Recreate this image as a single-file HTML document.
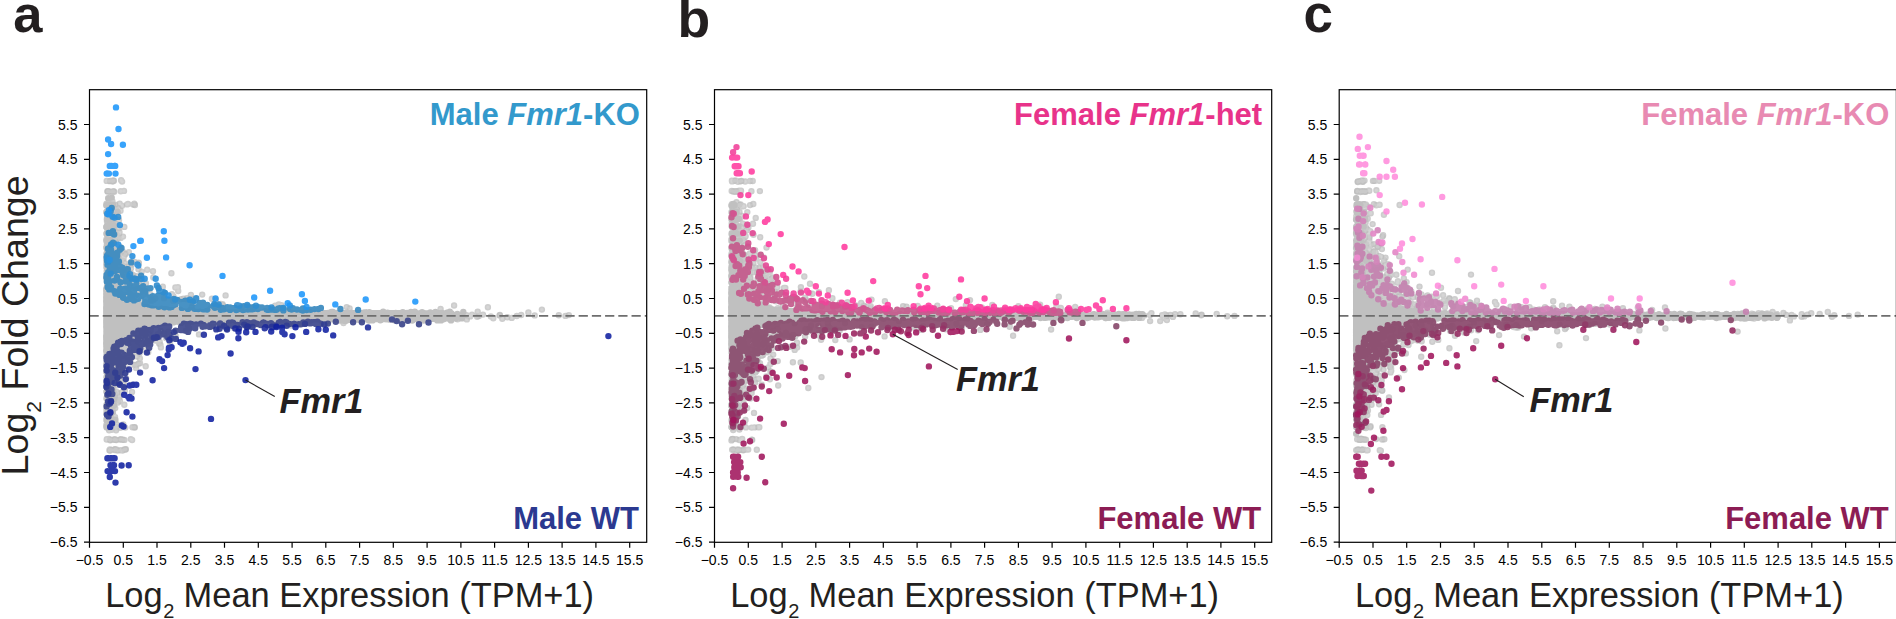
<!DOCTYPE html>
<html lang="en"><head><meta charset="utf-8"><title>Fmr1 MA plots</title>
<style>html,body{margin:0;padding:0;background:#fff;}body{width:1896px;height:619px;position:relative;overflow:hidden;font-family:'Liberation Sans', sans-serif;}</style>
</head><body>
<svg width="1896" height="619" viewBox="0 0 1896 619" style="position:absolute;left:0;top:0">
<rect width="1896" height="619" fill="#fff"/>
<g id="panel0">
<clipPath id="cp0"><rect x="89.5" y="89.7" width="557.2" height="452.6"/></clipPath>
<g clip-path="url(#cp0)" fill="none" stroke-linecap="round" stroke-width="6.4">
<path stroke="#bcbcbc" stroke-opacity="0.74" d="M134.2 335.1h0M109.7 388.0h0M145.7 366.3h0M111.4 381.5h0M110.4 212.8h0M109.6 275.7h0M106.9 278.3h0M108.9 427.7h0M115.3 379.8h0M113.5 231.5h0M124.3 322.9h0M110.8 256.5h0M115.2 309.0h0M284.1 309.1h0M136.1 368.1h0M119.7 371.5h0M111.4 241.0h0M135.6 288.5h0M114.4 273.8h0M253.6 325.0h0M115.0 311.9h0M116.3 440.0h0M111.7 274.3h0M160.5 345.0h0M112.6 397.3h0M114.2 278.4h0M134.0 307.5h0M507.3 317.2h0M528.4 312.4h0M108.4 389.9h0M113.4 261.1h0M112.4 427.3h0M113.7 350.3h0M116.4 324.0h0M153.3 277.5h0M174.9 336.9h0M121.7 366.3h0M119.0 321.2h0M114.2 353.4h0M131.1 323.6h0M171.4 273.2h0M108.2 361.2h0M225.6 295.4h0M134.4 365.0h0M160.9 347.4h0M109.6 335.2h0M125.8 320.4h0M119.7 291.4h0M109.7 294.8h0M109.8 269.1h0M130.9 265.0h0M120.7 237.9h0M141.2 299.7h0M178.2 291.0h0M113.9 302.1h0M107.8 286.0h0M106.8 346.7h0M107.0 262.6h0M119.4 313.1h0M137.1 356.5h0M138.4 363.6h0M118.4 251.8h0M139.9 313.6h0M106.8 309.8h0M117.5 345.5h0M113.1 274.1h0M116.9 234.9h0M117.4 253.5h0M146.8 328.3h0M131.9 298.6h0M455.0 316.9h0M110.7 224.1h0M110.0 222.4h0M112.7 426.8h0M110.3 324.8h0M114.1 398.2h0M108.8 381.1h0M117.0 424.7h0M155.4 298.4h0M106.5 239.2h0M108.1 289.7h0M117.3 292.0h0M108.0 374.5h0M118.4 329.1h0M113.7 308.3h0M124.4 439.9h0M110.1 308.1h0M117.3 323.8h0M112.4 330.9h0M135.0 305.3h0M108.5 251.9h0M134.8 302.7h0M134.3 299.8h0M115.1 317.4h0M123.2 291.7h0M128.9 316.6h0M134.6 427.4h0M109.5 255.6h0M112.7 246.0h0M115.9 318.9h0M118.1 237.3h0M139.6 339.8h0M170.0 318.7h0M109.2 375.4h0M114.2 256.9h0M107.3 320.5h0M112.4 369.2h0M135.1 312.1h0M116.4 340.8h0M142.7 325.2h0M122.6 318.0h0M107.3 270.2h0M132.5 427.3h0M130.8 306.1h0M107.5 244.2h0M120.8 191.3h0M275.1 305.6h0M164.6 309.4h0M145.3 305.1h0M147.8 340.9h0M124.0 190.9h0M138.7 263.4h0M136.2 327.5h0M120.2 277.2h0M126.1 315.4h0M122.0 343.0h0M113.3 318.0h0M122.0 205.8h0M116.6 346.9h0M128.8 304.3h0M114.1 246.3h0M123.7 334.2h0M115.1 282.6h0M119.9 323.5h0M110.2 450.5h0M106.6 319.5h0M111.5 450.0h0M119.0 299.5h0M107.1 217.3h0M137.7 283.3h0M140.0 324.5h0M558.8 315.2h0M112.9 181.2h0M109.5 319.4h0M118.3 310.3h0M120.5 269.9h0M124.3 328.5h0M110.9 283.5h0M118.2 291.8h0M115.2 357.9h0M110.0 191.6h0M111.6 284.8h0M133.5 348.4h0M106.7 252.9h0M115.3 439.7h0M113.6 317.8h0M111.0 398.6h0M107.9 412.7h0M112.9 259.4h0M146.1 311.0h0M291.2 325.6h0M129.4 332.9h0M142.1 279.3h0M190.9 295.0h0M300.2 323.8h0M135.0 314.3h0M127.4 314.6h0M108.3 208.8h0M130.5 272.8h0M146.4 336.1h0M146.1 342.6h0M112.0 191.8h0M110.0 415.1h0M108.2 370.7h0M440.7 315.5h0M114.4 450.1h0M111.4 278.1h0M119.9 371.7h0M131.7 342.3h0M124.3 269.8h0M111.1 221.7h0M108.5 439.2h0M126.7 283.4h0M117.0 319.2h0M123.2 349.7h0M107.6 330.1h0M121.2 296.4h0M106.6 290.2h0M122.4 282.8h0M123.3 424.4h0M147.0 318.4h0M115.2 394.3h0M116.0 318.1h0M118.4 291.5h0M145.9 283.5h0M117.8 276.8h0M114.3 280.7h0M120.3 288.7h0M189.0 328.1h0M123.5 348.2h0M112.4 191.5h0M120.0 369.2h0M110.0 277.8h0M172.2 336.4h0M114.0 380.6h0M135.7 353.2h0M134.4 322.6h0M125.4 309.4h0M183.5 298.8h0M121.2 251.1h0M119.3 271.0h0M114.0 230.8h0M121.7 320.5h0M106.8 205.2h0M135.1 334.7h0M136.1 307.7h0M108.7 285.5h0M112.8 289.0h0M116.4 344.8h0M111.0 379.5h0M483.0 314.6h0M108.0 297.0h0M115.0 240.8h0M113.2 284.2h0M125.6 290.5h0M124.7 263.1h0M109.8 377.5h0M136.7 322.4h0M113.1 227.1h0M124.8 391.0h0M141.7 322.5h0M110.2 250.7h0M120.5 299.2h0M113.2 206.5h0M130.2 308.8h0M431.8 315.1h0M106.8 335.6h0M118.8 298.6h0M113.2 350.1h0M117.3 363.2h0M442.8 316.7h0M107.7 246.3h0M120.4 450.3h0M115.4 450.0h0M114.3 330.6h0M114.2 378.9h0M136.6 276.1h0M150.6 325.7h0M534.7 315.4h0M123.6 333.3h0M541.9 309.6h0M137.4 286.1h0M118.2 332.5h0M108.0 222.6h0M142.9 291.2h0M123.0 304.4h0M109.5 235.6h0M109.6 206.1h0M134.7 307.0h0M143.8 319.8h0M117.7 296.5h0M131.2 358.6h0M133.8 344.8h0M477.7 311.7h0M131.9 317.4h0M115.6 369.4h0M110.5 369.1h0M122.1 181.6h0M138.9 312.5h0M108.4 370.8h0M121.0 296.1h0M109.2 291.3h0M138.7 305.5h0M107.2 392.6h0M111.2 257.4h0M113.5 284.0h0M142.5 306.9h0M107.8 247.0h0M124.3 295.3h0M134.9 205.0h0M138.5 333.4h0M116.4 312.7h0M150.9 313.5h0M112.8 334.2h0M125.4 330.3h0M106.5 364.8h0M109.9 307.8h0M112.6 359.4h0M210.6 308.2h0M134.3 343.8h0M132.7 276.5h0M129.2 293.1h0M111.1 252.7h0M141.6 271.8h0M109.2 309.4h0M108.1 191.2h0M110.4 180.9h0M120.0 401.1h0M115.6 449.6h0M107.9 407.5h0M115.8 242.6h0M127.6 339.8h0M436.0 315.9h0M112.1 384.3h0M108.1 236.9h0M109.8 415.1h0M124.1 368.3h0M127.3 297.4h0M151.4 299.5h0M349.6 308.5h0M129.8 353.2h0M121.9 371.5h0M134.7 262.0h0M113.4 385.0h0M107.0 338.9h0M117.4 303.3h0M121.5 392.4h0M110.0 307.4h0M138.8 281.3h0M127.2 295.5h0M128.0 310.9h0M117.1 247.2h0M177.9 287.2h0M126.2 328.5h0M110.9 423.7h0M107.8 317.5h0M117.8 363.5h0M141.2 329.6h0M109.7 404.3h0M107.2 204.4h0M123.6 296.2h0M119.2 399.6h0M108.6 338.5h0M117.0 319.2h0M116.4 318.5h0M106.8 439.2h0M107.6 230.6h0M119.1 250.2h0M125.9 319.1h0M128.5 312.1h0M111.9 272.9h0M109.2 439.4h0M163.8 333.5h0M124.3 302.6h0M114.3 310.9h0M134.9 305.9h0M133.9 322.3h0M123.7 322.3h0M113.8 290.8h0M113.9 301.4h0M109.1 438.9h0M112.5 391.0h0M133.5 308.8h0M466.8 319.4h0M118.6 258.2h0M110.4 407.4h0M111.8 282.9h0M107.1 348.8h0M111.8 326.3h0M115.7 208.8h0M453.7 316.1h0M139.1 284.6h0M145.2 291.2h0M114.3 259.5h0M110.2 322.5h0M111.1 204.5h0M113.3 191.3h0M145.2 330.4h0M129.6 328.9h0M114.2 292.9h0M129.8 280.6h0M156.2 318.0h0M118.9 302.3h0M115.2 211.1h0M120.4 427.7h0M188.0 325.2h0M478.9 315.9h0M122.5 450.5h0M116.4 337.9h0M114.9 439.1h0M116.5 337.9h0M123.0 365.0h0M112.5 180.8h0M113.4 288.6h0M110.9 330.5h0M111.2 400.0h0M132.0 384.7h0M119.4 332.4h0M127.0 357.7h0M113.0 411.5h0M119.6 345.4h0M144.1 308.9h0M122.5 260.6h0M113.2 241.5h0M118.8 228.5h0M143.5 315.0h0M110.6 338.0h0M137.1 336.7h0M122.6 331.1h0M133.8 339.7h0M111.1 262.5h0M107.8 205.0h0M130.7 262.3h0M175.4 287.5h0M123.0 309.5h0M109.6 322.6h0M137.0 345.2h0M109.8 372.0h0M111.5 258.3h0M202.6 314.7h0M171.4 318.3h0M281.6 305.1h0M115.7 272.2h0M130.0 287.3h0M115.6 423.1h0M430.5 318.8h0M148.2 352.3h0M116.6 317.6h0M117.8 254.4h0M111.0 267.5h0M145.2 291.3h0M324.8 323.6h0M106.5 247.5h0M114.7 401.1h0M141.0 292.2h0M109.3 408.5h0M137.9 326.2h0M109.5 243.5h0M116.7 357.4h0M127.0 297.7h0M222.5 304.1h0M112.6 262.3h0M123.5 348.0h0M114.8 356.6h0M135.1 342.6h0M124.3 283.6h0M118.4 342.0h0M117.5 351.5h0M499.9 315.0h0M114.7 330.6h0M121.6 303.8h0M122.4 356.7h0M116.4 270.5h0M114.0 353.7h0M129.5 317.7h0M108.6 204.1h0M112.0 322.2h0M108.7 294.8h0M125.4 318.3h0M111.5 205.6h0M241.0 325.2h0M191.6 307.3h0M487.9 307.2h0M125.1 388.2h0M108.4 385.9h0M113.6 372.9h0M120.4 319.6h0M109.3 287.3h0M134.8 312.3h0M110.3 224.7h0M113.2 324.9h0M130.8 326.0h0M215.9 299.6h0M149.1 333.6h0M123.7 380.3h0M147.2 327.8h0M145.4 302.1h0M109.3 313.3h0M136.5 323.7h0M125.3 449.5h0M126.5 312.3h0M141.1 332.4h0M111.9 382.8h0M112.7 401.4h0M127.3 295.3h0M129.7 361.8h0M113.9 273.8h0M106.7 439.6h0M116.3 449.4h0M112.0 371.0h0M108.7 386.0h0M111.8 331.6h0M135.3 295.1h0M112.9 282.7h0M119.3 369.8h0M436.3 318.2h0M141.6 309.9h0M114.5 376.3h0M120.3 238.1h0M111.6 418.2h0M114.2 325.6h0M124.2 351.0h0M115.6 375.1h0M124.3 404.7h0M130.2 338.1h0M107.7 340.4h0M109.3 272.9h0M124.3 226.9h0M112.8 306.9h0M122.0 275.1h0M219.6 305.6h0M119.7 203.6h0M132.5 318.7h0M135.9 307.9h0M143.2 306.4h0M112.9 392.4h0M112.5 327.3h0M111.0 231.9h0M126.1 378.5h0M115.6 302.7h0M130.6 308.9h0M116.2 285.0h0M278.8 304.4h0M185.9 330.6h0M109.0 404.4h0M115.3 449.3h0M122.0 342.0h0M119.2 369.7h0M126.4 296.9h0M114.2 423.1h0M113.4 426.8h0M120.9 439.3h0M114.0 300.6h0M113.2 180.8h0M109.6 279.2h0M116.3 427.3h0M142.8 326.6h0M121.9 322.1h0M111.9 366.1h0M142.6 287.3h0M119.0 238.2h0M118.6 262.6h0M110.9 390.6h0M150.8 340.6h0M106.6 383.6h0M114.1 320.9h0M124.4 312.3h0M121.2 260.5h0M123.0 317.1h0M109.8 262.0h0M111.1 326.7h0M126.0 349.0h0M116.6 339.7h0M109.7 204.1h0M134.7 286.0h0M126.6 349.3h0M130.5 340.7h0M142.1 329.3h0M122.0 335.4h0M107.5 191.4h0M110.9 439.8h0M110.2 409.3h0M565.5 315.9h0M109.7 372.6h0M114.4 427.5h0M128.2 309.3h0M110.6 374.3h0M249.9 326.3h0M106.7 427.6h0M118.4 296.5h0M119.5 306.5h0M220.8 304.0h0M116.4 224.1h0M107.3 301.2h0M115.2 266.2h0M130.9 310.3h0M440.6 308.9h0M119.4 338.3h0M127.0 268.6h0M110.0 181.1h0M447.9 316.8h0M129.8 314.7h0M112.9 266.0h0M141.5 328.5h0M116.1 305.6h0M137.1 346.6h0M141.0 306.2h0M129.1 299.2h0M106.6 227.3h0M122.1 288.9h0M110.6 313.1h0M117.7 254.9h0M125.5 253.9h0M120.2 247.0h0M135.6 295.6h0M140.6 330.4h0M129.2 287.8h0M107.3 385.2h0M119.5 317.7h0M125.0 289.4h0M108.2 307.5h0M128.8 316.5h0M123.0 236.6h0M119.2 278.3h0M121.1 180.2h0M127.1 282.0h0M154.4 309.6h0M118.5 306.9h0M107.6 402.7h0M110.9 399.4h0M125.7 280.9h0M112.4 327.8h0M113.8 334.5h0M128.5 321.2h0"/>
<path stroke="#bcbcbc" stroke-opacity="0.74" d="M107.2 247.3h0M130.1 283.6h0M115.4 339.0h0M123.1 343.1h0M110.1 280.7h0M117.4 297.5h0M120.5 337.2h0M112.1 329.7h0M111.0 285.6h0M115.2 367.0h0M111.8 347.0h0M127.1 204.4h0M107.5 251.2h0M127.4 362.3h0M132.2 353.0h0M117.5 393.0h0M107.3 313.5h0M132.0 392.0h0M143.7 312.4h0M122.5 329.6h0M155.7 340.6h0M113.8 313.6h0M117.4 322.2h0M128.4 297.0h0M144.0 333.4h0M114.1 338.6h0M477.2 316.7h0M126.8 300.9h0M151.2 320.3h0M110.3 323.1h0M121.4 251.7h0M107.8 332.7h0M107.1 378.1h0M116.6 276.5h0M118.5 237.6h0M109.1 430.2h0M128.3 343.5h0M466.6 315.2h0M113.2 234.4h0M128.5 331.6h0M121.6 294.8h0M133.0 274.9h0M109.9 449.5h0M109.3 245.5h0M215.9 327.0h0M109.7 221.6h0M111.0 318.3h0M161.6 319.3h0M106.8 317.5h0M121.9 319.0h0M130.7 322.2h0M108.6 326.6h0M108.9 202.2h0M168.3 331.7h0M113.9 180.8h0M122.2 330.9h0M107.7 191.3h0M120.0 349.4h0M153.0 271.2h0M140.8 338.5h0M187.4 299.0h0M114.3 359.2h0M106.4 351.2h0M117.1 288.2h0M108.9 269.6h0M521.2 315.0h0M111.5 232.1h0M147.6 344.1h0M109.9 398.9h0M112.3 382.4h0M134.3 203.6h0M125.3 304.5h0M468.9 316.5h0M119.9 329.9h0M127.6 282.1h0M111.3 232.4h0M108.5 331.2h0M117.2 305.9h0M127.2 298.4h0M115.3 373.4h0M109.1 191.7h0M137.2 288.5h0M124.6 320.6h0M125.3 344.4h0M112.2 284.6h0M161.1 312.0h0M152.4 300.1h0M493.3 318.2h0M141.0 343.5h0M113.2 392.9h0M122.0 332.2h0M120.2 281.9h0M141.8 327.1h0M176.5 317.5h0M118.7 265.6h0M113.5 315.7h0M107.7 293.1h0M122.7 346.6h0M111.8 281.1h0M143.9 290.4h0M142.6 348.9h0M117.2 313.6h0M137.8 303.7h0M120.8 338.1h0M111.2 303.7h0M138.5 269.3h0M109.7 202.6h0M196.0 299.0h0M423.8 316.8h0M121.1 309.2h0M502.3 318.7h0M108.5 230.0h0M130.9 290.1h0M134.5 326.3h0M113.9 216.7h0M131.4 300.3h0M116.6 372.9h0M157.6 334.2h0M108.7 181.1h0M116.8 374.7h0M116.1 391.4h0M140.7 350.6h0M110.7 282.8h0M110.2 255.8h0M111.0 301.2h0M133.8 315.3h0M125.3 427.6h0M117.9 260.9h0M140.0 363.3h0M137.9 342.8h0M127.4 359.9h0M119.0 234.0h0M124.1 268.7h0M119.0 220.0h0M118.0 352.8h0M118.1 255.2h0M109.7 232.2h0M106.4 409.8h0M115.4 313.4h0M132.1 319.8h0M108.9 406.6h0M119.7 325.9h0M123.1 269.5h0M109.9 377.6h0M150.5 330.7h0M137.3 294.1h0M122.5 271.2h0M124.4 255.5h0M139.4 353.6h0M123.3 272.6h0M152.3 339.2h0M151.2 301.1h0M222.8 307.3h0M109.7 245.4h0M152.9 309.7h0M109.6 362.6h0M134.9 292.4h0M114.1 347.6h0M110.4 204.1h0M109.2 353.6h0M108.8 332.8h0M454.1 305.5h0M107.5 375.6h0M490.9 316.5h0M121.6 335.4h0M118.7 256.5h0M116.9 265.4h0M108.2 292.9h0M128.0 339.5h0M108.6 324.3h0M117.5 298.1h0M147.2 269.8h0M107.0 382.1h0M441.4 312.9h0M155.5 315.5h0M114.6 204.8h0M115.8 320.8h0M216.7 328.3h0M132.8 290.3h0M131.6 261.9h0M145.9 291.4h0M117.2 232.1h0M140.4 315.6h0M121.1 329.0h0M106.6 314.7h0M122.9 366.0h0M470.1 316.4h0M126.6 275.1h0M115.7 267.8h0M124.7 348.8h0M431.6 317.8h0M141.5 318.4h0M106.9 337.1h0M107.9 415.0h0M114.2 335.4h0M112.9 296.1h0M118.4 299.4h0M108.3 367.0h0M125.9 345.8h0M117.6 278.4h0M211.9 298.7h0M107.0 390.7h0M121.1 293.6h0M111.5 281.0h0M131.0 268.2h0M109.6 287.2h0M119.1 339.5h0M114.4 278.9h0M127.0 316.5h0M123.6 280.8h0M121.9 266.8h0M113.5 238.4h0M146.3 320.2h0M124.4 370.4h0M181.1 299.3h0M112.4 291.7h0M107.4 286.0h0M129.9 299.0h0M568.8 315.1h0M115.9 296.2h0M109.1 427.7h0M470.2 315.9h0M111.8 241.2h0M109.6 313.2h0M142.1 282.4h0M113.5 387.7h0M147.7 325.2h0M107.9 316.9h0M108.6 332.2h0M107.7 235.4h0M516.8 316.0h0M127.7 276.1h0M119.0 294.5h0M128.4 301.9h0M109.1 349.2h0M113.8 244.7h0M116.5 333.9h0M119.9 322.6h0M107.3 423.2h0M106.7 226.5h0M114.2 327.9h0M122.1 287.0h0M132.1 440.0h0M108.9 281.9h0M111.7 305.1h0M107.9 307.8h0M112.9 403.5h0M113.7 209.4h0M120.5 210.8h0M135.9 308.4h0M117.6 450.6h0M122.7 331.3h0M123.1 257.5h0M107.1 326.1h0M113.0 341.9h0M118.0 334.4h0M446.9 315.2h0M121.7 359.3h0M118.6 362.2h0M109.8 207.0h0M129.9 317.7h0M135.1 318.3h0M113.7 319.9h0M138.0 323.8h0M137.2 306.8h0M173.3 300.9h0M222.7 305.3h0M119.8 314.5h0M109.4 256.5h0M114.2 191.7h0M112.5 181.3h0M122.8 251.7h0M126.2 369.3h0M111.2 250.1h0M186.8 298.2h0M143.6 347.7h0M106.8 244.4h0M111.5 232.1h0M114.8 314.9h0M106.8 226.9h0M124.2 311.3h0M115.1 303.7h0M109.8 388.3h0M107.1 386.6h0M138.7 262.6h0M459.6 315.6h0M116.3 364.7h0M108.4 229.2h0M109.4 204.8h0M116.0 266.2h0M127.4 309.7h0M127.3 288.1h0M116.0 251.6h0M126.2 313.3h0M199.0 334.4h0M120.9 371.2h0M250.4 307.3h0M109.2 274.7h0M148.2 340.4h0M114.5 278.6h0M118.8 345.3h0M255.9 324.4h0M122.5 370.4h0M116.1 426.9h0M120.0 277.4h0M106.7 339.1h0M126.4 280.8h0M111.2 411.5h0M110.1 303.8h0M113.7 408.0h0M110.2 440.3h0M123.6 258.4h0M115.9 251.0h0M112.4 201.3h0M122.0 347.0h0M218.3 325.0h0M292.3 324.3h0M121.1 336.9h0M113.2 229.7h0M135.7 337.2h0M191.2 298.9h0M116.6 384.2h0M109.5 299.6h0M119.6 356.9h0M118.3 384.8h0M108.7 308.0h0M109.3 224.6h0M449.8 316.1h0M107.4 404.2h0M134.6 427.2h0M111.5 330.2h0M128.9 252.3h0M122.6 311.6h0M115.0 417.0h0M117.1 232.1h0M109.2 333.8h0M108.1 288.2h0M125.9 319.8h0M112.4 223.9h0M115.8 275.1h0M125.6 321.5h0M452.5 317.7h0M126.6 327.8h0M124.4 449.5h0M115.4 238.4h0M126.7 321.9h0M119.6 291.2h0M114.8 294.1h0M106.9 245.7h0M133.2 300.8h0M111.1 401.1h0M151.1 300.1h0M121.9 286.5h0M113.1 353.2h0M113.5 415.4h0M141.8 343.0h0M125.6 309.4h0M124.8 334.8h0M173.4 296.2h0M110.7 279.2h0M132.8 302.9h0M124.8 302.1h0M113.7 280.0h0M164.2 313.6h0M114.2 316.1h0M121.9 340.5h0M145.8 334.9h0M149.3 318.2h0M116.9 294.5h0M461.1 317.4h0M117.9 302.3h0M125.7 278.0h0M149.3 294.8h0M114.1 263.1h0M107.4 323.8h0M120.4 306.9h0M457.6 319.2h0M499.6 315.5h0M113.7 371.3h0M202.2 294.6h0M120.6 329.7h0M113.3 311.1h0M245.6 325.2h0M116.8 374.7h0M241.6 307.2h0M121.6 264.4h0M280.5 307.6h0M159.2 343.6h0M109.0 311.1h0M152.9 317.9h0M111.0 364.7h0M166.0 338.1h0M139.9 358.4h0M439.8 315.6h0M121.1 308.3h0M106.5 424.8h0M125.4 295.0h0M129.7 339.5h0M107.4 378.0h0M113.5 315.6h0M234.2 328.3h0M119.4 397.3h0M108.0 396.0h0M165.6 320.8h0M110.3 251.4h0M117.5 336.1h0M117.2 313.2h0M111.6 272.9h0M128.8 304.5h0M109.2 371.5h0M117.0 290.1h0M115.3 204.6h0M115.6 285.0h0M121.6 298.6h0M118.0 297.8h0M122.9 305.0h0M150.3 294.0h0M129.7 293.1h0M135.9 327.8h0M121.9 336.5h0M109.3 248.0h0M107.3 255.1h0M110.0 286.8h0M107.4 257.9h0M115.5 287.7h0M107.5 214.5h0M110.4 407.3h0M125.8 449.2h0M150.9 328.1h0M114.7 205.5h0M113.1 306.5h0M112.8 345.3h0M132.3 353.3h0M130.2 276.8h0M110.1 363.3h0M215.0 305.3h0M115.1 210.9h0M472.0 314.6h0M126.8 329.7h0M128.4 266.7h0M121.6 267.0h0M346.7 307.1h0M136.8 317.9h0M148.5 323.2h0M115.5 266.3h0M141.9 332.4h0M110.8 289.8h0M115.2 408.1h0M127.9 318.0h0M114.2 439.7h0M118.5 329.0h0M182.0 322.2h0M113.1 341.6h0M119.3 248.1h0M129.0 316.8h0M114.6 234.9h0M121.9 341.2h0M136.2 365.0h0M124.5 358.7h0M149.1 310.3h0M124.0 274.2h0M106.7 180.9h0M112.1 258.7h0M114.7 323.7h0M118.0 342.7h0M112.9 268.5h0M134.4 310.3h0M112.7 216.4h0M121.6 303.0h0M113.2 409.1h0M124.8 266.8h0M112.9 336.5h0M115.6 324.6h0M125.2 285.7h0M124.6 284.4h0M124.7 328.2h0M122.5 382.9h0M116.0 247.0h0M117.9 363.5h0M107.7 300.1h0M159.7 341.7h0M118.0 402.6h0M120.1 439.6h0M118.4 208.3h0M114.8 339.3h0M107.0 413.7h0M114.0 330.5h0M112.9 324.3h0M108.1 255.6h0M436.8 317.9h0M110.8 244.1h0M118.6 289.5h0M107.3 243.5h0M111.4 234.5h0M119.0 340.8h0M108.2 327.9h0M123.3 343.4h0M110.4 318.2h0M107.2 249.7h0M121.8 281.7h0M116.8 384.6h0M108.1 312.9h0M107.5 286.9h0M111.9 429.7h0M130.1 339.4h0M116.1 254.7h0M125.3 339.2h0M143.7 348.5h0M108.1 240.0h0M115.2 294.3h0M114.8 449.5h0M114.4 347.2h0M107.4 252.9h0M133.9 330.6h0M110.6 241.1h0M143.1 294.7h0M162.8 286.7h0M137.1 294.3h0M130.5 305.5h0M122.5 439.7h0M111.0 217.3h0M110.6 363.6h0M119.0 335.5h0M107.4 341.5h0M343.5 323.1h0M106.5 211.9h0M109.4 450.3h0M118.0 290.2h0M114.9 225.6h0M117.2 304.6h0M111.1 394.7h0M122.5 329.0h0M123.3 334.0h0M108.2 222.6h0M116.7 323.0h0M132.2 303.0h0M192.8 303.7h0M116.1 430.2h0M108.2 256.2h0M115.3 262.7h0M115.2 426.9h0M138.9 342.9h0M120.6 262.3h0M114.0 262.8h0M111.3 241.4h0M141.4 331.0h0M111.7 250.2h0M117.9 400.0h0M108.1 257.0h0M131.3 297.5h0M107.4 203.6h0M122.8 366.7h0M121.8 282.3h0M119.6 250.8h0M108.4 321.8h0M118.4 247.0h0M119.5 232.3h0M125.2 372.9h0M136.6 302.5h0M109.9 402.7h0M126.8 353.1h0M140.9 280.8h0M109.5 426.2h0M116.9 361.8h0M106.7 366.7h0M108.4 323.6h0M114.4 305.4h0M112.5 304.2h0M115.5 239.0h0M175.6 335.6h0M108.9 295.1h0M135.8 291.6h0M152.7 316.2h0M130.8 439.1h0M133.2 204.6h0M126.9 316.5h0M134.2 339.6h0M108.8 426.8h0M153.1 300.3h0M110.4 368.2h0M164.1 298.4h0M186.9 299.4h0M211.7 326.6h0M124.2 384.8h0M119.1 248.0h0M163.7 309.6h0M160.7 331.0h0M111.3 240.5h0M170.0 343.0h0M114.9 439.9h0M128.0 203.9h0M171.9 320.6h0M120.7 380.5h0M110.8 323.6h0M108.8 356.5h0M106.5 203.8h0M115.6 298.6h0M107.0 221.5h0M107.9 421.4h0M113.7 426.9h0M127.3 360.2h0M112.4 422.0h0M171.9 294.3h0M137.7 340.1h0M511.7 317.9h0"/>
<path stroke="#fff" stroke-width="3.4" stroke-opacity="0.16" d="M134.2 335.1h0M109.7 388.0h0M145.7 366.3h0M111.4 381.5h0M110.4 212.8h0M109.6 275.7h0M106.9 278.3h0M108.9 427.7h0M115.3 379.8h0M113.5 231.5h0M124.3 322.9h0M110.8 256.5h0M115.2 309.0h0M284.1 309.1h0M136.1 368.1h0M119.7 371.5h0M111.4 241.0h0M135.6 288.5h0M114.4 273.8h0M253.6 325.0h0M115.0 311.9h0M116.3 440.0h0M111.7 274.3h0M160.5 345.0h0M112.6 397.3h0M114.2 278.4h0M134.0 307.5h0M507.3 317.2h0M528.4 312.4h0M108.4 389.9h0M113.4 261.1h0M112.4 427.3h0M113.7 350.3h0M116.4 324.0h0M153.3 277.5h0M174.9 336.9h0M121.7 366.3h0M119.0 321.2h0M114.2 353.4h0M131.1 323.6h0M171.4 273.2h0M108.2 361.2h0M225.6 295.4h0M134.4 365.0h0M160.9 347.4h0M109.6 335.2h0M125.8 320.4h0M119.7 291.4h0M109.7 294.8h0M109.8 269.1h0M130.9 265.0h0M120.7 237.9h0M141.2 299.7h0M178.2 291.0h0M113.9 302.1h0M107.8 286.0h0M106.8 346.7h0M107.0 262.6h0M119.4 313.1h0M137.1 356.5h0M138.4 363.6h0M118.4 251.8h0M139.9 313.6h0M106.8 309.8h0M117.5 345.5h0M113.1 274.1h0M116.9 234.9h0M117.4 253.5h0M146.8 328.3h0M131.9 298.6h0M455.0 316.9h0M110.7 224.1h0M110.0 222.4h0M112.7 426.8h0M110.3 324.8h0M114.1 398.2h0M108.8 381.1h0M117.0 424.7h0M155.4 298.4h0M106.5 239.2h0M108.1 289.7h0M117.3 292.0h0M108.0 374.5h0M118.4 329.1h0M113.7 308.3h0M124.4 439.9h0M110.1 308.1h0M117.3 323.8h0M112.4 330.9h0M135.0 305.3h0M108.5 251.9h0M134.8 302.7h0M134.3 299.8h0M115.1 317.4h0M123.2 291.7h0M128.9 316.6h0M134.6 427.4h0M109.5 255.6h0M112.7 246.0h0M115.9 318.9h0M118.1 237.3h0M139.6 339.8h0M170.0 318.7h0M109.2 375.4h0M114.2 256.9h0M107.3 320.5h0M112.4 369.2h0M135.1 312.1h0M116.4 340.8h0M142.7 325.2h0M122.6 318.0h0M107.3 270.2h0M132.5 427.3h0M130.8 306.1h0M107.5 244.2h0M120.8 191.3h0M275.1 305.6h0M164.6 309.4h0M145.3 305.1h0M147.8 340.9h0M124.0 190.9h0M138.7 263.4h0M136.2 327.5h0M120.2 277.2h0M126.1 315.4h0M122.0 343.0h0M113.3 318.0h0M122.0 205.8h0M116.6 346.9h0M128.8 304.3h0M114.1 246.3h0M123.7 334.2h0M115.1 282.6h0M119.9 323.5h0M110.2 450.5h0M106.6 319.5h0M111.5 450.0h0M119.0 299.5h0M107.1 217.3h0M137.7 283.3h0M140.0 324.5h0M558.8 315.2h0M112.9 181.2h0M109.5 319.4h0M118.3 310.3h0M120.5 269.9h0M124.3 328.5h0M110.9 283.5h0M118.2 291.8h0M115.2 357.9h0M110.0 191.6h0M111.6 284.8h0M133.5 348.4h0M106.7 252.9h0M115.3 439.7h0M113.6 317.8h0M111.0 398.6h0M107.9 412.7h0M112.9 259.4h0M146.1 311.0h0M291.2 325.6h0M129.4 332.9h0M142.1 279.3h0M190.9 295.0h0M300.2 323.8h0M135.0 314.3h0M127.4 314.6h0M108.3 208.8h0M130.5 272.8h0M146.4 336.1h0M146.1 342.6h0M112.0 191.8h0M110.0 415.1h0M108.2 370.7h0M440.7 315.5h0M114.4 450.1h0M111.4 278.1h0M119.9 371.7h0M131.7 342.3h0M124.3 269.8h0M111.1 221.7h0M108.5 439.2h0M126.7 283.4h0M117.0 319.2h0M123.2 349.7h0M107.6 330.1h0M121.2 296.4h0M106.6 290.2h0M122.4 282.8h0M123.3 424.4h0M147.0 318.4h0M115.2 394.3h0M116.0 318.1h0M118.4 291.5h0M145.9 283.5h0M117.8 276.8h0M114.3 280.7h0M120.3 288.7h0M189.0 328.1h0M123.5 348.2h0M112.4 191.5h0M120.0 369.2h0M110.0 277.8h0M172.2 336.4h0M114.0 380.6h0M135.7 353.2h0M134.4 322.6h0M125.4 309.4h0M183.5 298.8h0M121.2 251.1h0M119.3 271.0h0M114.0 230.8h0M121.7 320.5h0M106.8 205.2h0M135.1 334.7h0M136.1 307.7h0M108.7 285.5h0M112.8 289.0h0M116.4 344.8h0M111.0 379.5h0M483.0 314.6h0M108.0 297.0h0M115.0 240.8h0M113.2 284.2h0M125.6 290.5h0M124.7 263.1h0M109.8 377.5h0M136.7 322.4h0M113.1 227.1h0M124.8 391.0h0M141.7 322.5h0M110.2 250.7h0M120.5 299.2h0M113.2 206.5h0M130.2 308.8h0M431.8 315.1h0M106.8 335.6h0M118.8 298.6h0M113.2 350.1h0M117.3 363.2h0M442.8 316.7h0M107.7 246.3h0M120.4 450.3h0M115.4 450.0h0M114.3 330.6h0M114.2 378.9h0M136.6 276.1h0M150.6 325.7h0M534.7 315.4h0M123.6 333.3h0M541.9 309.6h0M137.4 286.1h0M118.2 332.5h0M108.0 222.6h0M142.9 291.2h0M123.0 304.4h0M109.5 235.6h0M109.6 206.1h0M134.7 307.0h0M143.8 319.8h0M117.7 296.5h0M131.2 358.6h0M133.8 344.8h0M477.7 311.7h0M131.9 317.4h0M115.6 369.4h0M110.5 369.1h0M122.1 181.6h0M138.9 312.5h0M108.4 370.8h0M121.0 296.1h0M109.2 291.3h0M138.7 305.5h0M107.2 392.6h0M111.2 257.4h0M113.5 284.0h0M142.5 306.9h0M107.8 247.0h0M124.3 295.3h0M134.9 205.0h0M138.5 333.4h0M116.4 312.7h0M150.9 313.5h0M112.8 334.2h0M125.4 330.3h0M106.5 364.8h0M109.9 307.8h0M112.6 359.4h0M210.6 308.2h0M134.3 343.8h0M132.7 276.5h0M129.2 293.1h0M111.1 252.7h0M141.6 271.8h0M109.2 309.4h0M108.1 191.2h0M110.4 180.9h0M120.0 401.1h0M115.6 449.6h0M107.9 407.5h0M115.8 242.6h0M127.6 339.8h0M436.0 315.9h0M112.1 384.3h0M108.1 236.9h0M109.8 415.1h0M124.1 368.3h0M127.3 297.4h0M151.4 299.5h0M349.6 308.5h0M129.8 353.2h0M121.9 371.5h0M134.7 262.0h0M113.4 385.0h0M107.0 338.9h0M117.4 303.3h0M121.5 392.4h0M110.0 307.4h0M138.8 281.3h0M127.2 295.5h0M128.0 310.9h0M117.1 247.2h0M177.9 287.2h0M126.2 328.5h0M110.9 423.7h0M107.8 317.5h0M117.8 363.5h0M141.2 329.6h0M109.7 404.3h0M107.2 204.4h0M123.6 296.2h0M119.2 399.6h0M108.6 338.5h0M117.0 319.2h0M116.4 318.5h0M106.8 439.2h0M107.6 230.6h0M119.1 250.2h0M125.9 319.1h0M128.5 312.1h0M111.9 272.9h0M109.2 439.4h0M163.8 333.5h0M124.3 302.6h0M114.3 310.9h0M134.9 305.9h0M133.9 322.3h0M123.7 322.3h0M113.8 290.8h0M113.9 301.4h0M109.1 438.9h0M112.5 391.0h0M133.5 308.8h0M466.8 319.4h0M118.6 258.2h0M110.4 407.4h0M111.8 282.9h0M107.1 348.8h0M111.8 326.3h0M115.7 208.8h0M453.7 316.1h0M139.1 284.6h0M145.2 291.2h0M114.3 259.5h0M110.2 322.5h0M111.1 204.5h0M113.3 191.3h0M145.2 330.4h0M129.6 328.9h0M114.2 292.9h0M129.8 280.6h0M156.2 318.0h0M118.9 302.3h0M115.2 211.1h0M120.4 427.7h0M188.0 325.2h0M478.9 315.9h0M122.5 450.5h0M116.4 337.9h0M114.9 439.1h0M116.5 337.9h0M123.0 365.0h0M112.5 180.8h0M113.4 288.6h0M110.9 330.5h0M111.2 400.0h0M132.0 384.7h0M119.4 332.4h0M127.0 357.7h0M113.0 411.5h0M119.6 345.4h0M144.1 308.9h0M122.5 260.6h0M113.2 241.5h0M118.8 228.5h0M143.5 315.0h0M110.6 338.0h0M137.1 336.7h0M122.6 331.1h0M133.8 339.7h0M111.1 262.5h0M107.8 205.0h0M130.7 262.3h0M175.4 287.5h0M123.0 309.5h0M109.6 322.6h0M137.0 345.2h0M109.8 372.0h0M111.5 258.3h0M202.6 314.7h0M171.4 318.3h0M281.6 305.1h0M115.7 272.2h0M130.0 287.3h0M115.6 423.1h0M430.5 318.8h0M148.2 352.3h0M116.6 317.6h0M117.8 254.4h0M111.0 267.5h0M145.2 291.3h0M324.8 323.6h0M106.5 247.5h0M114.7 401.1h0M141.0 292.2h0M109.3 408.5h0M137.9 326.2h0M109.5 243.5h0M116.7 357.4h0M127.0 297.7h0M222.5 304.1h0M112.6 262.3h0M123.5 348.0h0M114.8 356.6h0M135.1 342.6h0M124.3 283.6h0M118.4 342.0h0M117.5 351.5h0M499.9 315.0h0M114.7 330.6h0M121.6 303.8h0M122.4 356.7h0M116.4 270.5h0M114.0 353.7h0M129.5 317.7h0M108.6 204.1h0M112.0 322.2h0M108.7 294.8h0M125.4 318.3h0M111.5 205.6h0M241.0 325.2h0M191.6 307.3h0M487.9 307.2h0M125.1 388.2h0M108.4 385.9h0M113.6 372.9h0M120.4 319.6h0M109.3 287.3h0M134.8 312.3h0M110.3 224.7h0M113.2 324.9h0M130.8 326.0h0M215.9 299.6h0M149.1 333.6h0M123.7 380.3h0M147.2 327.8h0M145.4 302.1h0M109.3 313.3h0M136.5 323.7h0M125.3 449.5h0M126.5 312.3h0M141.1 332.4h0M111.9 382.8h0M112.7 401.4h0M127.3 295.3h0M129.7 361.8h0M113.9 273.8h0M106.7 439.6h0M116.3 449.4h0M112.0 371.0h0M108.7 386.0h0M111.8 331.6h0M135.3 295.1h0M112.9 282.7h0M119.3 369.8h0M436.3 318.2h0M141.6 309.9h0M114.5 376.3h0M120.3 238.1h0M111.6 418.2h0M114.2 325.6h0M124.2 351.0h0M115.6 375.1h0M124.3 404.7h0M130.2 338.1h0M107.7 340.4h0M109.3 272.9h0M124.3 226.9h0M112.8 306.9h0M122.0 275.1h0M219.6 305.6h0M119.7 203.6h0M132.5 318.7h0M135.9 307.9h0M143.2 306.4h0M112.9 392.4h0M112.5 327.3h0M111.0 231.9h0M126.1 378.5h0M115.6 302.7h0M130.6 308.9h0M116.2 285.0h0M278.8 304.4h0M185.9 330.6h0M109.0 404.4h0M115.3 449.3h0M122.0 342.0h0M119.2 369.7h0M126.4 296.9h0M114.2 423.1h0M113.4 426.8h0M120.9 439.3h0M114.0 300.6h0M113.2 180.8h0M109.6 279.2h0M116.3 427.3h0M142.8 326.6h0M121.9 322.1h0M111.9 366.1h0M142.6 287.3h0M119.0 238.2h0M118.6 262.6h0M110.9 390.6h0M150.8 340.6h0M106.6 383.6h0M114.1 320.9h0M124.4 312.3h0M121.2 260.5h0M123.0 317.1h0M109.8 262.0h0M111.1 326.7h0M126.0 349.0h0M116.6 339.7h0M109.7 204.1h0M134.7 286.0h0M126.6 349.3h0M130.5 340.7h0M142.1 329.3h0M122.0 335.4h0M107.5 191.4h0M110.9 439.8h0M110.2 409.3h0M565.5 315.9h0M109.7 372.6h0M114.4 427.5h0M128.2 309.3h0M110.6 374.3h0M249.9 326.3h0M106.7 427.6h0M118.4 296.5h0M119.5 306.5h0M220.8 304.0h0M116.4 224.1h0M107.3 301.2h0M115.2 266.2h0M130.9 310.3h0M440.6 308.9h0M119.4 338.3h0M127.0 268.6h0M110.0 181.1h0M447.9 316.8h0M129.8 314.7h0M112.9 266.0h0M141.5 328.5h0M116.1 305.6h0M137.1 346.6h0M141.0 306.2h0M129.1 299.2h0M106.6 227.3h0M122.1 288.9h0M110.6 313.1h0M117.7 254.9h0M125.5 253.9h0M120.2 247.0h0M135.6 295.6h0M140.6 330.4h0M129.2 287.8h0M107.3 385.2h0M119.5 317.7h0M125.0 289.4h0M108.2 307.5h0M128.8 316.5h0M123.0 236.6h0M119.2 278.3h0M121.1 180.2h0M127.1 282.0h0M154.4 309.6h0M118.5 306.9h0M107.6 402.7h0M110.9 399.4h0M125.7 280.9h0M112.4 327.8h0M113.8 334.5h0M128.5 321.2h0M107.2 247.3h0M130.1 283.6h0M115.4 339.0h0M123.1 343.1h0M110.1 280.7h0M117.4 297.5h0M120.5 337.2h0M112.1 329.7h0M111.0 285.6h0M115.2 367.0h0M111.8 347.0h0M127.1 204.4h0M107.5 251.2h0M127.4 362.3h0M132.2 353.0h0M117.5 393.0h0M107.3 313.5h0M132.0 392.0h0M143.7 312.4h0M122.5 329.6h0M155.7 340.6h0M113.8 313.6h0M117.4 322.2h0M128.4 297.0h0M144.0 333.4h0M114.1 338.6h0M477.2 316.7h0M126.8 300.9h0M151.2 320.3h0M110.3 323.1h0M121.4 251.7h0M107.8 332.7h0M107.1 378.1h0M116.6 276.5h0M118.5 237.6h0M109.1 430.2h0M128.3 343.5h0M466.6 315.2h0M113.2 234.4h0M128.5 331.6h0M121.6 294.8h0M133.0 274.9h0M109.9 449.5h0M109.3 245.5h0M215.9 327.0h0M109.7 221.6h0M111.0 318.3h0M161.6 319.3h0M106.8 317.5h0M121.9 319.0h0M130.7 322.2h0M108.6 326.6h0M108.9 202.2h0M168.3 331.7h0M113.9 180.8h0M122.2 330.9h0M107.7 191.3h0M120.0 349.4h0M153.0 271.2h0M140.8 338.5h0M187.4 299.0h0M114.3 359.2h0M106.4 351.2h0M117.1 288.2h0M108.9 269.6h0M521.2 315.0h0M111.5 232.1h0M147.6 344.1h0M109.9 398.9h0M112.3 382.4h0M134.3 203.6h0M125.3 304.5h0M468.9 316.5h0M119.9 329.9h0M127.6 282.1h0M111.3 232.4h0M108.5 331.2h0M117.2 305.9h0M127.2 298.4h0M115.3 373.4h0M109.1 191.7h0M137.2 288.5h0M124.6 320.6h0M125.3 344.4h0M112.2 284.6h0M161.1 312.0h0M152.4 300.1h0M493.3 318.2h0M141.0 343.5h0M113.2 392.9h0M122.0 332.2h0M120.2 281.9h0M141.8 327.1h0M176.5 317.5h0M118.7 265.6h0M113.5 315.7h0M107.7 293.1h0M122.7 346.6h0M111.8 281.1h0M143.9 290.4h0M142.6 348.9h0M117.2 313.6h0M137.8 303.7h0M120.8 338.1h0M111.2 303.7h0M138.5 269.3h0M109.7 202.6h0M196.0 299.0h0M423.8 316.8h0M121.1 309.2h0M502.3 318.7h0M108.5 230.0h0M130.9 290.1h0M134.5 326.3h0M113.9 216.7h0M131.4 300.3h0M116.6 372.9h0M157.6 334.2h0M108.7 181.1h0M116.8 374.7h0M116.1 391.4h0M140.7 350.6h0M110.7 282.8h0M110.2 255.8h0M111.0 301.2h0M133.8 315.3h0M125.3 427.6h0M117.9 260.9h0M140.0 363.3h0M137.9 342.8h0M127.4 359.9h0M119.0 234.0h0M124.1 268.7h0M119.0 220.0h0M118.0 352.8h0M118.1 255.2h0M109.7 232.2h0M106.4 409.8h0M115.4 313.4h0M132.1 319.8h0M108.9 406.6h0M119.7 325.9h0M123.1 269.5h0M109.9 377.6h0M150.5 330.7h0M137.3 294.1h0M122.5 271.2h0M124.4 255.5h0M139.4 353.6h0M123.3 272.6h0M152.3 339.2h0M151.2 301.1h0M222.8 307.3h0M109.7 245.4h0M152.9 309.7h0M109.6 362.6h0M134.9 292.4h0M114.1 347.6h0M110.4 204.1h0M109.2 353.6h0M108.8 332.8h0M454.1 305.5h0M107.5 375.6h0M490.9 316.5h0M121.6 335.4h0M118.7 256.5h0M116.9 265.4h0M108.2 292.9h0M128.0 339.5h0M108.6 324.3h0M117.5 298.1h0M147.2 269.8h0M107.0 382.1h0M441.4 312.9h0M155.5 315.5h0M114.6 204.8h0M115.8 320.8h0M216.7 328.3h0M132.8 290.3h0M131.6 261.9h0M145.9 291.4h0M117.2 232.1h0M140.4 315.6h0M121.1 329.0h0M106.6 314.7h0M122.9 366.0h0M470.1 316.4h0M126.6 275.1h0M115.7 267.8h0M124.7 348.8h0M431.6 317.8h0M141.5 318.4h0M106.9 337.1h0M107.9 415.0h0M114.2 335.4h0M112.9 296.1h0M118.4 299.4h0M108.3 367.0h0M125.9 345.8h0M117.6 278.4h0M211.9 298.7h0M107.0 390.7h0M121.1 293.6h0M111.5 281.0h0M131.0 268.2h0M109.6 287.2h0M119.1 339.5h0M114.4 278.9h0M127.0 316.5h0M123.6 280.8h0M121.9 266.8h0M113.5 238.4h0M146.3 320.2h0M124.4 370.4h0M181.1 299.3h0M112.4 291.7h0M107.4 286.0h0M129.9 299.0h0M568.8 315.1h0M115.9 296.2h0M109.1 427.7h0M470.2 315.9h0M111.8 241.2h0M109.6 313.2h0M142.1 282.4h0M113.5 387.7h0M147.7 325.2h0M107.9 316.9h0M108.6 332.2h0M107.7 235.4h0M516.8 316.0h0M127.7 276.1h0M119.0 294.5h0M128.4 301.9h0M109.1 349.2h0M113.8 244.7h0M116.5 333.9h0M119.9 322.6h0M107.3 423.2h0M106.7 226.5h0M114.2 327.9h0M122.1 287.0h0M132.1 440.0h0M108.9 281.9h0M111.7 305.1h0M107.9 307.8h0M112.9 403.5h0M113.7 209.4h0M120.5 210.8h0M135.9 308.4h0M117.6 450.6h0M122.7 331.3h0M123.1 257.5h0M107.1 326.1h0M113.0 341.9h0M118.0 334.4h0M446.9 315.2h0M121.7 359.3h0M118.6 362.2h0M109.8 207.0h0M129.9 317.7h0M135.1 318.3h0M113.7 319.9h0M138.0 323.8h0M137.2 306.8h0M173.3 300.9h0M222.7 305.3h0M119.8 314.5h0M109.4 256.5h0M114.2 191.7h0M112.5 181.3h0M122.8 251.7h0M126.2 369.3h0M111.2 250.1h0M186.8 298.2h0M143.6 347.7h0M106.8 244.4h0M111.5 232.1h0M114.8 314.9h0M106.8 226.9h0M124.2 311.3h0M115.1 303.7h0M109.8 388.3h0M107.1 386.6h0M138.7 262.6h0M459.6 315.6h0M116.3 364.7h0M108.4 229.2h0M109.4 204.8h0M116.0 266.2h0M127.4 309.7h0M127.3 288.1h0M116.0 251.6h0M126.2 313.3h0M199.0 334.4h0M120.9 371.2h0M250.4 307.3h0M109.2 274.7h0M148.2 340.4h0M114.5 278.6h0M118.8 345.3h0M255.9 324.4h0M122.5 370.4h0M116.1 426.9h0M120.0 277.4h0M106.7 339.1h0M126.4 280.8h0M111.2 411.5h0M110.1 303.8h0M113.7 408.0h0M110.2 440.3h0M123.6 258.4h0M115.9 251.0h0M112.4 201.3h0M122.0 347.0h0M218.3 325.0h0M292.3 324.3h0M121.1 336.9h0M113.2 229.7h0M135.7 337.2h0M191.2 298.9h0M116.6 384.2h0M109.5 299.6h0M119.6 356.9h0M118.3 384.8h0M108.7 308.0h0M109.3 224.6h0M449.8 316.1h0M107.4 404.2h0M134.6 427.2h0M111.5 330.2h0M128.9 252.3h0M122.6 311.6h0M115.0 417.0h0M117.1 232.1h0M109.2 333.8h0M108.1 288.2h0M125.9 319.8h0M112.4 223.9h0M115.8 275.1h0M125.6 321.5h0M452.5 317.7h0M126.6 327.8h0M124.4 449.5h0M115.4 238.4h0M126.7 321.9h0M119.6 291.2h0M114.8 294.1h0M106.9 245.7h0M133.2 300.8h0M111.1 401.1h0M151.1 300.1h0M121.9 286.5h0M113.1 353.2h0M113.5 415.4h0M141.8 343.0h0M125.6 309.4h0M124.8 334.8h0M173.4 296.2h0M110.7 279.2h0M132.8 302.9h0M124.8 302.1h0M113.7 280.0h0M164.2 313.6h0M114.2 316.1h0M121.9 340.5h0M145.8 334.9h0M149.3 318.2h0M116.9 294.5h0M461.1 317.4h0M117.9 302.3h0M125.7 278.0h0M149.3 294.8h0M114.1 263.1h0M107.4 323.8h0M120.4 306.9h0M457.6 319.2h0M499.6 315.5h0M113.7 371.3h0M202.2 294.6h0M120.6 329.7h0M113.3 311.1h0M245.6 325.2h0M116.8 374.7h0M241.6 307.2h0M121.6 264.4h0M280.5 307.6h0M159.2 343.6h0M109.0 311.1h0M152.9 317.9h0M111.0 364.7h0M166.0 338.1h0M139.9 358.4h0M439.8 315.6h0M121.1 308.3h0M106.5 424.8h0M125.4 295.0h0M129.7 339.5h0M107.4 378.0h0M113.5 315.6h0M234.2 328.3h0M119.4 397.3h0M108.0 396.0h0M165.6 320.8h0M110.3 251.4h0M117.5 336.1h0M117.2 313.2h0M111.6 272.9h0M128.8 304.5h0M109.2 371.5h0M117.0 290.1h0M115.3 204.6h0M115.6 285.0h0M121.6 298.6h0M118.0 297.8h0M122.9 305.0h0M150.3 294.0h0M129.7 293.1h0M135.9 327.8h0M121.9 336.5h0M109.3 248.0h0M107.3 255.1h0M110.0 286.8h0M107.4 257.9h0M115.5 287.7h0M107.5 214.5h0M110.4 407.3h0M125.8 449.2h0M150.9 328.1h0M114.7 205.5h0M113.1 306.5h0M112.8 345.3h0M132.3 353.3h0M130.2 276.8h0M110.1 363.3h0M215.0 305.3h0M115.1 210.9h0M472.0 314.6h0M126.8 329.7h0M128.4 266.7h0M121.6 267.0h0M346.7 307.1h0M136.8 317.9h0M148.5 323.2h0M115.5 266.3h0M141.9 332.4h0M110.8 289.8h0M115.2 408.1h0M127.9 318.0h0M114.2 439.7h0M118.5 329.0h0M182.0 322.2h0M113.1 341.6h0M119.3 248.1h0M129.0 316.8h0M114.6 234.9h0M121.9 341.2h0M136.2 365.0h0M124.5 358.7h0M149.1 310.3h0M124.0 274.2h0M106.7 180.9h0M112.1 258.7h0M114.7 323.7h0M118.0 342.7h0M112.9 268.5h0M134.4 310.3h0M112.7 216.4h0M121.6 303.0h0M113.2 409.1h0M124.8 266.8h0M112.9 336.5h0M115.6 324.6h0M125.2 285.7h0M124.6 284.4h0M124.7 328.2h0M122.5 382.9h0M116.0 247.0h0M117.9 363.5h0M107.7 300.1h0M159.7 341.7h0M118.0 402.6h0M120.1 439.6h0M118.4 208.3h0M114.8 339.3h0M107.0 413.7h0M114.0 330.5h0M112.9 324.3h0M108.1 255.6h0M436.8 317.9h0M110.8 244.1h0M118.6 289.5h0M107.3 243.5h0M111.4 234.5h0M119.0 340.8h0M108.2 327.9h0M123.3 343.4h0M110.4 318.2h0M107.2 249.7h0M121.8 281.7h0M116.8 384.6h0M108.1 312.9h0M107.5 286.9h0M111.9 429.7h0M130.1 339.4h0M116.1 254.7h0M125.3 339.2h0M143.7 348.5h0M108.1 240.0h0M115.2 294.3h0M114.8 449.5h0M114.4 347.2h0M107.4 252.9h0M133.9 330.6h0M110.6 241.1h0M143.1 294.7h0M162.8 286.7h0M137.1 294.3h0M130.5 305.5h0M122.5 439.7h0M111.0 217.3h0M110.6 363.6h0M119.0 335.5h0M107.4 341.5h0M343.5 323.1h0M106.5 211.9h0M109.4 450.3h0M118.0 290.2h0M114.9 225.6h0M117.2 304.6h0M111.1 394.7h0M122.5 329.0h0M123.3 334.0h0M108.2 222.6h0M116.7 323.0h0M132.2 303.0h0M192.8 303.7h0M116.1 430.2h0M108.2 256.2h0M115.3 262.7h0M115.2 426.9h0M138.9 342.9h0M120.6 262.3h0M114.0 262.8h0M111.3 241.4h0M141.4 331.0h0M111.7 250.2h0M117.9 400.0h0M108.1 257.0h0M131.3 297.5h0M107.4 203.6h0M122.8 366.7h0M121.8 282.3h0M119.6 250.8h0M108.4 321.8h0M118.4 247.0h0M119.5 232.3h0M125.2 372.9h0M136.6 302.5h0M109.9 402.7h0M126.8 353.1h0M140.9 280.8h0M109.5 426.2h0M116.9 361.8h0M106.7 366.7h0M108.4 323.6h0M114.4 305.4h0M112.5 304.2h0M115.5 239.0h0M175.6 335.6h0M108.9 295.1h0M135.8 291.6h0M152.7 316.2h0M130.8 439.1h0M133.2 204.6h0M126.9 316.5h0M134.2 339.6h0M108.8 426.8h0M153.1 300.3h0M110.4 368.2h0M164.1 298.4h0M186.9 299.4h0M211.7 326.6h0M124.2 384.8h0M119.1 248.0h0M163.7 309.6h0M160.7 331.0h0M111.3 240.5h0M170.0 343.0h0M114.9 439.9h0M128.0 203.9h0M171.9 320.6h0M120.7 380.5h0M110.8 323.6h0M108.8 356.5h0M106.5 203.8h0M115.6 298.6h0M107.0 221.5h0M107.9 421.4h0M113.7 426.9h0M127.3 360.2h0M112.4 422.0h0M171.9 294.3h0M137.7 340.1h0M511.7 317.9h0"/>
<path fill="#c0c0c0" stroke="none" d="M103.3 287.8L106.4 287.8L109.0 289.9L111.6 291.7L114.2 293.4L116.8 294.9L119.4 296.3L122.0 297.6L124.6 298.7L127.2 299.7L129.8 300.6L132.3 301.5L134.9 302.2L137.5 302.9L140.1 303.5L142.7 304.1L145.3 304.6L147.9 305.0L150.5 305.4L153.1 305.8L155.7 306.2L158.3 306.5L160.9 306.8L163.5 307.0L166.1 307.2L168.7 307.5L171.3 307.6L173.9 307.8L176.5 308.0L179.1 308.1L181.7 308.3L184.3 308.4L186.9 308.5L189.5 308.6L192.1 308.7L194.7 308.8L197.3 308.8L199.9 308.9L202.5 309.0L205.1 309.0L207.7 309.1L211.0 309.2L219.1 309.3L227.1 309.4L235.1 309.5L243.2 309.6L251.2 309.6L259.2 309.7L267.3 309.7L275.3 309.8L283.3 309.8L291.4 309.8L299.4 309.9L307.4 309.9L315.5 309.9L323.5 310.0L331.5 310.0L339.6 310.0L347.6 310.0L355.6 310.0L363.7 310.1L371.7 310.1L379.7 310.1L387.8 310.1L395.8 310.1L403.8 310.1L411.8 310.2L419.9 310.2L427.9 310.2L435.9 310.2L444.0 310.2L444.0 322.1L435.9 322.1L427.9 322.1L419.9 322.2L411.8 322.2L403.8 322.2L395.8 322.2L387.8 322.2L379.7 322.2L371.7 322.2L363.7 322.3L355.6 322.3L347.6 322.3L339.6 322.3L331.5 322.3L323.5 322.4L315.5 322.4L307.4 322.4L299.4 322.5L291.4 322.5L283.3 322.5L275.3 322.6L267.3 322.6L259.2 322.7L251.2 322.7L243.2 322.8L235.1 322.9L227.1 323.0L219.1 323.1L211.0 323.3L207.7 323.4L205.1 323.4L202.5 323.5L199.9 323.6L197.3 323.7L194.7 323.8L192.1 323.9L189.5 324.0L186.9 324.1L184.3 324.3L181.7 324.4L179.1 324.6L176.5 324.8L173.9 325.0L171.3 325.2L168.7 325.5L166.1 325.7L163.5 326.0L160.9 326.4L158.3 326.7L155.7 327.2L153.1 327.6L150.5 328.1L147.9 328.6L145.3 329.2L142.7 329.9L140.1 330.6L137.5 331.5L134.9 332.4L132.3 333.4L129.8 334.5L127.2 335.7L124.6 337.0L122.0 338.5L119.4 340.2L116.8 342.0L114.2 344.0L111.6 346.2L109.0 348.7L106.4 351.5L103.3 351.5Z"/>
<path stroke="#c0c0c0" d="M235.4 313.0h0M107.9 315.4h0M117.1 315.0h0M418.9 320.2h0M110.7 299.0h0M115.5 328.8h0M431.5 315.7h0M244.9 315.8h0M152.2 308.9h0M197.3 315.1h0M265.1 311.3h0M133.1 325.0h0M116.2 311.2h0M333.9 315.4h0M269.0 316.0h0M197.7 314.7h0M350.8 315.7h0M212.4 318.0h0M452.0 314.9h0M123.1 333.3h0M214.3 316.4h0M187.0 316.9h0M148.4 322.7h0M230.8 315.5h0M127.1 312.1h0M342.2 319.7h0M381.3 318.0h0M115.4 338.7h0M181.2 315.1h0M133.4 329.2h0M111.7 332.9h0M398.9 316.6h0M169.2 317.2h0M117.1 338.8h0M270.5 311.7h0M122.9 328.0h0M402.3 315.2h0M124.7 327.7h0M108.2 313.9h0M122.7 323.5h0M146.7 320.7h0M181.9 316.7h0M405.2 315.4h0M283.1 315.2h0M145.3 312.8h0M107.2 333.2h0M118.3 335.6h0M461.8 318.4h0M178.7 318.7h0M279.8 315.1h0M109.6 323.9h0M108.3 330.2h0M368.3 319.9h0M229.2 315.2h0M139.0 326.8h0M140.7 316.7h0M112.1 309.4h0M119.6 313.2h0M107.7 339.3h0M364.2 317.5h0M181.0 310.5h0M115.2 337.5h0M306.0 314.4h0M122.1 320.4h0M110.1 313.0h0M233.9 317.3h0M398.8 319.6h0M107.8 315.8h0M343.9 320.8h0M121.5 304.0h0M112.4 303.9h0M107.3 327.0h0M136.1 316.2h0M299.3 315.9h0M190.5 310.3h0M372.5 320.4h0M124.7 325.0h0M140.3 319.3h0M130.4 308.8h0M450.4 314.1h0M426.9 316.9h0M145.6 327.5h0M171.0 314.3h0M140.1 319.3h0M310.1 319.8h0M108.7 311.9h0M110.5 322.1h0M161.5 319.8h0M128.4 325.0h0M367.9 316.0h0M307.4 318.6h0M211.0 317.4h0M264.4 311.8h0M280.4 316.4h0M329.8 318.5h0M418.5 316.0h0M117.3 300.3h0M247.0 312.4h0M116.7 310.6h0M173.3 310.7h0M332.9 313.7h0M398.1 314.5h0M317.3 316.8h0M108.4 339.4h0M149.9 312.2h0M118.6 312.7h0M463.3 312.0h0M116.8 326.4h0M128.3 305.5h0M149.4 322.5h0M110.1 295.0h0M383.2 311.6h0M251.9 320.8h0M118.3 325.7h0M192.4 310.2h0M111.3 294.7h0M239.8 314.4h0M126.6 330.0h0M108.6 347.3h0M114.2 330.7h0M215.0 311.3h0M252.2 313.1h0M142.2 318.7h0M255.4 313.5h0M148.2 308.5h0M115.5 327.7h0M140.3 308.0h0M159.1 320.5h0M409.2 317.7h0M114.2 340.4h0M111.9 336.3h0M217.6 315.6h0M441.0 320.4h0M405.9 315.7h0M284.7 319.4h0M110.5 305.8h0M344.7 319.7h0M275.7 319.1h0M116.7 328.7h0M180.5 315.2h0M109.3 302.2h0M342.0 313.8h0M294.6 313.8h0M343.6 314.5h0M318.0 315.7h0M131.8 322.1h0M334.9 319.2h0M129.0 306.1h0M116.2 322.6h0M157.7 314.0h0M192.2 321.6h0M134.9 321.1h0M237.3 320.3h0M235.8 317.7h0M127.7 310.1h0M245.3 317.8h0M149.4 313.1h0M303.5 319.8h0M135.7 320.3h0M340.2 317.0h0M164.7 316.4h0M214.1 319.2h0M270.5 314.2h0M200.0 311.8h0M130.3 308.0h0M451.0 320.4h0M112.7 319.5h0M142.2 320.6h0M212.4 315.4h0M107.9 343.5h0M117.8 308.5h0M340.5 316.9h0M331.4 312.0h0M252.2 321.1h0M402.5 316.9h0M315.2 316.3h0M137.2 308.6h0M256.1 313.6h0M145.5 323.8h0M312.0 318.0h0M156.3 312.4h0M117.6 321.8h0M386.9 318.3h0M279.4 311.9h0M309.1 312.9h0M216.8 317.8h0M330.9 315.7h0M174.8 310.3h0M219.5 319.3h0M110.2 297.1h0M214.9 312.0h0M349.5 314.0h0M287.5 314.3h0M342.8 314.4h0M191.6 315.7h0M389.9 315.4h0M113.6 333.4h0M386.4 315.6h0M152.8 313.4h0M112.3 319.6h0M243.7 314.3h0M177.1 317.0h0M168.7 311.9h0M372.0 314.1h0M116.2 337.0h0M242.6 313.4h0M164.3 319.9h0M203.9 321.1h0M192.8 320.9h0M115.8 326.5h0M197.6 316.0h0M378.1 317.7h0M119.4 330.4h0M106.9 303.5h0M110.5 325.8h0M178.8 311.3h0M447.9 318.5h0M108.9 308.7h0M458.3 317.4h0M207.0 312.3h0M114.6 311.8h0M165.7 313.7h0M123.5 332.8h0M292.2 313.7h0M209.3 317.9h0M135.2 310.8h0M130.0 306.9h0M381.1 319.6h0M321.3 320.8h0M171.1 312.6h0M161.9 308.8h0M305.0 312.3h0M445.6 316.7h0M111.4 301.7h0M118.2 338.5h0M150.6 325.5h0M195.9 315.3h0M110.8 317.6h0M109.6 301.4h0M125.0 327.2h0M156.6 317.3h0M306.0 311.5h0M239.3 318.2h0M108.0 324.9h0M109.0 313.3h0M176.2 309.5h0M385.9 319.1h0M410.7 314.4h0M151.3 318.4h0M393.6 317.1h0M419.5 318.4h0M162.2 317.1h0M309.8 315.4h0M151.3 318.8h0M117.7 318.1h0M223.5 314.7h0M111.9 301.0h0M265.4 315.6h0M346.3 317.3h0M410.9 312.0h0M174.9 321.0h0M114.4 340.2h0M402.9 312.4h0M383.2 318.3h0M443.6 319.3h0M231.9 317.4h0M270.6 317.7h0M153.3 319.4h0M120.7 304.3h0M135.9 322.8h0M295.7 319.7h0M142.2 323.6h0M280.1 311.7h0M193.8 317.1h0M175.2 318.3h0M443.6 313.7h0M118.9 300.2h0M188.3 316.2h0M118.3 305.0h0M424.7 318.3h0M188.8 318.2h0M143.7 315.2h0M119.1 329.1h0M232.0 318.6h0M160.1 321.9h0M115.2 329.6h0M108.2 299.9h0M158.0 311.5h0M227.1 320.3h0M200.2 318.0h0M401.4 314.1h0M408.6 312.9h0M424.0 315.6h0M340.7 314.0h0M184.9 319.7h0M202.1 313.0h0M159.6 311.1h0M160.3 318.1h0M108.8 334.2h0M340.2 320.6h0M128.6 313.5h0M108.0 311.8h0M181.0 323.0h0M294.2 316.0h0M171.0 310.0h0M151.0 326.0h0M262.9 319.8h0M118.6 336.8h0M106.9 323.4h0M231.2 317.4h0M204.8 312.0h0M380.4 320.2h0M164.9 321.2h0M332.8 312.0h0M107.3 347.9h0M107.9 333.4h0M234.0 317.3h0M125.9 334.9h0M110.5 330.5h0M115.3 313.9h0M153.7 314.5h0M144.8 314.5h0M218.6 314.6h0M393.7 315.1h0M151.4 325.8h0M120.8 312.1h0M224.8 315.3h0M106.4 336.8h0M156.3 318.1h0M140.7 323.3h0M156.9 310.1h0M109.4 331.5h0M214.5 319.9h0M246.0 313.1h0M311.8 313.7h0M437.2 313.0h0M148.8 313.2h0M261.8 317.0h0M172.9 316.8h0M124.4 315.9h0M394.8 315.3h0M309.7 311.9h0M428.0 318.3h0M353.7 313.7h0M412.2 320.6h0M115.3 332.9h0M107.1 293.2h0M122.4 327.3h0M163.8 316.3h0M278.0 312.1h0M171.8 314.2h0M198.1 316.4h0M318.3 314.2h0M110.8 293.8h0M273.1 311.8h0M109.2 336.9h0M129.0 328.9h0M296.6 318.2h0M275.6 319.7h0M161.9 312.2h0M136.4 308.4h0M357.6 319.5h0M133.0 329.6h0M108.1 329.5h0M128.8 311.7h0M107.5 303.6h0M347.2 316.5h0M114.8 312.2h0M447.6 312.4h0M124.2 304.3h0M138.5 326.7h0M228.0 313.9h0M138.9 310.2h0M154.8 309.2h0M113.3 322.8h0M157.4 322.7h0M107.7 321.0h0M125.6 322.3h0M407.3 317.1h0M134.0 308.9h0M132.4 313.0h0M273.6 314.4h0M390.9 314.8h0M136.6 326.6h0M154.1 324.9h0M292.5 317.2h0M336.3 312.9h0M241.1 314.6h0M120.3 306.5h0M120.4 313.3h0M316.6 313.4h0M288.2 311.3h0M399.1 314.2h0M329.1 312.7h0M166.5 309.2h0M115.8 307.6h0M395.5 313.3h0M282.2 320.3h0M224.1 321.2h0M274.9 312.0h0M156.4 321.3h0M146.2 321.0h0M223.6 320.1h0M186.7 314.6h0M289.4 320.7h0M423.8 313.5h0M369.1 318.0h0M157.0 312.3h0M153.1 309.0h0M418.1 314.4h0M158.9 317.9h0M341.0 315.0h0M112.4 301.0h0M175.9 313.4h0M199.2 319.2h0M346.1 320.8h0M387.6 312.7h0M117.6 313.1h0M242.7 320.7h0M248.4 315.7h0M117.5 314.6h0M360.9 318.1h0M214.2 311.9h0M439.9 318.5h0M121.0 332.0h0M202.6 318.4h0M141.9 320.8h0M254.9 312.3h0M238.4 314.5h0M197.7 320.7h0M142.2 319.5h0M194.5 321.1h0M153.0 312.8h0M395.7 312.9h0M179.3 321.8h0M184.1 316.3h0M130.4 325.3h0M129.7 324.2h0M435.0 313.9h0M140.0 305.5h0M381.9 318.2h0M232.3 315.7h0M451.8 317.9h0M118.7 336.6h0M427.3 315.2h0M324.9 319.4h0M220.4 314.2h0M289.3 313.8h0M296.7 319.6h0M175.0 315.0h0M251.0 319.1h0M126.2 308.8h0M107.5 332.0h0M272.2 314.3h0M183.8 314.4h0M404.8 315.5h0M131.3 325.9h0M351.5 313.0h0M455.4 317.5h0M400.2 313.7h0M441.6 316.4h0M118.2 320.5h0M118.8 309.5h0M126.1 323.2h0M150.4 311.6h0M114.2 321.3h0M117.4 308.0h0M107.3 307.9h0M422.1 312.1h0M150.3 318.6h0M246.9 317.7h0M177.0 309.5h0M308.1 316.0h0M344.5 316.9h0M155.8 313.0h0M206.7 319.1h0M112.8 296.1h0M134.8 310.4h0M125.4 312.6h0M139.0 322.3h0M142.1 309.8h0M223.5 311.7h0M143.9 310.4h0M142.6 307.5h0M359.5 320.0h0M106.9 305.2h0M106.5 297.5h0M109.8 320.5h0M380.2 320.0h0M250.6 315.7h0M299.7 318.6h0M437.4 320.4h0M124.8 302.5h0M413.8 313.1h0M128.1 313.3h0M200.2 313.3h0M274.5 314.5h0M339.3 316.5h0M128.9 329.6h0M184.7 319.0h0M109.0 319.0h0M135.2 315.1h0M452.0 317.9h0M404.6 319.6h0M226.6 317.9h0M333.0 319.1h0M402.8 312.2h0M143.7 323.2h0M451.7 317.1h0M175.0 315.8h0M118.2 328.8h0M204.6 316.3h0M231.8 315.6h0M280.7 320.6h0M269.3 311.7h0M108.8 317.2h0M253.2 319.8h0M414.8 311.8h0M268.9 319.5h0M448.4 314.1h0M197.4 316.5h0M346.9 318.4h0M116.4 323.9h0M398.6 316.3h0M171.2 318.3h0M387.0 318.5h0M141.4 319.0h0M246.1 316.8h0M368.7 314.4h0M290.7 319.1h0M244.0 320.8h0M445.5 313.2h0M112.0 340.8h0M113.1 312.4h0M213.4 315.7h0M435.5 311.9h0M277.4 319.2h0M139.2 307.5h0M113.6 336.7h0M175.0 321.0h0M185.8 314.3h0M181.6 320.8h0M243.7 315.3h0M132.7 312.4h0M389.3 319.6h0M135.3 309.4h0M113.5 322.5h0M147.5 307.1h0M423.6 320.6h0M118.2 336.2h0M133.5 314.0h0M417.9 318.4h0M147.3 318.9h0M366.6 312.4h0M109.0 328.0h0M394.3 320.3h0M127.4 329.4h0M120.4 316.0h0M307.7 313.5h0M457.4 313.9h0M438.4 316.4h0M313.4 318.7h0M410.2 319.5h0M455.9 318.6h0M213.9 319.5h0M116.8 300.5h0M370.4 317.0h0M159.2 323.2h0M139.8 313.7h0M193.4 316.8h0M108.3 346.3h0M107.3 291.2h0M131.3 304.2h0M232.8 318.7h0M311.7 313.0h0M437.1 316.6h0M351.6 314.5h0M427.0 314.8h0M251.9 313.8h0M303.0 316.7h0M228.9 319.9h0M111.5 303.3h0M110.1 322.4h0M317.8 316.7h0M122.9 308.4h0M334.9 314.4h0M180.2 309.8h0M106.6 326.4h0M217.6 314.7h0M173.3 322.4h0M111.0 339.4h0M130.8 324.9h0M138.6 322.6h0M146.7 318.0h0M288.2 318.8h0M119.0 300.2h0M173.3 317.4h0M237.8 317.4h0M430.3 312.5h0M114.2 304.6h0M111.4 305.0h0M121.7 302.2h0M125.1 309.6h0M118.6 326.5h0M111.1 294.9h0M123.7 335.0h0M125.5 304.1h0M185.6 317.3h0M257.5 317.8h0M151.0 317.3h0M119.1 322.4h0M112.5 300.8h0M131.1 308.3h0M119.4 308.2h0M186.1 319.7h0M383.6 316.7h0M293.4 320.3h0M123.0 309.0h0M108.4 345.5h0M110.5 324.7h0M171.0 321.6h0M150.9 309.9h0M275.2 312.0h0M111.7 329.8h0M129.8 306.1h0M277.0 319.3h0M220.4 313.9h0M199.4 319.2h0M402.4 316.7h0M114.0 313.4h0M122.1 323.7h0M219.4 319.5h0M219.2 315.2h0M451.5 313.5h0M449.8 311.7h0M228.9 318.1h0M317.1 318.5h0M283.2 320.3h0M115.7 332.0h0M235.7 321.1h0M138.5 323.4h0M149.8 312.3h0M117.9 334.8h0M106.7 310.8h0M373.0 318.1h0M293.8 318.8h0M313.3 316.3h0M135.2 319.0h0M165.4 317.3h0M119.9 333.6h0M235.7 315.5h0M364.3 312.4h0M328.5 320.8h0M422.4 320.0h0M130.7 314.9h0M285.3 317.9h0M115.2 330.1h0M207.1 310.7h0M113.8 328.0h0M208.8 311.5h0M209.5 314.9h0M147.0 326.8h0M147.6 321.7h0M290.5 320.3h0M186.1 315.8h0M162.5 309.9h0M114.0 340.2h0M134.2 330.4h0M369.0 320.5h0M446.4 318.2h0M153.3 323.0h0M383.4 311.9h0M385.2 313.6h0M124.8 302.4h0M132.8 315.1h0M282.4 313.0h0M138.5 311.9h0M435.9 318.0h0M151.3 313.8h0M301.0 318.2h0M288.5 316.5h0M124.3 306.4h0M380.5 318.7h0M143.0 324.4h0M113.8 301.8h0M109.3 321.3h0M176.1 320.9h0M250.3 318.0h0M132.4 323.7h0M365.9 312.5h0M131.8 318.2h0M369.3 312.3h0M108.2 321.1h0M131.1 304.3h0M118.2 300.7h0M174.8 315.4h0M147.9 310.9h0M158.9 320.3h0M371.7 319.7h0M225.5 315.1h0M237.2 320.8h0M157.7 317.2h0M345.6 315.0h0M193.7 313.0h0M309.8 312.4h0M410.2 318.9h0M240.3 312.4h0M170.8 316.5h0M131.2 313.8h0M408.8 316.5h0M320.5 312.9h0M340.6 318.0h0M125.2 334.9h0M171.3 311.6h0M391.3 314.7h0M128.6 310.7h0M349.1 319.7h0M208.1 319.5h0M124.9 313.4h0M153.8 312.1h0M111.2 310.6h0M270.4 315.2h0M299.2 314.7h0M108.0 339.8h0M137.6 318.4h0M322.7 317.8h0M122.6 309.2h0M207.4 316.0h0M344.4 314.1h0M221.3 314.1h0M114.8 299.7h0M407.1 312.9h0M310.2 320.5h0M219.1 314.4h0M143.9 319.8h0M226.7 320.4h0M158.1 317.0h0M114.5 302.5h0M114.8 304.8h0M109.0 341.3h0M119.3 330.4h0M128.5 311.4h0M251.4 311.4h0M225.7 320.7h0M230.4 320.5h0M353.9 314.3h0M112.6 313.1h0M157.4 311.1h0M111.4 334.7h0M165.8 316.6h0M111.3 303.4h0M110.4 325.4h0M113.3 323.7h0M157.6 324.8h0M319.5 313.3h0M134.2 318.8h0M307.4 317.3h0M126.8 312.5h0M135.1 307.7h0M182.7 311.5h0M111.1 327.3h0M175.2 314.9h0M227.2 317.4h0M355.5 313.0h0M109.7 303.2h0M114.7 259.8h0M108.2 226.5h0M107.6 342.7h0M107.9 219.4h0M108.3 390.7h0M106.9 344.0h0M118.8 360.0h0M109.2 383.1h0M107.6 212.1h0M108.4 341.0h0M106.5 233.8h0M108.1 293.7h0M108.9 419.0h0M109.6 331.2h0M107.9 357.5h0M108.5 363.5h0M107.6 413.1h0M109.6 321.9h0M106.5 212.2h0M107.0 425.9h0M109.7 225.4h0M112.2 293.0h0M107.2 366.4h0M109.2 226.1h0M107.4 205.2h0M107.3 324.5h0M108.4 335.5h0M107.0 278.1h0M106.4 227.0h0M111.9 350.4h0M109.5 354.5h0M107.5 336.9h0M108.8 325.6h0M106.6 323.5h0M110.7 285.4h0M111.8 249.1h0M108.3 268.7h0M109.6 354.1h0M108.8 363.1h0M109.1 354.2h0M111.0 308.5h0M109.4 426.3h0M109.8 291.7h0M116.7 301.8h0M106.6 343.2h0M106.5 321.9h0M107.1 312.6h0M107.0 286.7h0M107.6 412.4h0M112.0 248.1h0M106.8 304.0h0M106.7 367.1h0M107.2 219.6h0M106.7 339.2h0M106.5 254.2h0M110.8 362.4h0M107.8 304.8h0M108.7 383.4h0M107.2 367.9h0M106.5 355.1h0M106.6 256.1h0M107.3 327.2h0M110.8 351.0h0M107.6 296.4h0M107.9 330.2h0M108.1 300.3h0M109.8 289.3h0M107.7 333.7h0M106.5 260.1h0M106.4 233.6h0M107.6 211.6h0M112.1 302.1h0M107.2 212.1h0M106.9 212.5h0M107.8 280.2h0M107.9 398.2h0M110.5 283.5h0M108.3 308.7h0M109.4 269.4h0M108.3 368.5h0M106.6 351.2h0M111.7 197.6h0M106.6 367.3h0M109.8 321.0h0M110.6 274.2h0M106.8 371.1h0M108.2 337.4h0M107.2 278.8h0M106.9 257.9h0M110.8 219.3h0M111.1 304.0h0M110.8 366.0h0M107.9 290.8h0M106.4 256.8h0M109.4 412.8h0M108.6 247.6h0M109.5 240.7h0M109.0 301.5h0M107.5 270.1h0M113.8 346.5h0M107.6 248.6h0M106.4 311.6h0M106.7 273.8h0M108.6 205.1h0M106.8 270.8h0M112.0 254.7h0M106.4 240.7h0M106.9 383.9h0M106.7 419.1h0M109.2 412.6h0M106.7 324.0h0M117.7 211.9h0M107.3 328.3h0M110.9 219.3h0M108.7 363.4h0M106.8 337.4h0M107.2 232.9h0M111.3 205.4h0M106.8 307.1h0M106.4 343.4h0M109.4 247.6h0M113.3 333.1h0M110.3 361.4h0M110.0 257.1h0M108.3 411.9h0M107.3 255.5h0M106.6 212.5h0M111.7 405.5h0M107.6 247.8h0M107.9 405.5h0M106.5 363.5h0M108.2 198.2h0M109.9 325.9h0M107.5 329.1h0M108.4 391.0h0M108.4 376.4h0M109.7 226.4h0M114.7 306.0h0M113.0 267.0h0M107.5 260.0h0M108.4 275.8h0M109.1 248.2h0M106.8 397.6h0M108.9 326.6h0M108.6 405.7h0M114.6 295.0h0M107.9 212.3h0M108.3 312.5h0M109.1 406.0h0M107.5 308.6h0M106.9 260.0h0M110.0 248.2h0M112.7 257.1h0M108.9 324.0h0M109.9 226.4h0M110.1 306.5h0M106.8 273.8h0M107.8 426.9h0M109.5 318.1h0M111.6 413.0h0M108.4 384.6h0M111.5 361.6h0M109.4 299.0h0M107.9 412.6h0M106.5 267.2h0M107.0 340.1h0M106.5 383.8h0M108.0 213.2h0M106.8 278.9h0M113.0 353.6h0M107.1 406.4h0M118.4 318.2h0M107.2 255.7h0M106.7 313.1h0M106.8 359.6h0M107.5 406.0h0M109.5 377.6h0M108.7 248.3h0M107.0 391.5h0M106.9 205.1h0M106.5 263.2h0M107.2 338.1h0M106.9 323.8h0M108.5 212.5h0M109.0 405.2h0M113.7 374.8h0M111.1 264.5h0M108.4 212.7h0M115.9 302.9h0M106.8 362.4h0M110.6 212.0h0M110.5 295.9h0M107.0 211.8h0M112.6 345.0h0M108.0 411.2h0M107.0 369.4h0M109.7 331.2h0M110.6 255.4h0M107.1 323.1h0M109.2 368.9h0M107.1 226.4h0M110.8 298.2h0M113.7 292.3h0M110.3 240.7h0M106.5 276.7h0M107.3 375.3h0M108.4 211.8h0M111.8 391.6h0M107.2 281.7h0M107.9 296.9h0M108.4 269.4h0M107.7 405.2h0M107.0 321.6h0M110.3 212.1h0M107.0 226.0h0M109.6 292.1h0M106.5 278.4h0M106.7 290.4h0M106.6 293.9h0M107.2 302.3h0M110.3 355.9h0M109.3 333.7h0M108.0 303.1h0M107.1 241.0h0M114.0 339.4h0M110.8 318.5h0M109.8 419.7h0M107.5 284.0h0M107.5 248.3h0M108.6 383.9h0M107.4 284.7h0M106.5 398.6h0M107.5 240.2h0M108.3 263.0h0M110.0 219.7h0M111.1 365.5h0M109.6 391.5h0M108.1 299.6h0M110.2 240.3h0M107.8 384.4h0M107.8 398.2h0M106.8 397.4h0M108.4 269.2h0M107.8 419.0h0M107.4 333.9h0M106.4 391.6h0M107.5 254.5h0M106.5 419.3h0M108.0 383.5h0M110.5 254.2h0M110.3 312.3h0M113.1 204.8h0M106.9 345.5h0M109.6 334.4h0M108.3 260.4h0M107.9 317.7h0M109.9 240.9h0M107.2 307.7h0M107.6 374.3h0M106.4 307.7h0M107.6 240.7h0M111.5 366.4h0M109.8 284.7h0M114.0 297.6h0M106.8 271.6h0M108.8 348.0h0M109.3 377.2h0M111.5 278.1h0M107.6 233.1h0M109.3 322.5h0M108.0 398.2h0M112.4 247.7h0M106.8 309.4h0M111.5 274.0h0M107.0 405.3h0M107.9 345.2h0M107.0 227.1h0M114.6 373.8h0M106.7 426.9h0M108.3 357.4h0M106.4 264.5h0M107.4 265.4h0M106.7 233.3h0M110.2 384.2h0M110.8 294.3h0M106.5 377.1h0M115.4 419.8h0M114.8 286.3h0M112.9 292.7h0M106.8 292.3h0M107.5 226.9h0M107.7 355.0h0M110.3 302.9h0M107.3 247.3h0M107.0 269.2h0M112.1 412.2h0M108.7 345.8h0M107.3 391.0h0M107.1 331.4h0M106.8 419.7h0M110.9 328.6h0M112.8 341.1h0M108.9 262.2h0M106.9 426.8h0M109.6 284.7h0M111.6 419.1h0M109.1 319.2h0M108.3 218.7h0M116.2 318.7h0M108.7 321.1h0M106.4 413.4h0M108.1 247.5h0M107.7 369.6h0M106.6 322.7h0M107.2 264.9h0M110.7 342.1h0M109.5 419.7h0M110.3 204.7h0M106.4 372.1h0M111.0 419.5h0M106.5 288.4h0M106.9 233.5h0M112.1 412.4h0M107.9 419.1h0M108.5 275.2h0M107.4 299.2h0M111.2 371.3h0M108.9 369.9h0M109.9 255.1h0M106.5 426.5h0M108.6 375.5h0M112.6 347.5h0M107.8 255.3h0M108.3 358.6h0M108.2 419.5h0M107.4 260.0h0M114.1 272.7h0M111.4 398.0h0M107.5 263.5h0M107.1 287.6h0M107.4 346.2h0M108.4 297.9h0M107.6 315.3h0M106.6 247.6h0M107.1 212.4h0M110.0 352.4h0M110.0 347.0h0M106.8 293.1h0M106.6 371.8h0M106.6 398.1h0M106.6 234.1h0M109.3 266.8h0M110.7 405.4h0M111.0 362.0h0M106.5 368.5h0M106.6 404.8h0M110.2 364.3h0M106.4 301.0h0M106.4 342.9h0M109.9 412.6h0M109.6 419.6h0M107.5 271.2h0M107.2 286.5h0M107.8 317.7h0M109.2 391.2h0M106.8 352.5h0M107.0 314.3h0M106.7 383.8h0M113.3 298.3h0M113.3 391.3h0M107.9 219.4h0M120.0 314.1h0M106.4 205.5h0M106.8 274.1h0M109.5 374.9h0M111.0 288.1h0M107.8 226.3h0M110.7 325.5h0M107.8 280.8h0M110.1 277.4h0M110.6 391.1h0M114.1 333.0h0M107.1 363.9h0M107.9 319.8h0M106.7 255.6h0M108.0 398.1h0M107.2 303.7h0M107.5 315.0h0M107.8 342.3h0M108.0 240.8h0M107.2 350.3h0M109.8 413.1h0M107.7 329.8h0M107.9 405.2h0M107.6 233.1h0M110.8 278.1h0M106.7 384.1h0M108.0 345.2h0M109.0 398.3h0M106.7 226.9h0M107.5 226.4h0M113.9 291.6h0M106.4 370.0h0M108.0 326.0h0M106.9 278.0h0M108.5 333.0h0M110.1 419.2h0M107.7 310.1h0M109.3 412.3h0M107.4 376.7h0M106.6 289.8h0M106.8 248.4h0M106.8 274.7h0M107.6 279.7h0M110.7 374.0h0M107.0 268.1h0M109.0 398.3h0M109.2 427.2h0M110.7 352.9h0M107.1 271.1h0M110.2 365.1h0M107.2 267.4h0M106.9 248.3h0M112.6 219.5h0M106.6 276.2h0M109.3 247.5h0M109.5 405.4h0M110.0 357.3h0M108.4 289.1h0M108.9 356.9h0M114.7 233.8h0M108.4 420.1h0M107.3 355.5h0M113.6 352.0h0M106.7 240.9h0M107.2 240.5h0M106.5 420.2h0M106.7 211.9h0M107.3 279.1h0M114.2 399.0h0M108.4 241.0h0M113.9 405.8h0M107.3 342.5h0M109.2 375.9h0M117.8 342.5h0M109.1 397.4h0M107.4 343.7h0M107.9 300.1h0M107.3 324.1h0M109.2 310.9h0M114.3 225.9h0M109.8 232.8h0M108.9 404.9h0M114.4 261.9h0M106.7 248.6h0M113.5 219.7h0M111.6 340.5h0M106.9 219.2h0M108.2 302.9h0M108.8 323.1h0M107.7 314.0h0M113.1 336.0h0M107.7 272.3h0"/>
<path stroke="#6e6e6e" stroke-width="1.9" stroke-linecap="butt" stroke-dasharray="9.23 3.99" d="M89.5 315.9H646.7"/>
<path stroke="#3e488c" stroke-opacity="0.93" d="M139.2 351.6h0M185.3 326.1h0M116.9 377.8h0M141.4 342.2h0M258.1 324.1h0M114.3 346.6h0M132.5 341.5h0M267.6 324.0h0M253.2 322.6h0M210.1 325.2h0M186.9 324.3h0M335.8 321.8h0M211.7 326.0h0M137.7 336.9h0M123.4 355.2h0M155.8 334.6h0M120.7 341.7h0M283.0 323.1h0M242.6 322.2h0M120.6 362.1h0M107.2 369.3h0M111.3 371.7h0M229.0 322.8h0M181.7 326.2h0M147.5 340.6h0M182.8 326.2h0M230.7 324.5h0M129.9 352.4h0M123.8 354.6h0M195.2 328.2h0M313.3 322.1h0M163.1 334.3h0M110.8 353.7h0M148.7 346.3h0M134.4 349.9h0M320.6 323.8h0M182.2 326.2h0M233.0 322.6h0M108.0 388.4h0M188.0 325.9h0M155.8 334.8h0M153.7 328.2h0M117.5 370.4h0M315.8 324.1h0M285.4 321.9h0M149.7 341.1h0M303.3 322.5h0M230.5 323.6h0M200.9 323.8h0M116.9 350.2h0M140.3 348.2h0M165.0 325.7h0M126.0 341.8h0M150.3 341.3h0M117.2 345.5h0M136.9 345.5h0M150.2 344.4h0M129.8 350.7h0M126.1 340.3h0M212.8 323.8h0M110.7 379.6h0M139.6 331.1h0M133.4 333.5h0M190.3 323.8h0M113.8 350.2h0M116.1 372.4h0M309.3 322.4h0M192.5 326.7h0M119.8 354.9h0M107.4 359.0h0M112.9 370.2h0M109.5 363.9h0M144.5 328.7h0M317.3 322.6h0M109.4 358.3h0M106.4 357.8h0M112.8 361.5h0M106.8 387.4h0M166.7 326.9h0M150.7 340.4h0M122.8 355.0h0M113.7 353.9h0M288.4 323.6h0M112.1 355.1h0M271.9 324.2h0M196.1 324.4h0M250.3 323.4h0M232.0 322.4h0M138.1 339.0h0M278.0 324.4h0M109.4 353.9h0M307.0 322.9h0M212.5 325.9h0M163.1 327.9h0M305.1 323.3h0M232.1 325.8h0M145.3 338.6h0M118.1 342.8h0M117.4 357.5h0M294.4 324.0h0M156.5 330.6h0M220.1 325.0h0M140.7 335.8h0M267.7 325.2h0M202.6 326.7h0M129.4 338.0h0M110.3 376.7h0M248.7 325.1h0M121.6 356.4h0M118.0 351.8h0M260.6 325.1h0M222.6 325.3h0M121.8 370.3h0M159.0 333.5h0M209.8 326.9h0M121.8 341.0h0M111.3 376.0h0M314.8 322.2h0M180.5 330.1h0M121.6 352.7h0M131.9 357.1h0M289.5 323.9h0M122.6 358.9h0M111.8 381.5h0M158.5 327.9h0M307.9 321.8h0M144.1 343.7h0M250.1 323.4h0M150.7 339.6h0M155.7 337.7h0M235.3 324.7h0M149.9 333.9h0M108.2 376.3h0M131.0 345.8h0M138.9 331.7h0M195.6 324.9h0M195.4 326.2h0M256.7 323.8h0M213.8 323.9h0M145.1 329.8h0M130.2 354.4h0M263.1 322.6h0M112.4 354.8h0M147.3 329.9h0M205.4 326.3h0M131.9 347.3h0M169.5 334.5h0M268.1 324.2h0M237.6 325.0h0M141.8 330.4h0M280.6 325.1h0M263.2 322.8h0M126.0 358.5h0M150.3 330.0h0M353.1 322.3h0M191.3 323.9h0M128.7 355.0h0M158.6 336.7h0M145.0 339.1h0M185.0 330.6h0M137.5 344.5h0M311.4 322.2h0M167.3 337.1h0M108.6 361.0h0M127.2 342.7h0M153.6 338.3h0M111.4 380.3h0M136.0 345.0h0M169.2 326.5h0M293.8 323.9h0M151.5 331.8h0M189.3 328.4h0M280.2 322.0h0M145.1 335.1h0M162.8 333.7h0M153.1 336.2h0M175.6 330.8h0M230.6 324.6h0M125.7 361.1h0M111.4 369.3h0M116.6 350.9h0M119.4 359.8h0M168.5 328.8h0M248.2 323.1h0M154.5 336.5h0M120.2 359.2h0M246.0 325.1h0M149.2 347.8h0M108.0 378.4h0M220.1 323.5h0M264.5 323.6h0M314.4 323.2h0M281.6 325.2h0M108.6 377.7h0M186.7 327.2h0M147.3 330.1h0M115.3 361.3h0M118.2 369.8h0M249.9 323.2h0M138.3 330.6h0M203.5 325.0h0M188.1 331.9h0M231.0 324.3h0M147.2 343.3h0M118.7 366.4h0M130.3 355.5h0M183.9 323.6h0M189.6 328.7h0M229.0 324.8h0M164.5 330.0h0M264.0 322.6h0M253.7 322.5h0M113.6 348.5h0M182.8 327.0h0M162.8 327.3h0M246.9 322.1h0M286.2 322.1h0M110.2 382.2h0M120.9 344.0h0M181.1 327.3h0M301.0 324.2h0M140.1 331.3h0M278.8 322.7h0M298.9 324.3h0M111.1 364.7h0M124.0 361.4h0M112.3 393.9h0M111.8 374.2h0M264.5 324.1h0M107.0 356.7h0M138.4 339.7h0M138.4 343.1h0M317.4 321.7h0M133.1 345.1h0M120.8 357.8h0M124.1 362.4h0M209.3 326.4h0M185.7 325.8h0M184.3 326.7h0M119.9 357.3h0M271.0 323.1h0M272.2 324.4h0M128.7 356.7h0M186.8 325.1h0M139.6 330.9h0M122.9 367.3h0M310.1 323.4h0M182.7 330.0h0M113.8 357.1h0M130.1 362.1h0M327.9 323.6h0M133.6 348.0h0M164.6 333.5h0M114.9 362.4h0M110.2 412.9h0M113.4 376.1h0M106.7 386.5h0M108.1 371.5h0M109.0 393.0h0M109.7 377.2h0M107.4 394.8h0M111.0 401.0h0M106.7 359.9h0M108.0 386.6h0M112.0 372.3h0M107.3 368.1h0M109.5 362.3h0M109.7 376.6h0M110.6 377.5h0M109.9 403.4h0M110.5 401.6h0M118.8 383.4h0M120.3 375.5h0M111.5 389.5h0M107.1 381.0h0M108.1 363.0h0M110.0 381.3h0M106.6 406.4h0M392.0 319.4h0M396.7 321.1h0M402.1 324.3h0M407.9 320.8h0M419.0 324.3h0M428.5 322.5h0M361.9 322.2h0"/>
<path stroke="#323e91" stroke-opacity="0.92" d="M305.0 323.9h0M173.8 332.1h0M117.5 377.6h0M324.2 324.4h0M224.0 326.0h0M153.9 337.8h0M276.0 325.9h0M219.5 328.8h0M244.2 324.8h0M171.5 338.5h0M114.7 383.0h0M226.6 328.5h0M246.8 327.2h0M252.5 326.9h0M286.7 325.7h0M125.3 372.9h0M156.8 337.3h0M139.6 351.2h0M108.4 393.4h0M106.9 414.7h0M106.6 366.1h0M108.8 403.8h0M106.4 386.7h0M115.2 372.8h0M108.1 401.4h0M108.5 416.4h0M106.6 370.6h0M175.9 338.9h0"/>
<path stroke="#273496" stroke-opacity="0.91" d="M247.6 326.4h0M227.1 329.6h0M272.1 327.4h0M169.3 340.3h0M129.0 369.5h0M239.0 328.6h0M125.8 379.1h0M271.9 326.6h0M146.9 352.6h0M216.3 329.4h0M120.0 384.8h0M106.5 380.9h0M111.0 401.8h0M107.0 383.0h0M123.9 387.2h0"/>
<path stroke="#1c2a9b" stroke-opacity="0.89" d="M203.9 334.8h0M235.3 328.5h0M264.7 328.3h0M265.5 327.3h0M110.4 412.3h0M368.0 327.4h0M140.1 372.6h0"/>
<path stroke="#1020a0" stroke-opacity="0.88" d="M129.6 397.0h0M159.5 359.2h0M198.6 351.4h0M276.5 327.0h0M282.3 332.0h0M183.7 342.8h0M180.4 342.3h0M128.4 397.1h0M136.3 384.7h0M318.4 329.2h0M110.2 426.9h0M168.8 349.6h0M131.5 398.5h0M121.9 425.4h0M123.6 426.6h0M282.1 327.7h0M112.0 423.5h0M295.5 327.3h0M168.9 348.0h0M124.2 394.7h0M271.2 331.5h0M132.4 416.6h0M218.2 337.4h0M171.6 347.3h0M238.5 331.7h0M255.5 331.9h0M167.6 355.1h0M246.2 332.2h0M114.6 458.2h0M107.4 458.2h0M108.8 458.2h0M111.3 458.2h0M113.1 458.2h0M111.1 458.2h0M113.4 465.2h0M114.0 465.2h0M110.5 465.2h0M113.0 465.2h0M113.5 465.2h0M111.4 471.1h0M109.2 471.1h0M108.7 471.1h0M114.9 471.1h0M115.0 471.1h0M107.6 471.1h0M608.4 336.1h0M211.0 418.9h0M245.5 380.1h0M230.6 353.5h0M128.7 465.2h0M109.8 477.0h0M115.5 482.6h0M121.6 465.5h0M152.6 380.3h0M195.5 369.1h0M238.4 338.2h0M221.5 336.1h0M190.1 348.3h0M164.1 368.1h0M162.1 361.1h0M133.4 384.8h0M129.7 385.5h0M129.3 398.4h0M126.6 412.3h0M284.6 334.3h0M292.4 336.1h0M306.2 331.9h0M325.8 329.8h0M333.2 335.4h0M182.3 343.7h0"/>
<path stroke="#3a8ac0" stroke-opacity="0.93" d="M191.4 303.2h0M175.6 304.3h0M194.5 308.8h0M247.9 309.5h0M165.0 292.9h0M138.2 298.7h0M125.4 275.5h0M159.9 303.5h0M146.7 296.9h0M127.0 269.2h0M120.5 282.2h0M230.1 307.4h0M320.9 307.9h0M191.5 303.7h0M176.1 301.2h0M118.4 264.1h0M147.9 298.0h0M306.6 310.1h0M111.1 287.4h0M122.3 267.7h0M292.9 308.3h0M123.1 270.0h0M222.4 309.1h0M302.8 310.6h0M109.2 254.7h0M107.0 260.8h0M162.1 299.4h0M145.9 297.3h0M290.1 309.1h0M129.4 279.0h0M107.5 264.8h0M257.8 309.1h0M175.5 304.0h0M158.7 306.7h0M182.1 305.6h0M126.4 292.1h0M125.4 276.8h0M340.4 309.0h0M108.4 253.4h0M167.8 304.3h0M109.2 289.4h0M138.5 296.4h0M173.8 298.9h0M183.7 302.0h0M213.8 306.6h0M144.5 304.0h0M236.2 310.0h0M207.3 305.0h0M207.4 309.1h0M267.1 307.9h0M291.6 309.6h0M147.3 303.9h0M112.9 271.3h0M169.6 307.4h0M173.8 305.1h0M198.3 309.1h0M214.9 307.7h0M152.9 296.3h0M126.0 290.1h0M227.8 308.8h0M157.7 302.0h0M199.8 302.9h0M271.6 309.6h0M141.1 275.7h0M182.9 302.9h0M161.3 297.5h0M230.1 309.9h0M127.0 274.8h0M110.3 288.9h0M117.1 256.1h0M145.3 301.1h0M200.5 308.2h0M117.0 277.0h0M144.4 297.0h0M181.9 307.9h0M121.4 292.1h0M185.4 300.8h0M186.9 307.5h0M123.4 297.8h0M266.7 309.6h0M297.0 309.5h0M283.4 310.4h0M123.2 275.1h0M132.8 289.3h0M163.9 296.6h0M107.7 287.2h0M125.5 281.6h0M187.2 300.9h0M123.1 297.6h0M122.6 272.3h0M358.1 309.9h0M176.9 301.5h0M197.2 307.1h0M112.2 254.9h0M130.0 284.9h0M114.6 280.6h0M125.1 288.6h0M115.5 267.6h0M113.9 243.1h0M221.0 308.6h0M127.8 269.2h0M267.9 309.9h0M130.4 295.8h0M142.1 289.4h0M170.8 303.9h0M135.4 297.1h0M134.5 278.5h0M202.9 305.2h0M131.9 295.1h0M198.9 307.2h0M156.7 302.8h0M124.2 272.5h0M216.6 306.9h0M163.1 303.3h0M183.4 304.2h0M111.3 244.6h0M149.9 301.6h0M158.5 287.9h0M143.3 296.2h0M115.4 293.1h0M224.0 309.2h0M171.6 306.9h0M131.2 262.4h0M120.2 288.8h0M138.4 287.9h0M131.7 299.1h0M120.0 266.2h0M143.1 286.1h0M136.5 279.3h0M161.8 306.0h0M243.0 310.1h0M192.9 301.6h0M118.3 291.6h0M124.2 292.5h0M254.2 308.5h0M213.7 305.8h0M204.1 309.4h0M267.0 309.4h0M207.9 306.3h0M282.9 309.4h0M127.1 288.5h0M152.6 300.3h0M113.3 262.4h0M134.4 288.3h0M182.2 301.9h0M142.6 293.6h0M117.2 278.2h0M155.5 296.6h0M220.8 309.7h0M196.9 308.9h0M301.4 309.9h0M310.6 309.7h0M170.0 304.6h0M126.3 289.0h0M167.7 299.5h0M130.0 277.9h0M159.7 296.6h0M218.3 306.6h0M207.1 309.6h0M149.8 299.9h0M130.7 290.1h0M108.1 258.6h0M253.6 309.0h0M243.6 306.1h0M176.4 300.5h0M235.0 308.0h0M120.3 288.8h0M189.2 302.0h0M239.7 308.5h0M141.8 288.0h0M153.1 305.4h0M145.3 293.1h0M258.6 307.2h0M318.4 309.0h0M127.0 299.8h0M232.8 308.2h0M302.9 308.4h0M159.4 305.3h0M174.9 301.6h0M240.2 309.0h0M189.8 306.1h0M162.6 294.9h0M268.2 308.1h0M167.0 303.6h0M227.4 307.3h0M276.4 309.8h0M132.1 286.6h0M244.1 309.7h0M119.8 249.7h0M188.1 308.7h0M253.3 307.1h0M314.6 309.1h0M279.7 308.1h0M125.8 276.9h0M164.5 307.3h0M148.9 304.6h0M236.5 309.9h0M117.9 292.0h0M274.2 309.8h0M137.0 295.6h0M152.0 296.6h0M109.8 268.8h0M158.0 295.8h0M272.0 309.4h0M150.5 288.1h0M108.3 254.0h0M247.9 306.5h0M151.5 298.9h0M113.1 242.7h0M199.3 304.5h0M119.5 294.9h0M177.4 299.9h0M144.2 292.1h0M125.1 270.6h0M146.3 298.8h0M151.5 305.3h0M172.0 300.2h0M157.0 305.3h0M109.8 247.6h0M169.1 304.5h0M293.0 309.1h0M251.5 309.4h0M222.4 308.0h0M203.0 309.3h0M118.9 261.4h0M111.5 270.7h0M190.0 306.6h0M136.3 283.8h0M159.0 296.7h0M109.4 250.9h0M123.2 272.3h0M111.2 251.0h0M282.1 308.5h0M114.1 234.5h0M278.5 308.5h0M110.8 249.0h0M121.0 291.6h0M203.0 302.8h0M182.5 304.8h0M109.5 257.8h0M133.7 296.7h0M115.1 271.1h0M134.2 292.5h0M136.5 299.3h0M162.9 304.6h0M215.2 305.1h0M108.3 278.8h0M193.7 307.9h0M134.0 300.4h0M148.2 288.4h0M129.7 289.7h0M161.8 299.7h0M110.0 267.0h0M162.9 297.8h0M126.7 278.5h0M108.2 272.3h0M283.6 309.3h0M187.9 308.9h0M109.1 284.3h0M228.2 307.9h0M113.6 257.6h0M149.6 298.6h0M114.4 291.3h0M278.2 308.6h0M184.6 306.1h0M135.1 279.3h0M133.0 287.9h0M110.3 246.6h0M262.0 307.5h0M115.3 293.6h0M177.3 301.2h0M121.5 247.9h0M119.1 269.9h0M117.3 252.7h0M107.0 255.7h0M107.4 278.8h0M106.6 274.9h0M108.7 232.9h0M107.9 248.8h0M106.4 277.3h0M106.8 281.4h0M114.6 270.6h0M108.2 281.4h0M107.4 256.9h0M109.7 281.2h0M111.7 208.0h0M109.7 272.9h0M112.9 231.3h0"/>
<path stroke="#328dce" stroke-opacity="0.92" d="M247.2 305.0h0M271.4 307.4h0M159.3 290.8h0M218.7 304.5h0M255.9 305.8h0M112.6 216.8h0M214.4 303.9h0M175.2 299.6h0M237.2 305.1h0M156.9 285.4h0M136.5 279.2h0M239.3 305.7h0M141.2 279.0h0M129.4 275.7h0M163.5 292.3h0M131.9 278.7h0M130.1 274.3h0M283.3 307.9h0M189.8 299.8h0M194.3 300.7h0M196.2 298.3h0M106.7 257.7h0M107.9 261.9h0M118.2 216.9h0M111.3 244.5h0M110.7 273.7h0M110.7 211.0h0"/>
<path stroke="#2b90dd" stroke-opacity="0.91" d="M289.8 305.4h0M114.5 217.6h0M168.6 295.5h0M132.4 256.1h0M138.3 265.6h0M155.7 278.7h0M119.9 225.1h0M137.4 264.5h0M144.7 278.8h0M118.3 244.7h0M109.6 260.0h0M107.2 213.7h0"/>
<path stroke="#2493ec" stroke-opacity="0.89" d="M215.5 298.4h0M306.5 306.9h0M108.9 210.3h0M108.6 214.4h0"/>
<path stroke="#1c96fa" stroke-opacity="0.88" d="M146.9 257.8h0M189.6 265.3h0M140.2 240.9h0M287.7 303.2h0M133.4 246.1h0M114.6 165.9h0M115.2 165.9h0M111.5 165.9h0M114.6 165.9h0M109.8 165.9h0M106.7 173.6h0M107.8 173.6h0M108.9 173.6h0M106.8 173.6h0M115.5 173.6h0M116.0 107.4h0M118.5 129.0h0M122.9 144.7h0M108.1 139.5h0M111.1 144.0h0M108.1 154.1h0M163.8 231.3h0M164.4 240.7h0M166.1 257.4h0M140.8 240.7h0M222.5 275.9h0M270.1 290.8h0M254.2 297.5h0M301.9 294.3h0M304.9 300.9h0M335.3 304.4h0M365.7 299.5h0M415.3 301.6h0"/>
</g>
<path d="M245.5 380.1L274.8 396.5" stroke="#231f20" stroke-width="1.1" fill="none"/>
<text x="279.5" y="412.5" font-family="'Liberation Sans', sans-serif" font-size="34.3" font-weight="bold" font-style="italic" fill="#231f20">Fmr1</text>
<rect x="89.5" y="89.7" width="557.2" height="452.6" fill="none" stroke="#000" stroke-width="1.2"/>
<path d="M84.0 542.1H89.5M84.0 507.3H89.5M84.0 472.5H89.5M84.0 437.7H89.5M84.0 402.9H89.5M84.0 368.1H89.5M84.0 333.3H89.5M84.0 298.5H89.5M84.0 263.7H89.5M84.0 228.9H89.5M84.0 194.1H89.5M84.0 159.3H89.5M84.0 124.5H89.5M89.5 542.3V547.8M123.3 542.3V547.8M157.0 542.3V547.8M190.8 542.3V547.8M224.5 542.3V547.8M258.3 542.3V547.8M292.1 542.3V547.8M325.8 542.3V547.8M359.6 542.3V547.8M393.3 542.3V547.8M427.1 542.3V547.8M460.9 542.3V547.8M494.6 542.3V547.8M528.4 542.3V547.8M562.1 542.3V547.8M595.9 542.3V547.8M629.7 542.3V547.8" stroke="#000" stroke-width="1.2" fill="none"/>
<g font-family="'Liberation Sans', sans-serif" font-size="14" fill="#000">
<g text-anchor="end">
<text x="77.5" y="547.1">−6.5</text>
<text x="77.5" y="512.3">−5.5</text>
<text x="77.5" y="477.5">−4.5</text>
<text x="77.5" y="442.7">−3.5</text>
<text x="77.5" y="407.9">−2.5</text>
<text x="77.5" y="373.1">−1.5</text>
<text x="77.5" y="338.3">−0.5</text>
<text x="77.5" y="303.5">0.5</text>
<text x="77.5" y="268.7">1.5</text>
<text x="77.5" y="233.9">2.5</text>
<text x="77.5" y="199.1">3.5</text>
<text x="77.5" y="164.3">4.5</text>
<text x="77.5" y="129.5">5.5</text>
</g><g text-anchor="middle">
<text x="89.5" y="564.8">−0.5</text>
<text x="123.3" y="564.8">0.5</text>
<text x="157.0" y="564.8">1.5</text>
<text x="190.8" y="564.8">2.5</text>
<text x="224.5" y="564.8">3.5</text>
<text x="258.3" y="564.8">4.5</text>
<text x="292.1" y="564.8">5.5</text>
<text x="325.8" y="564.8">6.5</text>
<text x="359.6" y="564.8">7.5</text>
<text x="393.3" y="564.8">8.5</text>
<text x="427.1" y="564.8">9.5</text>
<text x="460.9" y="564.8">10.5</text>
<text x="494.6" y="564.8">11.5</text>
<text x="528.4" y="564.8">12.5</text>
<text x="562.1" y="564.8">13.5</text>
<text x="595.9" y="564.8">14.5</text>
<text x="629.7" y="564.8">15.5</text>
</g></g>
<text x="105.2" y="606.8" font-family="'Liberation Sans', sans-serif" font-size="34.45" fill="#231f20">Log<tspan font-size="20" dx="0.6" dy="11.4">2</tspan><tspan dy="-11.4" dx="-0.4"> Mean Expression (TPM+1)</tspan></text>
<text x="639.9" y="124.8" text-anchor="end" font-family="'Liberation Sans', sans-serif" font-size="31" font-weight="bold" fill="#3399cc">Male <tspan font-style="italic">Fmr1</tspan>-KO</text>
<text x="638.9" y="528.6" text-anchor="end" font-family="'Liberation Sans', sans-serif" font-size="31" font-weight="bold" fill="#2b3990">Male WT</text>
</g>
<g id="panel1">
<clipPath id="cp1"><rect x="714.5" y="89.7" width="557.2" height="452.6"/></clipPath>
<g clip-path="url(#cp1)" fill="none" stroke-linecap="round" stroke-width="6.4">
<path stroke="#bcbcbc" stroke-opacity="0.74" d="M743.0 360.8h0M780.0 319.7h0M735.4 275.5h0M738.0 229.0h0M732.1 291.7h0M738.4 347.2h0M761.1 274.2h0M740.7 181.1h0M1075.2 306.9h0M734.4 338.0h0M753.2 269.1h0M742.8 321.2h0M746.3 311.8h0M1108.6 316.2h0M746.3 268.5h0M768.3 321.9h0M752.7 181.0h0M743.1 352.8h0M1129.1 316.6h0M795.8 317.6h0M766.9 297.1h0M821.3 300.5h0M732.7 300.6h0M754.4 314.2h0M732.2 261.8h0M742.4 257.3h0M743.2 298.6h0M769.9 271.8h0M745.0 449.8h0M754.0 360.0h0M733.6 235.5h0M764.0 302.5h0M735.2 261.3h0M1111.2 316.2h0M742.5 351.9h0M738.6 393.2h0M737.8 291.9h0M732.2 366.7h0M735.8 406.4h0M800.6 291.5h0M765.3 336.5h0M736.0 253.6h0M749.9 353.6h0M992.3 305.0h0M732.3 396.8h0M1141.9 317.9h0M785.2 308.8h0M771.5 278.6h0M745.2 258.9h0M735.9 336.8h0M779.3 334.4h0M808.5 331.5h0M744.5 422.2h0M745.7 357.8h0M792.9 362.2h0M760.3 276.8h0M746.5 336.0h0M740.1 313.2h0M761.8 271.9h0M755.7 217.9h0M756.7 335.9h0M738.2 191.3h0M797.1 347.4h0M752.7 234.0h0M752.8 296.8h0M884.6 336.4h0M754.3 294.6h0M947.1 326.9h0M755.6 343.3h0M732.8 364.0h0M805.5 329.2h0M736.6 394.7h0M766.1 290.6h0M770.0 337.3h0M733.9 352.3h0M741.5 292.9h0M732.1 323.5h0M739.0 364.0h0M735.3 327.5h0M741.9 228.4h0M741.9 254.1h0M760.1 347.7h0M740.6 380.8h0M758.5 316.1h0M739.2 292.2h0M767.9 283.4h0M737.1 282.6h0M737.3 296.8h0M1150.0 315.0h0M746.8 351.3h0M736.5 241.4h0M808.9 329.3h0M731.6 205.0h0M743.8 283.8h0M744.9 373.0h0M1151.4 313.1h0M731.9 204.1h0M798.7 307.7h0M866.1 306.7h0M787.3 311.8h0M735.5 234.8h0M754.1 335.9h0M742.0 378.9h0M740.7 328.0h0M777.9 321.5h0M770.4 279.5h0M742.9 281.6h0M742.2 284.0h0M746.5 316.9h0M732.0 404.3h0M731.4 385.7h0M808.3 388.0h0M745.5 419.9h0M738.4 388.6h0M739.2 190.8h0M754.5 301.3h0M734.1 276.6h0M759.6 322.8h0M1166.4 315.1h0M731.9 337.5h0M739.9 353.7h0M733.5 407.0h0M772.0 348.1h0M1037.0 307.0h0M768.5 326.9h0M758.8 291.9h0M757.6 333.9h0M736.1 328.9h0M777.7 361.1h0M734.9 334.2h0M976.3 308.8h0M741.9 289.3h0M751.7 308.2h0M734.4 336.0h0M731.8 276.6h0M732.8 318.4h0M732.9 357.1h0M789.4 346.9h0M734.2 240.4h0M812.3 293.8h0M738.9 380.2h0M739.1 314.1h0M1164.8 317.1h0M735.8 377.8h0M800.7 362.4h0M747.2 276.9h0M744.3 344.8h0M766.6 276.4h0M752.2 439.9h0M733.8 366.5h0M738.7 369.9h0M773.9 313.2h0M766.0 337.5h0M736.1 235.1h0M754.4 360.5h0M735.8 389.7h0M736.6 235.2h0M766.7 293.0h0M753.3 204.0h0M757.5 315.9h0M734.6 323.8h0M740.1 408.2h0M745.5 264.3h0M736.0 319.6h0M737.9 383.2h0M734.1 281.0h0M764.5 293.1h0M742.1 301.0h0M737.3 191.6h0M735.3 211.4h0M743.6 206.2h0M736.4 327.8h0M762.7 294.3h0M741.6 302.3h0M745.6 291.5h0M757.5 361.2h0M1078.2 310.2h0M736.5 410.6h0M746.3 318.2h0M733.3 238.5h0M756.2 339.2h0M735.2 419.1h0M783.1 314.7h0M732.3 303.6h0M740.8 206.8h0M829.5 327.5h0M737.5 333.6h0M742.7 260.1h0M1035.0 308.1h0M756.3 315.1h0M818.4 325.9h0M735.7 376.2h0M739.4 321.5h0M1164.5 317.8h0M770.5 358.5h0M753.9 323.4h0M741.2 246.9h0M740.6 386.1h0M751.2 287.1h0M752.8 387.3h0M749.7 291.1h0M753.5 234.8h0M784.0 288.0h0M757.9 353.4h0M732.4 420.4h0M870.7 306.1h0M750.9 282.4h0M740.6 204.5h0M758.0 308.6h0M745.3 279.4h0M732.6 239.9h0M1059.4 311.8h0M758.7 378.8h0M734.3 358.2h0M733.1 378.6h0M1216.7 314.0h0M778.7 315.8h0M736.2 327.3h0M767.8 297.6h0M748.8 365.1h0M734.5 400.0h0M731.7 297.9h0M745.4 360.0h0M760.7 321.7h0M742.8 340.9h0M742.6 288.3h0M743.9 254.6h0M737.1 425.1h0M745.4 313.3h0M768.1 316.6h0M749.0 320.3h0M734.0 332.3h0M736.1 307.3h0M741.3 327.4h0M750.0 329.9h0M733.0 406.7h0M753.6 318.0h0M743.5 306.2h0M734.2 407.5h0M741.3 226.6h0M740.4 365.9h0M731.9 180.8h0M734.2 382.3h0M748.0 349.2h0M742.4 348.2h0M741.5 180.9h0M754.9 337.0h0M734.3 234.5h0M744.0 395.4h0M735.9 255.3h0M744.8 353.5h0M738.0 283.3h0M747.0 335.8h0M761.7 384.6h0M764.3 321.9h0M755.9 344.2h0M740.8 342.6h0M750.5 349.9h0M741.7 345.7h0M735.9 351.1h0M795.2 336.5h0M733.4 359.3h0M735.3 385.5h0M734.0 281.9h0M737.9 210.0h0M750.0 316.2h0M737.3 275.3h0M769.3 315.2h0M754.6 350.5h0M1121.2 317.0h0M1162.1 315.3h0M739.2 427.3h0M743.1 344.9h0M749.6 321.2h0M731.5 307.5h0M731.8 279.5h0M734.6 191.8h0M1164.9 314.5h0M743.0 376.9h0M731.7 271.9h0M741.3 241.7h0M739.5 351.3h0M738.6 390.4h0M739.5 212.0h0M770.4 364.0h0M735.9 355.6h0M767.3 352.3h0M734.3 400.1h0M749.7 304.1h0M732.6 295.8h0M743.0 272.8h0M738.9 343.6h0M739.9 243.0h0M768.1 290.1h0M737.0 220.0h0M743.4 346.1h0M746.8 312.9h0M738.3 359.7h0M736.3 342.2h0M734.7 306.4h0M732.1 181.4h0M768.8 327.0h0M748.4 314.7h0M733.5 208.9h0M1234.5 315.9h0M739.0 332.0h0M748.2 449.6h0M777.3 324.1h0M763.8 324.7h0M750.0 294.7h0M737.9 406.5h0M759.4 367.9h0M751.8 389.4h0M731.9 326.8h0M1107.5 312.8h0M741.9 340.9h0M736.4 387.0h0M742.5 283.0h0M760.2 295.6h0M767.4 300.7h0M755.0 289.1h0M739.7 284.4h0M736.4 256.0h0M754.0 287.4h0M731.7 191.0h0M752.3 361.2h0M756.9 328.9h0M735.3 254.5h0M751.7 427.6h0M739.9 391.6h0M752.8 287.4h0M735.4 309.8h0M738.5 205.4h0M753.1 325.9h0M843.1 307.5h0M752.3 310.5h0M739.4 429.5h0M732.6 383.0h0M733.5 313.1h0M736.0 274.5h0M951.0 308.2h0M821.5 377.1h0M734.7 242.2h0M737.5 394.2h0M750.0 311.9h0M753.1 326.9h0M740.6 335.0h0M748.4 349.1h0M732.9 356.8h0M767.1 343.3h0M736.4 315.2h0M748.4 227.5h0M732.4 419.4h0M737.8 339.5h0M755.3 311.7h0M746.2 361.3h0M770.8 299.9h0M731.9 316.0h0M732.4 427.6h0M737.8 266.0h0M740.6 343.6h0M734.0 397.0h0M756.2 295.2h0M763.0 354.9h0M734.4 350.5h0M755.8 255.5h0M736.0 248.6h0M739.0 322.8h0M752.0 364.3h0M779.9 319.6h0M731.7 320.9h0M734.8 274.1h0M738.5 277.2h0M773.6 322.8h0M743.2 240.5h0M747.9 281.3h0M757.0 272.1h0M738.5 450.3h0M785.3 288.0h0M732.1 305.4h0M1160.2 321.1h0M737.2 386.2h0M736.4 257.5h0M733.9 400.4h0M733.0 395.5h0M733.9 294.6h0M741.5 297.7h0M732.5 439.2h0M755.5 294.9h0M733.4 311.0h0M731.7 335.9h0M774.4 290.4h0M750.5 300.8h0M749.2 275.5h0M732.8 317.4h0M733.1 259.0h0M754.4 427.4h0M741.7 351.7h0M734.0 349.4h0M754.4 359.8h0M738.2 276.5h0M737.7 364.2h0M732.9 260.3h0M751.9 302.9h0M770.6 297.8h0M923.1 326.2h0M861.0 308.2h0M1131.5 315.4h0M732.3 330.2h0M744.8 346.6h0M768.6 327.0h0M743.6 263.2h0M744.4 307.5h0M752.4 272.5h0M828.3 326.1h0M738.8 373.8h0M747.2 293.0h0M743.8 355.7h0M741.0 190.8h0M747.4 355.3h0M754.9 379.5h0M743.7 364.0h0M1166.9 320.1h0M757.9 287.9h0M736.2 384.8h0M745.4 336.5h0M794.7 349.9h0M746.3 388.5h0M804.3 276.5h0M861.2 302.9h0M734.2 356.7h0M757.7 338.9h0M737.3 319.4h0M731.5 318.8h0M732.7 438.9h0M752.3 354.2h0M1144.2 315.6h0M732.3 387.5h0M732.9 220.2h0M733.8 289.5h0M734.2 180.7h0M746.7 318.9h0M737.2 361.7h0M776.0 301.2h0M757.7 340.7h0M732.5 335.5h0M739.6 381.1h0M732.8 281.6h0M753.8 296.4h0M732.6 227.4h0M981.8 307.4h0M795.7 314.6h0M760.2 316.3h0M743.5 240.0h0M732.6 349.2h0M1150.1 321.1h0M745.6 380.4h0M777.3 287.3h0M906.9 310.1h0M733.4 181.1h0M731.8 275.3h0M792.5 336.1h0M733.2 240.3h0M735.0 334.1h0M749.5 352.0h0M773.9 318.5h0M777.9 308.1h0M753.4 263.1h0M738.6 315.1h0M744.0 343.3h0M751.6 335.5h0M760.2 286.2h0M731.6 406.2h0M743.2 450.3h0M733.2 225.7h0M760.1 337.8h0M754.8 288.1h0M745.5 331.3h0M733.9 339.7h0M980.3 329.9h0M735.8 354.0h0M746.7 304.8h0M769.6 307.5h0M743.1 409.8h0M737.8 360.7h0M763.6 343.5h0M732.7 181.0h0M733.6 449.4h0M742.9 370.8h0M732.7 303.7h0M1058.8 296.8h0M733.0 421.3h0M756.5 370.4h0M733.2 313.5h0M782.4 320.4h0M743.6 314.3h0M768.2 367.4h0M731.4 282.3h0M888.5 310.2h0M778.2 385.5h0M845.0 323.2h0M735.8 341.4h0M858.1 305.8h0M736.0 217.3h0M740.9 321.4h0M955.8 299.1h0M739.7 243.5h0M743.4 310.5h0M755.5 321.0h0M767.7 299.6h0M735.7 309.3h0M738.1 311.8h0M741.3 233.6h0M745.6 266.2h0M771.5 342.4h0M1142.1 315.7h0M760.4 296.3h0M1013.1 335.7h0M810.0 283.7h0M733.0 419.3h0M737.0 343.5h0M763.6 309.7h0M797.0 307.0h0M754.3 255.6h0M759.4 268.0h0M735.7 372.0h0M835.4 329.4h0M732.7 363.2h0M733.3 305.3h0M748.6 295.5h0M736.2 439.1h0M740.1 383.3h0M734.5 363.0h0M769.9 379.3h0M835.3 340.1h0M732.5 311.6h0M769.2 340.4h0M732.6 235.8h0M806.0 300.1h0M732.9 360.1h0M745.9 427.4h0M741.4 297.3h0M740.9 241.5h0M736.3 361.9h0M740.5 361.9h0M735.2 340.0h0M735.6 298.5h0M742.3 323.0h0M754.6 341.3h0M914.3 327.7h0M752.7 372.5h0M731.5 352.4h0M784.1 315.1h0M745.9 301.3h0M772.4 372.1h0M736.3 342.7h0M734.6 242.8h0M731.9 422.2h0M731.5 276.4h0M754.3 310.3h0M750.5 278.0h0M734.1 212.4h0M1201.2 315.3h0M741.0 291.7h0M744.3 315.6h0M765.5 275.5h0M744.9 286.8h0M737.1 290.4h0M743.4 280.7h0M749.9 334.4h0M740.0 229.1h0M733.9 314.7h0M763.7 303.9h0M735.8 393.8h0M740.2 304.1h0M734.6 344.8h0M734.4 385.4h0M737.7 449.4h0M734.6 364.4h0M734.7 316.1h0M775.2 313.5h0M735.7 329.3h0M740.6 427.2h0M764.2 344.2h0M732.6 379.2h0M751.4 296.9h0M741.3 292.3h0M738.4 411.1h0M736.5 291.2h0M746.7 316.3h0M903.1 306.2h0M734.7 263.0h0M745.3 272.3h0M731.5 271.0h0M830.6 332.8h0M758.3 356.5h0M740.3 354.9h0M772.7 326.3h0M746.2 290.1h0M734.7 379.9h0M767.9 315.1h0M742.6 272.0h0M793.1 334.9h0M749.9 277.3h0M742.7 263.8h0M738.8 358.0h0M734.7 329.8h0M756.2 341.0h0M765.5 347.1h0M739.5 324.3h0M739.0 191.6h0M739.9 320.9h0M735.7 401.7h0M744.1 389.2h0M1175.1 314.3h0M758.1 364.6h0M773.8 335.2h0M733.6 256.2h0M917.7 305.9h0M756.5 371.0h0M772.2 310.4h0M748.6 259.4h0"/>
<path stroke="#bcbcbc" stroke-opacity="0.74" d="M840.0 302.8h0M751.8 439.6h0M766.0 351.8h0M748.7 352.9h0M776.0 292.2h0M732.5 417.8h0M732.0 333.3h0M767.0 326.7h0M738.6 283.1h0M736.1 312.9h0M771.0 333.4h0M741.0 301.4h0M805.1 336.5h0M733.7 226.1h0M743.5 270.7h0M756.4 349.2h0M742.7 279.3h0M750.1 321.3h0M748.9 330.5h0M738.9 320.0h0M744.3 274.7h0M747.2 340.0h0M732.8 400.4h0M755.5 297.0h0M752.1 327.7h0M752.0 309.5h0M736.4 317.5h0M732.5 278.4h0M748.6 307.3h0M742.5 355.5h0M738.3 279.9h0M738.1 327.4h0M741.3 311.2h0M755.4 329.8h0M757.6 278.7h0M734.6 338.8h0M743.4 272.9h0M765.4 340.6h0M734.6 397.4h0M744.6 382.0h0M731.4 427.0h0M748.8 302.0h0M741.1 348.9h0M732.8 439.2h0M755.7 267.6h0M742.5 375.4h0M738.9 364.6h0M735.1 231.7h0M793.6 297.4h0M747.3 338.6h0M750.1 205.1h0M1009.7 326.7h0M811.0 325.5h0M741.8 336.9h0M772.5 279.3h0M750.2 296.7h0M747.3 224.7h0M735.6 204.8h0M761.7 355.7h0M738.1 181.7h0M731.8 261.7h0M746.3 299.5h0M735.0 390.7h0M737.3 426.8h0M735.0 388.6h0M740.4 279.7h0M744.1 245.5h0M746.0 329.2h0M733.1 323.5h0M753.2 297.7h0M731.7 275.9h0M748.7 292.7h0M745.4 373.4h0M737.9 323.0h0M750.5 315.7h0M732.0 410.6h0M735.6 346.7h0M760.0 363.1h0M756.9 301.9h0M751.2 356.6h0M752.5 305.1h0M732.7 405.5h0M749.0 269.6h0M736.2 390.3h0M753.4 376.2h0M750.2 398.5h0M743.3 377.4h0M770.7 320.4h0M736.7 337.3h0M783.1 305.7h0M736.4 191.3h0M737.0 374.6h0M748.5 265.5h0M742.2 248.2h0M929.1 310.7h0M746.3 343.6h0M745.3 287.5h0M758.2 282.8h0M738.6 263.7h0M779.0 313.0h0M744.1 346.8h0M734.4 296.3h0M756.6 324.2h0M733.0 211.1h0M1133.0 316.6h0M755.6 328.2h0M736.6 427.1h0M747.3 368.6h0M733.3 336.4h0M756.1 340.0h0M769.6 286.8h0M738.9 304.6h0M739.2 321.0h0M737.5 237.9h0M740.5 427.2h0M733.6 317.5h0M734.4 205.2h0M743.5 332.2h0M785.9 332.6h0M741.6 250.2h0M744.9 353.4h0M740.5 181.3h0M1118.3 317.7h0M737.8 317.0h0M975.6 309.4h0M760.1 336.6h0M755.1 382.4h0M770.0 285.2h0M731.7 380.0h0M1227.2 316.3h0M793.4 310.9h0M731.9 439.1h0M738.0 360.6h0M732.8 275.0h0M764.1 257.8h0M766.3 376.4h0M800.9 287.1h0M794.4 346.5h0M747.6 325.2h0M742.6 277.7h0M742.2 322.8h0M737.4 264.7h0M1113.9 314.4h0M760.9 311.5h0M742.9 386.3h0M740.1 291.1h0M742.6 284.6h0M766.5 247.6h0M736.9 293.4h0M736.9 310.1h0M736.8 180.9h0M738.7 387.9h0M745.7 308.5h0M755.0 289.8h0M755.4 354.6h0M739.2 327.8h0M747.1 407.9h0M732.5 305.6h0M746.9 319.7h0M738.1 407.2h0M736.0 340.8h0M755.2 321.5h0M774.5 339.4h0M736.3 409.9h0M784.8 300.5h0M739.2 427.0h0M735.5 301.6h0M737.3 367.3h0M970.0 300.1h0M752.4 338.3h0M740.1 218.6h0M794.3 300.3h0M735.1 335.6h0M770.5 371.5h0M753.3 291.0h0M818.4 335.3h0M749.0 295.4h0M738.7 376.8h0M739.1 349.7h0M739.1 356.3h0M735.2 210.7h0M733.3 271.7h0M794.7 323.2h0M738.9 254.5h0M735.9 416.3h0M752.3 316.8h0M761.7 335.2h0M739.5 275.5h0M737.1 249.6h0M747.1 339.7h0M746.0 366.7h0M734.9 211.7h0M733.6 379.6h0M769.4 311.2h0M731.7 223.3h0M1172.9 316.9h0M809.6 293.1h0M731.9 399.0h0M799.9 317.3h0M839.7 330.4h0M962.0 327.8h0M739.0 331.3h0M732.2 449.8h0M742.0 346.3h0M734.5 278.8h0M733.7 295.0h0M744.9 330.2h0M735.6 335.5h0M749.9 253.5h0M756.4 298.4h0M737.4 320.3h0M777.5 339.9h0M735.7 260.2h0M738.6 323.7h0M961.9 310.3h0M732.6 385.9h0M756.8 328.3h0M736.1 341.0h0M965.9 305.2h0M733.5 373.6h0M1051.1 329.5h0M1018.4 306.3h0M764.1 270.8h0M734.2 354.0h0M740.7 302.9h0M821.1 339.7h0M742.0 328.4h0M737.0 244.6h0M742.3 358.1h0M886.6 309.7h0M753.0 223.8h0M764.6 311.6h0M739.5 321.5h0M735.9 289.2h0M849.6 339.4h0M734.1 317.3h0M731.9 238.0h0M1201.6 314.6h0M742.9 254.9h0M745.4 299.0h0M755.8 313.0h0M759.7 319.4h0M751.0 379.2h0M744.2 405.7h0M739.4 440.0h0M748.6 324.2h0M738.9 338.6h0M734.5 219.1h0M757.9 361.8h0M736.3 330.9h0M751.1 266.9h0M758.6 366.9h0M737.5 273.6h0M735.0 247.8h0M743.0 449.9h0M735.5 306.3h0M749.9 319.7h0M746.6 280.6h0M745.0 310.9h0M749.5 331.2h0M1166.8 315.7h0M735.2 276.2h0M737.9 383.7h0M759.3 427.2h0M732.9 239.9h0M734.7 345.8h0M1180.4 314.2h0M743.1 223.6h0M740.0 316.3h0M745.8 339.1h0M733.6 310.6h0M1112.3 315.0h0M732.6 405.3h0M791.7 337.4h0M750.9 281.6h0M759.0 317.3h0M738.4 360.6h0M735.7 191.4h0M772.1 282.9h0M733.6 276.8h0M740.1 327.7h0M738.2 313.5h0M747.4 340.8h0M809.7 328.7h0M1040.1 304.8h0M734.2 289.5h0M861.6 327.3h0M747.8 354.6h0M734.7 204.4h0M738.5 288.3h0M732.4 308.1h0M1121.4 317.2h0M733.5 341.4h0M773.1 331.2h0M847.6 302.2h0M756.3 343.9h0M733.1 295.2h0M735.6 319.5h0M751.1 307.5h0M1118.3 315.7h0M732.5 367.4h0M738.2 309.3h0M732.1 206.8h0M754.7 350.0h0M736.1 228.1h0M760.9 324.9h0M741.2 319.6h0M731.6 253.5h0M754.2 314.7h0M956.5 323.8h0M739.0 241.7h0M793.3 296.5h0M752.1 312.6h0M777.5 328.9h0M751.5 319.7h0M757.7 349.1h0M736.8 208.5h0M739.5 449.9h0M737.6 314.2h0M765.9 333.0h0M764.8 277.4h0M1105.4 318.1h0M736.1 404.2h0M748.1 289.2h0M743.2 292.9h0M737.7 299.6h0M732.8 393.1h0M745.0 397.7h0M871.5 326.6h0M747.7 338.3h0M758.8 313.5h0M1122.2 314.6h0M736.8 450.5h0M761.8 306.5h0M760.3 262.2h0M855.5 305.4h0M732.0 381.8h0M745.0 396.9h0M739.5 339.4h0M732.6 344.8h0M768.2 348.3h0M750.2 272.7h0M732.5 424.5h0M747.5 296.9h0M760.9 297.0h0M740.0 321.2h0M740.7 346.5h0M733.7 361.6h0M738.5 361.2h0M738.1 235.3h0M773.4 314.4h0M751.7 293.4h0M741.6 279.0h0M1104.1 316.4h0M731.7 427.0h0M736.3 269.1h0M741.6 300.5h0M785.6 317.0h0M753.4 331.2h0M739.8 315.5h0M736.5 400.1h0M783.6 318.1h0M732.8 247.0h0M749.7 312.2h0M735.2 308.3h0M760.1 322.4h0M739.0 295.7h0M921.2 329.7h0M740.7 295.1h0M743.9 303.2h0M746.8 369.2h0M749.8 319.1h0M1031.0 309.8h0M733.7 300.3h0M738.9 278.9h0M732.0 266.4h0M741.2 285.5h0M749.9 335.6h0M736.1 362.0h0M752.6 267.7h0M760.2 237.2h0M734.2 292.8h0M784.8 334.9h0M765.4 296.9h0M741.3 369.0h0M751.4 266.2h0M832.4 298.3h0M805.2 297.6h0M1121.5 314.8h0M763.8 287.8h0M741.6 216.5h0M797.0 342.8h0M760.0 304.4h0M753.9 327.0h0M755.2 349.7h0M741.1 261.8h0M735.4 268.7h0M737.3 374.6h0M754.5 318.4h0M734.6 309.4h0M738.1 427.1h0M737.6 353.1h0M756.3 347.2h0M818.9 292.1h0M945.8 329.2h0M734.0 310.7h0M768.6 309.6h0M756.3 258.6h0M735.7 227.6h0M764.7 342.9h0M733.1 310.2h0M745.3 408.1h0M734.9 347.9h0M735.2 250.7h0M736.2 191.6h0M762.9 266.9h0M742.2 438.9h0M764.4 319.0h0M732.7 353.5h0M758.6 339.5h0M746.3 379.2h0M775.2 295.2h0M755.8 336.6h0M733.5 191.4h0M733.2 309.1h0M828.9 290.3h0M754.9 336.2h0M1170.3 314.9h0M766.9 314.6h0M741.1 378.8h0M763.1 283.4h0M748.2 316.5h0M742.8 347.5h0M751.4 191.3h0M740.7 252.8h0M741.1 396.3h0M785.6 309.5h0M767.4 290.2h0M733.5 426.6h0M758.2 427.2h0M734.1 286.5h0M906.5 306.7h0M851.9 308.5h0M765.9 283.6h0M746.2 332.0h0M744.3 265.6h0M736.6 248.1h0M734.1 407.9h0M738.4 390.3h0M863.9 305.7h0M787.1 334.9h0M736.8 427.1h0M1195.7 313.5h0M738.0 375.3h0M754.5 345.4h0M759.9 191.1h0M772.4 277.4h0M760.2 313.7h0M746.9 318.7h0M870.4 308.3h0M916.8 328.5h0M747.3 312.8h0M736.7 319.1h0M828.0 329.9h0M745.1 237.1h0M751.3 309.6h0M739.7 309.9h0M835.9 305.9h0M754.7 341.9h0M733.6 333.2h0M743.5 268.1h0M733.5 384.1h0M749.6 277.6h0M762.8 284.2h0M1166.7 316.2h0M743.1 262.2h0M732.9 345.6h0M1123.2 315.9h0M750.1 181.0h0M731.5 440.4h0M734.7 324.4h0M745.0 324.0h0M1056.4 306.3h0M755.3 372.5h0M741.6 380.4h0M745.6 236.3h0M731.5 364.0h0M742.1 215.9h0M742.2 238.5h0M757.9 327.1h0M760.6 276.4h0M771.9 338.2h0M734.5 427.3h0M735.2 358.9h0M738.5 247.8h0M733.2 379.8h0M808.6 304.8h0M750.8 362.8h0M742.2 295.5h0M733.4 354.7h0M884.9 301.2h0M747.4 348.6h0M735.1 191.2h0M734.1 284.1h0M1049.1 310.7h0M748.9 271.2h0M731.5 344.1h0M1045.0 308.7h0M741.4 285.3h0M742.3 270.7h0M748.0 354.7h0M750.1 344.0h0M871.5 299.6h0M739.6 230.6h0M737.5 348.3h0M735.3 313.6h0M732.7 251.3h0M734.4 414.1h0M751.3 266.6h0M736.5 202.2h0M757.6 272.5h0M743.8 254.4h0M754.4 312.2h0M749.2 307.3h0M1106.0 315.9h0M735.7 232.7h0M754.4 325.2h0M731.9 247.4h0M1103.7 314.4h0M745.0 310.6h0M756.8 449.7h0M755.1 250.3h0M745.2 181.5h0M735.6 300.0h0M735.3 297.4h0M746.8 230.2h0M744.3 308.4h0M743.5 403.0h0M732.4 338.2h0M769.7 318.6h0M733.3 449.9h0M745.9 371.8h0M787.6 318.7h0M742.3 282.8h0M735.7 324.2h0M757.2 351.1h0M821.9 306.2h0M827.8 323.0h0M753.9 313.4h0M752.4 342.9h0M733.2 379.3h0M1141.3 314.1h0M734.3 318.0h0M763.8 317.4h0M754.0 412.9h0M760.9 340.9h0M763.7 334.6h0M818.7 333.3h0M735.6 398.6h0M762.7 320.0h0M742.5 278.8h0M987.1 324.1h0M1005.1 309.1h0M738.4 283.2h0M746.6 347.1h0M751.6 393.0h0M737.9 450.1h0M742.8 259.5h0M1107.3 317.9h0M761.5 323.6h0M771.1 313.1h0M760.3 332.6h0M762.5 344.3h0M749.6 390.5h0M1060.8 308.0h0M739.6 215.6h0M733.2 344.6h0M743.0 357.3h0M744.8 274.3h0M744.9 275.3h0M733.2 430.1h0M789.2 300.6h0M741.3 231.5h0M742.5 381.6h0M1012.9 309.9h0M733.2 266.7h0M760.3 291.5h0M773.2 354.6h0M736.6 316.2h0M749.1 295.4h0M899.0 321.1h0M743.4 294.0h0M739.2 204.7h0M732.0 332.8h0M741.7 292.8h0M747.8 362.8h0M937.3 305.8h0M746.3 361.9h0M744.2 313.2h0M739.2 231.2h0M736.9 392.2h0M747.3 212.1h0M747.8 325.6h0M733.7 387.3h0M747.0 302.4h0M738.3 353.6h0M743.7 271.9h0M734.5 239.3h0M735.4 339.3h0M748.5 300.3h0M749.6 373.5h0M743.6 396.0h0M761.5 313.2h0M749.2 276.8h0M739.3 328.9h0M741.5 276.5h0M735.9 378.5h0M778.3 333.4h0M759.6 331.4h0M735.4 180.8h0M736.4 337.4h0M894.1 330.4h0M735.4 204.4h0"/>
<path stroke="#fff" stroke-width="3.4" stroke-opacity="0.16" d="M743.0 360.8h0M780.0 319.7h0M735.4 275.5h0M738.0 229.0h0M732.1 291.7h0M738.4 347.2h0M761.1 274.2h0M740.7 181.1h0M1075.2 306.9h0M734.4 338.0h0M753.2 269.1h0M742.8 321.2h0M746.3 311.8h0M1108.6 316.2h0M746.3 268.5h0M768.3 321.9h0M752.7 181.0h0M743.1 352.8h0M1129.1 316.6h0M795.8 317.6h0M766.9 297.1h0M821.3 300.5h0M732.7 300.6h0M754.4 314.2h0M732.2 261.8h0M742.4 257.3h0M743.2 298.6h0M769.9 271.8h0M745.0 449.8h0M754.0 360.0h0M733.6 235.5h0M764.0 302.5h0M735.2 261.3h0M1111.2 316.2h0M742.5 351.9h0M738.6 393.2h0M737.8 291.9h0M732.2 366.7h0M735.8 406.4h0M800.6 291.5h0M765.3 336.5h0M736.0 253.6h0M749.9 353.6h0M992.3 305.0h0M732.3 396.8h0M1141.9 317.9h0M785.2 308.8h0M771.5 278.6h0M745.2 258.9h0M735.9 336.8h0M779.3 334.4h0M808.5 331.5h0M744.5 422.2h0M745.7 357.8h0M792.9 362.2h0M760.3 276.8h0M746.5 336.0h0M740.1 313.2h0M761.8 271.9h0M755.7 217.9h0M756.7 335.9h0M738.2 191.3h0M797.1 347.4h0M752.7 234.0h0M752.8 296.8h0M884.6 336.4h0M754.3 294.6h0M947.1 326.9h0M755.6 343.3h0M732.8 364.0h0M805.5 329.2h0M736.6 394.7h0M766.1 290.6h0M770.0 337.3h0M733.9 352.3h0M741.5 292.9h0M732.1 323.5h0M739.0 364.0h0M735.3 327.5h0M741.9 228.4h0M741.9 254.1h0M760.1 347.7h0M740.6 380.8h0M758.5 316.1h0M739.2 292.2h0M767.9 283.4h0M737.1 282.6h0M737.3 296.8h0M1150.0 315.0h0M746.8 351.3h0M736.5 241.4h0M808.9 329.3h0M731.6 205.0h0M743.8 283.8h0M744.9 373.0h0M1151.4 313.1h0M731.9 204.1h0M798.7 307.7h0M866.1 306.7h0M787.3 311.8h0M735.5 234.8h0M754.1 335.9h0M742.0 378.9h0M740.7 328.0h0M777.9 321.5h0M770.4 279.5h0M742.9 281.6h0M742.2 284.0h0M746.5 316.9h0M732.0 404.3h0M731.4 385.7h0M808.3 388.0h0M745.5 419.9h0M738.4 388.6h0M739.2 190.8h0M754.5 301.3h0M734.1 276.6h0M759.6 322.8h0M1166.4 315.1h0M731.9 337.5h0M739.9 353.7h0M733.5 407.0h0M772.0 348.1h0M1037.0 307.0h0M768.5 326.9h0M758.8 291.9h0M757.6 333.9h0M736.1 328.9h0M777.7 361.1h0M734.9 334.2h0M976.3 308.8h0M741.9 289.3h0M751.7 308.2h0M734.4 336.0h0M731.8 276.6h0M732.8 318.4h0M732.9 357.1h0M789.4 346.9h0M734.2 240.4h0M812.3 293.8h0M738.9 380.2h0M739.1 314.1h0M1164.8 317.1h0M735.8 377.8h0M800.7 362.4h0M747.2 276.9h0M744.3 344.8h0M766.6 276.4h0M752.2 439.9h0M733.8 366.5h0M738.7 369.9h0M773.9 313.2h0M766.0 337.5h0M736.1 235.1h0M754.4 360.5h0M735.8 389.7h0M736.6 235.2h0M766.7 293.0h0M753.3 204.0h0M757.5 315.9h0M734.6 323.8h0M740.1 408.2h0M745.5 264.3h0M736.0 319.6h0M737.9 383.2h0M734.1 281.0h0M764.5 293.1h0M742.1 301.0h0M737.3 191.6h0M735.3 211.4h0M743.6 206.2h0M736.4 327.8h0M762.7 294.3h0M741.6 302.3h0M745.6 291.5h0M757.5 361.2h0M1078.2 310.2h0M736.5 410.6h0M746.3 318.2h0M733.3 238.5h0M756.2 339.2h0M735.2 419.1h0M783.1 314.7h0M732.3 303.6h0M740.8 206.8h0M829.5 327.5h0M737.5 333.6h0M742.7 260.1h0M1035.0 308.1h0M756.3 315.1h0M818.4 325.9h0M735.7 376.2h0M739.4 321.5h0M1164.5 317.8h0M770.5 358.5h0M753.9 323.4h0M741.2 246.9h0M740.6 386.1h0M751.2 287.1h0M752.8 387.3h0M749.7 291.1h0M753.5 234.8h0M784.0 288.0h0M757.9 353.4h0M732.4 420.4h0M870.7 306.1h0M750.9 282.4h0M740.6 204.5h0M758.0 308.6h0M745.3 279.4h0M732.6 239.9h0M1059.4 311.8h0M758.7 378.8h0M734.3 358.2h0M733.1 378.6h0M1216.7 314.0h0M778.7 315.8h0M736.2 327.3h0M767.8 297.6h0M748.8 365.1h0M734.5 400.0h0M731.7 297.9h0M745.4 360.0h0M760.7 321.7h0M742.8 340.9h0M742.6 288.3h0M743.9 254.6h0M737.1 425.1h0M745.4 313.3h0M768.1 316.6h0M749.0 320.3h0M734.0 332.3h0M736.1 307.3h0M741.3 327.4h0M750.0 329.9h0M733.0 406.7h0M753.6 318.0h0M743.5 306.2h0M734.2 407.5h0M741.3 226.6h0M740.4 365.9h0M731.9 180.8h0M734.2 382.3h0M748.0 349.2h0M742.4 348.2h0M741.5 180.9h0M754.9 337.0h0M734.3 234.5h0M744.0 395.4h0M735.9 255.3h0M744.8 353.5h0M738.0 283.3h0M747.0 335.8h0M761.7 384.6h0M764.3 321.9h0M755.9 344.2h0M740.8 342.6h0M750.5 349.9h0M741.7 345.7h0M735.9 351.1h0M795.2 336.5h0M733.4 359.3h0M735.3 385.5h0M734.0 281.9h0M737.9 210.0h0M750.0 316.2h0M737.3 275.3h0M769.3 315.2h0M754.6 350.5h0M1121.2 317.0h0M1162.1 315.3h0M739.2 427.3h0M743.1 344.9h0M749.6 321.2h0M731.5 307.5h0M731.8 279.5h0M734.6 191.8h0M1164.9 314.5h0M743.0 376.9h0M731.7 271.9h0M741.3 241.7h0M739.5 351.3h0M738.6 390.4h0M739.5 212.0h0M770.4 364.0h0M735.9 355.6h0M767.3 352.3h0M734.3 400.1h0M749.7 304.1h0M732.6 295.8h0M743.0 272.8h0M738.9 343.6h0M739.9 243.0h0M768.1 290.1h0M737.0 220.0h0M743.4 346.1h0M746.8 312.9h0M738.3 359.7h0M736.3 342.2h0M734.7 306.4h0M732.1 181.4h0M768.8 327.0h0M748.4 314.7h0M733.5 208.9h0M1234.5 315.9h0M739.0 332.0h0M748.2 449.6h0M777.3 324.1h0M763.8 324.7h0M750.0 294.7h0M737.9 406.5h0M759.4 367.9h0M751.8 389.4h0M731.9 326.8h0M1107.5 312.8h0M741.9 340.9h0M736.4 387.0h0M742.5 283.0h0M760.2 295.6h0M767.4 300.7h0M755.0 289.1h0M739.7 284.4h0M736.4 256.0h0M754.0 287.4h0M731.7 191.0h0M752.3 361.2h0M756.9 328.9h0M735.3 254.5h0M751.7 427.6h0M739.9 391.6h0M752.8 287.4h0M735.4 309.8h0M738.5 205.4h0M753.1 325.9h0M843.1 307.5h0M752.3 310.5h0M739.4 429.5h0M732.6 383.0h0M733.5 313.1h0M736.0 274.5h0M951.0 308.2h0M821.5 377.1h0M734.7 242.2h0M737.5 394.2h0M750.0 311.9h0M753.1 326.9h0M740.6 335.0h0M748.4 349.1h0M732.9 356.8h0M767.1 343.3h0M736.4 315.2h0M748.4 227.5h0M732.4 419.4h0M737.8 339.5h0M755.3 311.7h0M746.2 361.3h0M770.8 299.9h0M731.9 316.0h0M732.4 427.6h0M737.8 266.0h0M740.6 343.6h0M734.0 397.0h0M756.2 295.2h0M763.0 354.9h0M734.4 350.5h0M755.8 255.5h0M736.0 248.6h0M739.0 322.8h0M752.0 364.3h0M779.9 319.6h0M731.7 320.9h0M734.8 274.1h0M738.5 277.2h0M773.6 322.8h0M743.2 240.5h0M747.9 281.3h0M757.0 272.1h0M738.5 450.3h0M785.3 288.0h0M732.1 305.4h0M1160.2 321.1h0M737.2 386.2h0M736.4 257.5h0M733.9 400.4h0M733.0 395.5h0M733.9 294.6h0M741.5 297.7h0M732.5 439.2h0M755.5 294.9h0M733.4 311.0h0M731.7 335.9h0M774.4 290.4h0M750.5 300.8h0M749.2 275.5h0M732.8 317.4h0M733.1 259.0h0M754.4 427.4h0M741.7 351.7h0M734.0 349.4h0M754.4 359.8h0M738.2 276.5h0M737.7 364.2h0M732.9 260.3h0M751.9 302.9h0M770.6 297.8h0M923.1 326.2h0M861.0 308.2h0M1131.5 315.4h0M732.3 330.2h0M744.8 346.6h0M768.6 327.0h0M743.6 263.2h0M744.4 307.5h0M752.4 272.5h0M828.3 326.1h0M738.8 373.8h0M747.2 293.0h0M743.8 355.7h0M741.0 190.8h0M747.4 355.3h0M754.9 379.5h0M743.7 364.0h0M1166.9 320.1h0M757.9 287.9h0M736.2 384.8h0M745.4 336.5h0M794.7 349.9h0M746.3 388.5h0M804.3 276.5h0M861.2 302.9h0M734.2 356.7h0M757.7 338.9h0M737.3 319.4h0M731.5 318.8h0M732.7 438.9h0M752.3 354.2h0M1144.2 315.6h0M732.3 387.5h0M732.9 220.2h0M733.8 289.5h0M734.2 180.7h0M746.7 318.9h0M737.2 361.7h0M776.0 301.2h0M757.7 340.7h0M732.5 335.5h0M739.6 381.1h0M732.8 281.6h0M753.8 296.4h0M732.6 227.4h0M981.8 307.4h0M795.7 314.6h0M760.2 316.3h0M743.5 240.0h0M732.6 349.2h0M1150.1 321.1h0M745.6 380.4h0M777.3 287.3h0M906.9 310.1h0M733.4 181.1h0M731.8 275.3h0M792.5 336.1h0M733.2 240.3h0M735.0 334.1h0M749.5 352.0h0M773.9 318.5h0M777.9 308.1h0M753.4 263.1h0M738.6 315.1h0M744.0 343.3h0M751.6 335.5h0M760.2 286.2h0M731.6 406.2h0M743.2 450.3h0M733.2 225.7h0M760.1 337.8h0M754.8 288.1h0M745.5 331.3h0M733.9 339.7h0M980.3 329.9h0M735.8 354.0h0M746.7 304.8h0M769.6 307.5h0M743.1 409.8h0M737.8 360.7h0M763.6 343.5h0M732.7 181.0h0M733.6 449.4h0M742.9 370.8h0M732.7 303.7h0M1058.8 296.8h0M733.0 421.3h0M756.5 370.4h0M733.2 313.5h0M782.4 320.4h0M743.6 314.3h0M768.2 367.4h0M731.4 282.3h0M888.5 310.2h0M778.2 385.5h0M845.0 323.2h0M735.8 341.4h0M858.1 305.8h0M736.0 217.3h0M740.9 321.4h0M955.8 299.1h0M739.7 243.5h0M743.4 310.5h0M755.5 321.0h0M767.7 299.6h0M735.7 309.3h0M738.1 311.8h0M741.3 233.6h0M745.6 266.2h0M771.5 342.4h0M1142.1 315.7h0M760.4 296.3h0M1013.1 335.7h0M810.0 283.7h0M733.0 419.3h0M737.0 343.5h0M763.6 309.7h0M797.0 307.0h0M754.3 255.6h0M759.4 268.0h0M735.7 372.0h0M835.4 329.4h0M732.7 363.2h0M733.3 305.3h0M748.6 295.5h0M736.2 439.1h0M740.1 383.3h0M734.5 363.0h0M769.9 379.3h0M835.3 340.1h0M732.5 311.6h0M769.2 340.4h0M732.6 235.8h0M806.0 300.1h0M732.9 360.1h0M745.9 427.4h0M741.4 297.3h0M740.9 241.5h0M736.3 361.9h0M740.5 361.9h0M735.2 340.0h0M735.6 298.5h0M742.3 323.0h0M754.6 341.3h0M914.3 327.7h0M752.7 372.5h0M731.5 352.4h0M784.1 315.1h0M745.9 301.3h0M772.4 372.1h0M736.3 342.7h0M734.6 242.8h0M731.9 422.2h0M731.5 276.4h0M754.3 310.3h0M750.5 278.0h0M734.1 212.4h0M1201.2 315.3h0M741.0 291.7h0M744.3 315.6h0M765.5 275.5h0M744.9 286.8h0M737.1 290.4h0M743.4 280.7h0M749.9 334.4h0M740.0 229.1h0M733.9 314.7h0M763.7 303.9h0M735.8 393.8h0M740.2 304.1h0M734.6 344.8h0M734.4 385.4h0M737.7 449.4h0M734.6 364.4h0M734.7 316.1h0M775.2 313.5h0M735.7 329.3h0M740.6 427.2h0M764.2 344.2h0M732.6 379.2h0M751.4 296.9h0M741.3 292.3h0M738.4 411.1h0M736.5 291.2h0M746.7 316.3h0M903.1 306.2h0M734.7 263.0h0M745.3 272.3h0M731.5 271.0h0M830.6 332.8h0M758.3 356.5h0M740.3 354.9h0M772.7 326.3h0M746.2 290.1h0M734.7 379.9h0M767.9 315.1h0M742.6 272.0h0M793.1 334.9h0M749.9 277.3h0M742.7 263.8h0M738.8 358.0h0M734.7 329.8h0M756.2 341.0h0M765.5 347.1h0M739.5 324.3h0M739.0 191.6h0M739.9 320.9h0M735.7 401.7h0M744.1 389.2h0M1175.1 314.3h0M758.1 364.6h0M773.8 335.2h0M733.6 256.2h0M917.7 305.9h0M756.5 371.0h0M772.2 310.4h0M748.6 259.4h0M840.0 302.8h0M751.8 439.6h0M766.0 351.8h0M748.7 352.9h0M776.0 292.2h0M732.5 417.8h0M732.0 333.3h0M767.0 326.7h0M738.6 283.1h0M736.1 312.9h0M771.0 333.4h0M741.0 301.4h0M805.1 336.5h0M733.7 226.1h0M743.5 270.7h0M756.4 349.2h0M742.7 279.3h0M750.1 321.3h0M748.9 330.5h0M738.9 320.0h0M744.3 274.7h0M747.2 340.0h0M732.8 400.4h0M755.5 297.0h0M752.1 327.7h0M752.0 309.5h0M736.4 317.5h0M732.5 278.4h0M748.6 307.3h0M742.5 355.5h0M738.3 279.9h0M738.1 327.4h0M741.3 311.2h0M755.4 329.8h0M757.6 278.7h0M734.6 338.8h0M743.4 272.9h0M765.4 340.6h0M734.6 397.4h0M744.6 382.0h0M731.4 427.0h0M748.8 302.0h0M741.1 348.9h0M732.8 439.2h0M755.7 267.6h0M742.5 375.4h0M738.9 364.6h0M735.1 231.7h0M793.6 297.4h0M747.3 338.6h0M750.1 205.1h0M1009.7 326.7h0M811.0 325.5h0M741.8 336.9h0M772.5 279.3h0M750.2 296.7h0M747.3 224.7h0M735.6 204.8h0M761.7 355.7h0M738.1 181.7h0M731.8 261.7h0M746.3 299.5h0M735.0 390.7h0M737.3 426.8h0M735.0 388.6h0M740.4 279.7h0M744.1 245.5h0M746.0 329.2h0M733.1 323.5h0M753.2 297.7h0M731.7 275.9h0M748.7 292.7h0M745.4 373.4h0M737.9 323.0h0M750.5 315.7h0M732.0 410.6h0M735.6 346.7h0M760.0 363.1h0M756.9 301.9h0M751.2 356.6h0M752.5 305.1h0M732.7 405.5h0M749.0 269.6h0M736.2 390.3h0M753.4 376.2h0M750.2 398.5h0M743.3 377.4h0M770.7 320.4h0M736.7 337.3h0M783.1 305.7h0M736.4 191.3h0M737.0 374.6h0M748.5 265.5h0M742.2 248.2h0M929.1 310.7h0M746.3 343.6h0M745.3 287.5h0M758.2 282.8h0M738.6 263.7h0M779.0 313.0h0M744.1 346.8h0M734.4 296.3h0M756.6 324.2h0M733.0 211.1h0M1133.0 316.6h0M755.6 328.2h0M736.6 427.1h0M747.3 368.6h0M733.3 336.4h0M756.1 340.0h0M769.6 286.8h0M738.9 304.6h0M739.2 321.0h0M737.5 237.9h0M740.5 427.2h0M733.6 317.5h0M734.4 205.2h0M743.5 332.2h0M785.9 332.6h0M741.6 250.2h0M744.9 353.4h0M740.5 181.3h0M1118.3 317.7h0M737.8 317.0h0M975.6 309.4h0M760.1 336.6h0M755.1 382.4h0M770.0 285.2h0M731.7 380.0h0M1227.2 316.3h0M793.4 310.9h0M731.9 439.1h0M738.0 360.6h0M732.8 275.0h0M764.1 257.8h0M766.3 376.4h0M800.9 287.1h0M794.4 346.5h0M747.6 325.2h0M742.6 277.7h0M742.2 322.8h0M737.4 264.7h0M1113.9 314.4h0M760.9 311.5h0M742.9 386.3h0M740.1 291.1h0M742.6 284.6h0M766.5 247.6h0M736.9 293.4h0M736.9 310.1h0M736.8 180.9h0M738.7 387.9h0M745.7 308.5h0M755.0 289.8h0M755.4 354.6h0M739.2 327.8h0M747.1 407.9h0M732.5 305.6h0M746.9 319.7h0M738.1 407.2h0M736.0 340.8h0M755.2 321.5h0M774.5 339.4h0M736.3 409.9h0M784.8 300.5h0M739.2 427.0h0M735.5 301.6h0M737.3 367.3h0M970.0 300.1h0M752.4 338.3h0M740.1 218.6h0M794.3 300.3h0M735.1 335.6h0M770.5 371.5h0M753.3 291.0h0M818.4 335.3h0M749.0 295.4h0M738.7 376.8h0M739.1 349.7h0M739.1 356.3h0M735.2 210.7h0M733.3 271.7h0M794.7 323.2h0M738.9 254.5h0M735.9 416.3h0M752.3 316.8h0M761.7 335.2h0M739.5 275.5h0M737.1 249.6h0M747.1 339.7h0M746.0 366.7h0M734.9 211.7h0M733.6 379.6h0M769.4 311.2h0M731.7 223.3h0M1172.9 316.9h0M809.6 293.1h0M731.9 399.0h0M799.9 317.3h0M839.7 330.4h0M962.0 327.8h0M739.0 331.3h0M732.2 449.8h0M742.0 346.3h0M734.5 278.8h0M733.7 295.0h0M744.9 330.2h0M735.6 335.5h0M749.9 253.5h0M756.4 298.4h0M737.4 320.3h0M777.5 339.9h0M735.7 260.2h0M738.6 323.7h0M961.9 310.3h0M732.6 385.9h0M756.8 328.3h0M736.1 341.0h0M965.9 305.2h0M733.5 373.6h0M1051.1 329.5h0M1018.4 306.3h0M764.1 270.8h0M734.2 354.0h0M740.7 302.9h0M821.1 339.7h0M742.0 328.4h0M737.0 244.6h0M742.3 358.1h0M886.6 309.7h0M753.0 223.8h0M764.6 311.6h0M739.5 321.5h0M735.9 289.2h0M849.6 339.4h0M734.1 317.3h0M731.9 238.0h0M1201.6 314.6h0M742.9 254.9h0M745.4 299.0h0M755.8 313.0h0M759.7 319.4h0M751.0 379.2h0M744.2 405.7h0M739.4 440.0h0M748.6 324.2h0M738.9 338.6h0M734.5 219.1h0M757.9 361.8h0M736.3 330.9h0M751.1 266.9h0M758.6 366.9h0M737.5 273.6h0M735.0 247.8h0M743.0 449.9h0M735.5 306.3h0M749.9 319.7h0M746.6 280.6h0M745.0 310.9h0M749.5 331.2h0M1166.8 315.7h0M735.2 276.2h0M737.9 383.7h0M759.3 427.2h0M732.9 239.9h0M734.7 345.8h0M1180.4 314.2h0M743.1 223.6h0M740.0 316.3h0M745.8 339.1h0M733.6 310.6h0M1112.3 315.0h0M732.6 405.3h0M791.7 337.4h0M750.9 281.6h0M759.0 317.3h0M738.4 360.6h0M735.7 191.4h0M772.1 282.9h0M733.6 276.8h0M740.1 327.7h0M738.2 313.5h0M747.4 340.8h0M809.7 328.7h0M1040.1 304.8h0M734.2 289.5h0M861.6 327.3h0M747.8 354.6h0M734.7 204.4h0M738.5 288.3h0M732.4 308.1h0M1121.4 317.2h0M733.5 341.4h0M773.1 331.2h0M847.6 302.2h0M756.3 343.9h0M733.1 295.2h0M735.6 319.5h0M751.1 307.5h0M1118.3 315.7h0M732.5 367.4h0M738.2 309.3h0M732.1 206.8h0M754.7 350.0h0M736.1 228.1h0M760.9 324.9h0M741.2 319.6h0M731.6 253.5h0M754.2 314.7h0M956.5 323.8h0M739.0 241.7h0M793.3 296.5h0M752.1 312.6h0M777.5 328.9h0M751.5 319.7h0M757.7 349.1h0M736.8 208.5h0M739.5 449.9h0M737.6 314.2h0M765.9 333.0h0M764.8 277.4h0M1105.4 318.1h0M736.1 404.2h0M748.1 289.2h0M743.2 292.9h0M737.7 299.6h0M732.8 393.1h0M745.0 397.7h0M871.5 326.6h0M747.7 338.3h0M758.8 313.5h0M1122.2 314.6h0M736.8 450.5h0M761.8 306.5h0M760.3 262.2h0M855.5 305.4h0M732.0 381.8h0M745.0 396.9h0M739.5 339.4h0M732.6 344.8h0M768.2 348.3h0M750.2 272.7h0M732.5 424.5h0M747.5 296.9h0M760.9 297.0h0M740.0 321.2h0M740.7 346.5h0M733.7 361.6h0M738.5 361.2h0M738.1 235.3h0M773.4 314.4h0M751.7 293.4h0M741.6 279.0h0M1104.1 316.4h0M731.7 427.0h0M736.3 269.1h0M741.6 300.5h0M785.6 317.0h0M753.4 331.2h0M739.8 315.5h0M736.5 400.1h0M783.6 318.1h0M732.8 247.0h0M749.7 312.2h0M735.2 308.3h0M760.1 322.4h0M739.0 295.7h0M921.2 329.7h0M740.7 295.1h0M743.9 303.2h0M746.8 369.2h0M749.8 319.1h0M1031.0 309.8h0M733.7 300.3h0M738.9 278.9h0M732.0 266.4h0M741.2 285.5h0M749.9 335.6h0M736.1 362.0h0M752.6 267.7h0M760.2 237.2h0M734.2 292.8h0M784.8 334.9h0M765.4 296.9h0M741.3 369.0h0M751.4 266.2h0M832.4 298.3h0M805.2 297.6h0M1121.5 314.8h0M763.8 287.8h0M741.6 216.5h0M797.0 342.8h0M760.0 304.4h0M753.9 327.0h0M755.2 349.7h0M741.1 261.8h0M735.4 268.7h0M737.3 374.6h0M754.5 318.4h0M734.6 309.4h0M738.1 427.1h0M737.6 353.1h0M756.3 347.2h0M818.9 292.1h0M945.8 329.2h0M734.0 310.7h0M768.6 309.6h0M756.3 258.6h0M735.7 227.6h0M764.7 342.9h0M733.1 310.2h0M745.3 408.1h0M734.9 347.9h0M735.2 250.7h0M736.2 191.6h0M762.9 266.9h0M742.2 438.9h0M764.4 319.0h0M732.7 353.5h0M758.6 339.5h0M746.3 379.2h0M775.2 295.2h0M755.8 336.6h0M733.5 191.4h0M733.2 309.1h0M828.9 290.3h0M754.9 336.2h0M1170.3 314.9h0M766.9 314.6h0M741.1 378.8h0M763.1 283.4h0M748.2 316.5h0M742.8 347.5h0M751.4 191.3h0M740.7 252.8h0M741.1 396.3h0M785.6 309.5h0M767.4 290.2h0M733.5 426.6h0M758.2 427.2h0M734.1 286.5h0M906.5 306.7h0M851.9 308.5h0M765.9 283.6h0M746.2 332.0h0M744.3 265.6h0M736.6 248.1h0M734.1 407.9h0M738.4 390.3h0M863.9 305.7h0M787.1 334.9h0M736.8 427.1h0M1195.7 313.5h0M738.0 375.3h0M754.5 345.4h0M759.9 191.1h0M772.4 277.4h0M760.2 313.7h0M746.9 318.7h0M870.4 308.3h0M916.8 328.5h0M747.3 312.8h0M736.7 319.1h0M828.0 329.9h0M745.1 237.1h0M751.3 309.6h0M739.7 309.9h0M835.9 305.9h0M754.7 341.9h0M733.6 333.2h0M743.5 268.1h0M733.5 384.1h0M749.6 277.6h0M762.8 284.2h0M1166.7 316.2h0M743.1 262.2h0M732.9 345.6h0M1123.2 315.9h0M750.1 181.0h0M731.5 440.4h0M734.7 324.4h0M745.0 324.0h0M1056.4 306.3h0M755.3 372.5h0M741.6 380.4h0M745.6 236.3h0M731.5 364.0h0M742.1 215.9h0M742.2 238.5h0M757.9 327.1h0M760.6 276.4h0M771.9 338.2h0M734.5 427.3h0M735.2 358.9h0M738.5 247.8h0M733.2 379.8h0M808.6 304.8h0M750.8 362.8h0M742.2 295.5h0M733.4 354.7h0M884.9 301.2h0M747.4 348.6h0M735.1 191.2h0M734.1 284.1h0M1049.1 310.7h0M748.9 271.2h0M731.5 344.1h0M1045.0 308.7h0M741.4 285.3h0M742.3 270.7h0M748.0 354.7h0M750.1 344.0h0M871.5 299.6h0M739.6 230.6h0M737.5 348.3h0M735.3 313.6h0M732.7 251.3h0M734.4 414.1h0M751.3 266.6h0M736.5 202.2h0M757.6 272.5h0M743.8 254.4h0M754.4 312.2h0M749.2 307.3h0M1106.0 315.9h0M735.7 232.7h0M754.4 325.2h0M731.9 247.4h0M1103.7 314.4h0M745.0 310.6h0M756.8 449.7h0M755.1 250.3h0M745.2 181.5h0M735.6 300.0h0M735.3 297.4h0M746.8 230.2h0M744.3 308.4h0M743.5 403.0h0M732.4 338.2h0M769.7 318.6h0M733.3 449.9h0M745.9 371.8h0M787.6 318.7h0M742.3 282.8h0M735.7 324.2h0M757.2 351.1h0M821.9 306.2h0M827.8 323.0h0M753.9 313.4h0M752.4 342.9h0M733.2 379.3h0M1141.3 314.1h0M734.3 318.0h0M763.8 317.4h0M754.0 412.9h0M760.9 340.9h0M763.7 334.6h0M818.7 333.3h0M735.6 398.6h0M762.7 320.0h0M742.5 278.8h0M987.1 324.1h0M1005.1 309.1h0M738.4 283.2h0M746.6 347.1h0M751.6 393.0h0M737.9 450.1h0M742.8 259.5h0M1107.3 317.9h0M761.5 323.6h0M771.1 313.1h0M760.3 332.6h0M762.5 344.3h0M749.6 390.5h0M1060.8 308.0h0M739.6 215.6h0M733.2 344.6h0M743.0 357.3h0M744.8 274.3h0M744.9 275.3h0M733.2 430.1h0M789.2 300.6h0M741.3 231.5h0M742.5 381.6h0M1012.9 309.9h0M733.2 266.7h0M760.3 291.5h0M773.2 354.6h0M736.6 316.2h0M749.1 295.4h0M899.0 321.1h0M743.4 294.0h0M739.2 204.7h0M732.0 332.8h0M741.7 292.8h0M747.8 362.8h0M937.3 305.8h0M746.3 361.9h0M744.2 313.2h0M739.2 231.2h0M736.9 392.2h0M747.3 212.1h0M747.8 325.6h0M733.7 387.3h0M747.0 302.4h0M738.3 353.6h0M743.7 271.9h0M734.5 239.3h0M735.4 339.3h0M748.5 300.3h0M749.6 373.5h0M743.6 396.0h0M761.5 313.2h0M749.2 276.8h0M739.3 328.9h0M741.5 276.5h0M735.9 378.5h0M778.3 333.4h0M759.6 331.4h0M735.4 180.8h0M736.4 337.4h0M894.1 330.4h0M735.4 204.4h0"/>
<path fill="#c0c0c0" stroke="none" d="M728.4 286.1L731.4 286.1L734.0 288.6L736.6 290.8L739.2 292.9L741.8 294.7L744.4 296.3L747.0 297.8L749.6 299.2L752.2 300.4L754.8 301.5L757.4 302.5L760.0 303.4L762.6 304.2L765.2 305.0L767.8 305.6L770.4 306.2L773.0 306.8L775.6 307.3L778.2 307.7L780.8 308.1L783.4 308.5L786.0 308.8L788.6 309.1L791.2 309.4L793.8 309.6L796.4 309.9L798.9 310.1L801.5 310.2L804.1 310.4L806.7 310.6L809.3 310.7L811.9 310.8L814.5 310.9L817.1 311.0L819.7 311.1L822.3 311.2L824.9 311.3L827.5 311.4L830.1 311.4L832.7 311.5L836.1 311.6L846.0 311.7L855.9 311.8L865.8 311.9L875.7 312.0L885.6 312.0L895.5 312.1L905.4 312.1L915.2 312.2L925.1 312.2L935.0 312.2L944.9 312.2L954.8 312.2L964.7 312.3L974.6 312.3L984.5 312.3L994.4 312.3L1004.3 312.3L1014.2 312.3L1024.1 312.3L1034.0 312.4L1043.9 312.4L1053.8 312.4L1063.7 312.4L1073.6 312.4L1083.5 312.4L1093.4 312.4L1103.3 312.4L1113.2 312.4L1123.0 312.4L1123.0 319.8L1113.2 319.8L1103.3 319.8L1093.4 319.8L1083.5 319.8L1073.6 319.8L1063.7 319.8L1053.8 319.8L1043.9 319.8L1034.0 319.9L1024.1 319.9L1014.2 319.9L1004.3 319.9L994.4 319.9L984.5 319.9L974.6 320.0L964.7 320.0L954.8 320.0L944.9 320.0L935.0 320.0L925.1 320.1L915.2 320.1L905.4 320.1L895.5 320.2L885.6 320.2L875.7 320.2L865.8 320.3L855.9 320.3L846.0 320.4L836.1 320.5L832.7 320.5L830.1 320.5L827.5 320.6L824.9 320.6L822.3 320.6L819.7 320.7L817.1 320.7L814.5 320.8L811.9 320.9L809.3 320.9L806.7 321.0L804.1 321.1L801.5 321.2L798.9 321.3L796.4 321.4L793.8 321.6L791.2 321.7L788.6 321.9L786.0 322.1L783.4 322.4L780.8 322.7L778.2 323.0L775.6 323.3L773.0 323.8L770.4 324.2L767.8 324.8L765.2 325.4L762.6 326.1L760.0 326.9L757.4 327.9L754.8 328.9L752.2 330.2L749.6 331.6L747.0 333.2L744.4 335.1L741.8 337.2L739.2 339.7L736.6 342.5L734.0 345.8L731.4 349.6L728.4 349.6Z"/>
<path stroke="#c0c0c0" d="M795.2 316.5h0M741.8 325.5h0M1095.7 314.8h0M733.0 306.2h0M941.9 314.1h0M946.5 318.1h0M938.5 316.7h0M923.6 314.9h0M837.3 318.0h0M774.9 319.3h0M1060.3 316.9h0M840.4 318.8h0M752.5 310.4h0M818.0 313.9h0M818.0 318.2h0M740.6 332.2h0M884.8 315.3h0M1098.6 314.2h0M949.2 313.8h0M930.3 315.8h0M740.1 314.1h0M959.1 313.7h0M1040.6 318.1h0M915.4 316.7h0M840.6 314.9h0M923.4 314.3h0M752.7 310.0h0M742.0 316.2h0M739.1 317.3h0M736.4 296.5h0M1043.9 315.0h0M1049.4 317.4h0M810.0 312.7h0M778.6 311.5h0M769.5 313.3h0M747.4 305.7h0M909.6 315.0h0M782.6 317.2h0M736.3 306.6h0M769.5 317.0h0M967.5 318.4h0M762.1 317.4h0M982.2 315.9h0M764.4 310.4h0M850.9 315.9h0M826.3 318.4h0M772.9 317.0h0M1045.3 314.8h0M1059.0 316.8h0M867.6 315.1h0M742.2 323.1h0M805.0 318.2h0M731.6 293.4h0M857.2 318.3h0M778.8 312.1h0M1092.2 315.4h0M775.4 321.2h0M733.3 344.5h0M993.5 317.3h0M1076.5 315.3h0M842.7 314.4h0M935.2 316.8h0M1094.9 314.4h0M882.9 318.2h0M755.0 308.4h0M892.6 315.1h0M1059.2 316.8h0M736.5 292.9h0M860.3 316.9h0M942.0 317.3h0M737.0 309.8h0M872.6 315.9h0M740.2 330.0h0M736.6 324.0h0M1035.6 314.7h0M1029.0 316.8h0M734.5 302.8h0M822.5 315.4h0M732.6 302.1h0M815.2 317.7h0M752.3 305.2h0M777.3 320.2h0M812.9 315.3h0M1041.5 314.0h0M790.3 319.0h0M1044.9 317.9h0M785.3 318.6h0M768.4 322.7h0M895.0 315.2h0M731.9 316.3h0M741.8 325.3h0M738.2 306.8h0M899.6 316.1h0M893.5 317.2h0M749.5 324.0h0M788.7 317.4h0M801.7 312.9h0M754.7 303.0h0M804.5 316.8h0M989.3 315.6h0M754.4 308.9h0M872.8 317.4h0M1111.3 315.3h0M1026.4 316.3h0M773.8 309.6h0M830.9 318.1h0M740.6 333.1h0M1029.8 318.2h0M812.3 316.3h0M1136.8 316.4h0M1088.8 317.5h0M760.2 308.9h0M1012.7 314.9h0M895.8 315.2h0M776.2 313.3h0M756.6 310.7h0M731.4 300.9h0M731.8 319.6h0M919.1 317.4h0M810.1 318.4h0M786.1 317.3h0M752.2 314.2h0M1036.7 314.0h0M754.9 306.5h0M858.7 315.9h0M750.5 327.6h0M776.3 319.9h0M983.1 317.4h0M1055.1 317.8h0M751.3 318.6h0M747.8 309.6h0M921.4 318.5h0M1031.8 317.4h0M740.9 299.2h0M941.7 316.2h0M734.4 315.8h0M742.8 312.8h0M1123.2 315.4h0M736.0 330.5h0M800.7 314.3h0M770.9 321.3h0M881.5 314.6h0M852.8 314.5h0M902.0 317.0h0M871.8 314.7h0M753.5 324.6h0M804.0 312.9h0M743.1 316.5h0M740.4 317.4h0M737.2 331.6h0M1126.6 314.8h0M974.3 316.2h0M746.7 322.8h0M828.4 317.8h0M731.4 312.8h0M921.5 318.4h0M765.8 317.4h0M1053.4 318.1h0M917.3 314.2h0M1083.8 316.6h0M1067.4 318.0h0M857.0 316.0h0M740.1 327.6h0M813.4 315.2h0M740.8 303.3h0M737.4 313.2h0M959.3 314.5h0M1127.6 315.6h0M1133.2 314.8h0M1041.2 316.6h0M920.3 315.2h0M1056.5 316.9h0M1018.2 315.0h0M1019.6 314.4h0M951.9 317.1h0M869.2 316.2h0M795.4 316.2h0M748.3 326.6h0M900.9 316.9h0M819.2 316.9h0M1129.1 314.5h0M1073.7 315.2h0M1128.1 317.7h0M744.3 328.4h0M1003.3 317.2h0M735.9 311.7h0M738.7 328.3h0M744.8 328.1h0M935.6 315.4h0M945.2 316.8h0M811.1 316.0h0M763.5 309.5h0M742.1 298.6h0M737.6 307.4h0M790.9 313.6h0M745.0 311.8h0M753.2 314.2h0M750.8 326.2h0M985.3 315.9h0M734.3 332.8h0M739.6 329.3h0M748.5 321.3h0M831.0 316.0h0M750.9 304.2h0M1029.2 317.8h0M787.9 316.7h0M962.8 317.6h0M767.9 310.4h0M741.4 326.5h0M758.9 315.9h0M742.7 320.0h0M963.1 315.7h0M1133.8 317.9h0M737.0 309.5h0M773.9 312.4h0M763.0 319.4h0M740.0 296.0h0M756.4 310.8h0M1047.5 317.6h0M1064.6 316.9h0M821.0 318.4h0M842.3 316.7h0M1125.0 318.2h0M905.1 315.1h0M792.5 311.2h0M944.5 314.0h0M806.0 318.2h0M858.4 316.2h0M1124.1 315.6h0M763.4 315.1h0M875.6 315.8h0M1087.2 318.0h0M927.4 316.1h0M1123.5 315.7h0M800.9 315.4h0M744.1 298.4h0M753.3 313.4h0M919.6 316.0h0M823.2 315.2h0M1106.0 318.0h0M768.5 313.9h0M844.9 315.5h0M804.8 313.5h0M737.7 320.8h0M936.5 314.9h0M979.7 316.5h0M944.2 318.0h0M895.1 316.9h0M982.1 313.9h0M841.5 315.9h0M857.7 315.3h0M743.0 333.5h0M732.1 296.6h0M925.3 315.8h0M769.0 317.9h0M737.0 299.7h0M779.2 313.0h0M912.8 318.6h0M1071.2 316.7h0M976.4 315.7h0M1012.9 317.5h0M766.0 311.6h0M751.2 326.1h0M732.0 304.6h0M1115.0 314.7h0M1129.6 316.3h0M781.7 319.6h0M779.2 314.6h0M928.7 315.3h0M1045.7 316.2h0M732.4 301.8h0M860.5 313.4h0M1044.7 316.1h0M813.0 313.8h0M1057.5 313.9h0M853.6 313.6h0M801.4 319.0h0M889.9 315.2h0M1044.7 315.8h0M841.8 317.7h0M797.4 313.9h0M748.9 321.8h0M938.2 318.4h0M797.1 313.3h0M770.7 312.6h0M753.7 325.9h0M753.1 320.9h0M779.6 317.8h0M966.0 316.6h0M1006.4 318.3h0M745.0 326.8h0M997.4 313.9h0M927.5 315.0h0M769.3 310.3h0M768.8 308.3h0M1109.8 316.4h0M853.7 316.7h0M1055.8 315.4h0M827.1 318.2h0M734.5 319.0h0M799.2 312.6h0M808.3 316.3h0M818.9 319.0h0M1050.6 317.6h0M822.9 314.4h0M747.8 300.2h0M1059.8 316.9h0M744.6 311.0h0M741.3 296.0h0M770.3 311.7h0M737.5 339.3h0M806.6 318.9h0M768.5 313.0h0M1072.4 316.0h0M909.5 315.7h0M816.0 319.0h0M1049.5 316.5h0M831.8 315.7h0M1061.5 317.1h0M885.7 316.3h0M839.5 316.1h0M965.2 316.5h0M837.0 317.9h0M740.4 297.8h0M771.2 309.1h0M746.7 317.8h0M767.1 317.7h0M1114.8 315.1h0M762.4 311.4h0M748.2 305.1h0M848.0 318.1h0M777.5 317.3h0M1122.4 314.6h0M996.3 316.3h0M1076.8 316.8h0M759.6 311.7h0M753.8 310.1h0M789.3 318.4h0M934.9 317.7h0M746.8 328.2h0M959.3 318.1h0M839.0 318.1h0M846.3 316.0h0M985.7 317.8h0M761.5 323.3h0M979.5 314.0h0M738.4 325.8h0M1096.1 316.9h0M1063.2 318.1h0M1014.8 316.2h0M760.0 313.0h0M848.2 314.7h0M1107.9 314.5h0M923.0 314.6h0M1127.6 318.1h0M740.4 331.7h0M741.1 319.4h0M732.3 307.8h0M899.7 313.7h0M1027.0 314.0h0M757.6 305.6h0M1028.5 314.8h0M799.1 315.3h0M860.2 318.2h0M749.1 304.9h0M733.0 342.3h0M850.2 315.3h0M769.3 311.2h0M1134.2 316.0h0M1010.8 315.9h0M1130.1 314.9h0M756.8 321.3h0M992.6 314.3h0M1128.3 315.1h0M751.2 311.0h0M779.0 309.9h0M885.7 314.9h0M1026.5 314.6h0M734.8 325.1h0M802.4 318.0h0M745.6 331.2h0M800.6 312.8h0M737.4 298.7h0M1080.5 316.1h0M749.3 302.8h0M1116.0 316.9h0M972.7 313.9h0M1113.9 316.3h0M750.5 315.7h0M753.2 326.0h0M831.1 318.5h0M757.7 307.8h0M948.8 317.5h0M735.7 339.3h0M742.9 329.2h0M1093.4 314.1h0M756.7 310.4h0M1054.9 317.1h0M1020.6 316.5h0M981.7 316.7h0M1101.6 314.8h0M863.0 313.6h0M732.7 336.3h0M768.0 321.4h0M792.9 317.6h0M767.5 308.8h0M830.7 317.4h0M1047.6 316.7h0M829.4 314.9h0M1067.0 314.3h0M732.8 334.8h0M732.8 331.5h0M814.1 314.6h0M840.8 313.5h0M755.0 312.4h0M771.1 317.3h0M1084.0 314.6h0M1074.0 314.8h0M743.9 327.0h0M1117.8 316.4h0M869.6 318.3h0M867.7 315.9h0M737.8 315.7h0M740.0 311.9h0M738.0 295.8h0M767.2 317.8h0M803.9 313.4h0M813.8 318.3h0M1139.1 317.9h0M1035.2 314.1h0M737.2 339.4h0M806.5 314.8h0M982.8 313.8h0M923.3 316.6h0M752.0 323.8h0M828.0 318.7h0M764.0 320.7h0M846.2 317.0h0M1085.6 315.5h0M767.0 315.5h0M737.5 339.7h0M763.8 319.8h0M810.1 313.5h0M1081.5 314.9h0M948.3 316.2h0M737.5 331.6h0M1122.3 318.3h0M928.1 317.6h0M856.5 315.9h0M856.0 316.6h0M746.8 328.9h0M886.7 315.5h0M738.2 306.8h0M1113.4 315.9h0M738.2 306.2h0M820.4 317.6h0M752.7 312.7h0M989.3 314.4h0M1009.6 317.9h0M862.8 314.3h0M756.7 326.1h0M1076.8 318.1h0M1036.9 316.0h0M732.8 314.5h0M737.0 321.8h0M892.8 314.7h0M1026.7 316.7h0M915.5 317.2h0M758.7 320.4h0M813.3 319.0h0M975.0 315.8h0M737.1 306.6h0M757.3 313.8h0M788.9 316.3h0M1072.8 315.0h0M755.6 318.8h0M864.1 313.5h0M749.8 318.3h0M751.9 324.9h0M745.5 301.9h0M872.7 314.8h0M1083.0 315.8h0M1109.5 317.7h0M776.1 310.8h0M1095.1 316.9h0M773.9 318.5h0M930.3 314.9h0M757.8 305.8h0M754.2 305.2h0M739.1 324.9h0M781.5 309.9h0M765.3 309.0h0M1121.5 317.3h0M1102.3 314.0h0M781.5 318.5h0M800.8 313.2h0M1017.8 316.2h0M751.3 321.2h0M760.7 317.0h0M745.8 332.5h0M1123.0 314.2h0M745.6 326.5h0M740.8 326.3h0M735.7 307.7h0M1082.9 315.4h0M1107.2 314.4h0M1130.6 315.6h0M842.1 314.3h0M1080.8 316.1h0M743.8 328.9h0M829.8 314.1h0M736.1 330.5h0M749.0 307.6h0M734.9 321.2h0M757.9 323.8h0M745.3 312.6h0M1119.8 316.7h0M997.2 317.0h0M747.0 317.8h0M805.4 313.9h0M762.9 312.2h0M739.8 305.9h0M761.1 315.8h0M797.1 315.7h0M1010.3 315.2h0M963.6 314.4h0M805.7 316.2h0M733.4 291.5h0M1131.7 317.7h0M949.5 315.2h0M1013.9 315.1h0M971.0 316.9h0M844.4 318.9h0M959.8 315.9h0M992.3 316.7h0M946.4 314.7h0M1033.8 315.5h0M1000.1 315.7h0M731.7 338.4h0M890.3 315.2h0M735.4 332.9h0M773.2 313.0h0M1055.6 316.0h0M924.7 318.3h0M750.4 302.8h0M910.0 314.7h0M834.4 316.0h0M877.1 316.6h0M771.9 316.9h0M745.5 329.6h0M740.5 326.9h0M737.1 327.6h0M1136.3 314.0h0M786.7 316.7h0M789.3 317.3h0M910.0 315.1h0M748.4 329.5h0M887.7 315.9h0M765.2 312.5h0M782.6 312.8h0M992.6 317.2h0M894.7 317.0h0M746.2 310.5h0M733.9 309.7h0M1123.0 315.3h0M764.9 313.5h0M1031.1 318.0h0M734.0 316.7h0M924.8 318.3h0M904.2 317.8h0M798.3 312.4h0M1071.4 316.6h0M838.6 317.0h0M1069.7 313.9h0M762.3 312.0h0M745.0 324.3h0M1139.5 316.7h0M966.6 315.4h0M733.7 337.4h0M789.5 310.9h0M1130.3 314.6h0M741.2 325.4h0M782.0 319.9h0M936.1 313.7h0M1026.3 315.2h0M1006.0 314.6h0M959.2 317.7h0M1080.1 314.4h0M747.0 325.6h0M755.0 310.7h0M736.7 298.6h0M771.6 317.8h0M749.9 302.2h0M983.4 316.6h0M783.9 317.7h0M731.4 300.9h0M1117.9 315.7h0M979.8 316.2h0M747.9 326.7h0M731.8 292.1h0M1008.0 314.9h0M736.4 340.6h0M733.3 317.2h0M1088.5 316.6h0M957.5 315.7h0M834.0 317.6h0M736.5 321.2h0M827.4 315.4h0M764.6 307.5h0M841.4 315.7h0M731.5 330.8h0M889.3 313.7h0M915.7 318.1h0M883.5 318.7h0M895.5 316.5h0M883.8 316.2h0M1026.2 314.9h0M1042.4 317.5h0M766.3 315.6h0M1118.6 314.8h0M918.1 317.4h0M731.4 300.2h0M810.3 312.5h0M887.7 314.2h0M999.7 315.7h0M764.7 309.0h0M791.6 316.9h0M742.7 298.8h0M753.4 303.5h0M1013.3 318.2h0M775.3 318.2h0M984.7 317.0h0M1100.0 315.5h0M1142.4 314.1h0M1113.5 313.9h0M733.3 336.1h0M966.6 314.9h0M1094.8 317.5h0M998.9 315.2h0M941.5 315.2h0M798.4 318.1h0M797.7 315.7h0M762.8 311.1h0M967.3 314.6h0M732.8 292.5h0M734.2 320.9h0M833.8 313.0h0M760.6 305.5h0M788.6 315.9h0M906.6 316.0h0M761.8 316.1h0M828.5 318.3h0M837.9 316.5h0M737.0 324.1h0M1124.9 318.1h0M1017.7 318.1h0M739.3 316.8h0M784.6 311.1h0M971.4 315.5h0M909.2 315.9h0M735.6 336.5h0M738.5 296.5h0M849.5 318.3h0M732.3 292.2h0M901.4 314.6h0M1024.3 315.2h0M1067.7 317.1h0M987.2 314.0h0M734.5 315.5h0M752.2 310.3h0M791.1 317.6h0M1104.8 316.0h0M991.7 317.4h0M842.0 317.7h0M746.7 314.1h0M874.9 316.4h0M773.3 318.2h0M783.8 320.7h0M1118.8 316.8h0M773.6 312.5h0M818.1 318.6h0M786.2 316.2h0M750.2 312.6h0M733.2 319.9h0M760.3 324.8h0M751.4 307.7h0M751.9 313.6h0M747.4 302.8h0M928.4 314.2h0M795.3 311.6h0M787.8 320.1h0M733.1 310.7h0M733.0 290.9h0M1128.9 317.0h0M1066.7 314.2h0M1056.8 317.0h0M823.2 316.2h0M1030.2 315.2h0M911.9 314.5h0M743.3 306.4h0M869.4 318.6h0M867.8 315.3h0M761.5 309.6h0M889.3 317.3h0M881.4 317.3h0M744.8 298.8h0M740.1 297.8h0M907.1 315.2h0M982.1 314.8h0M918.9 313.9h0M871.1 318.8h0M908.7 314.0h0M843.2 314.4h0M791.8 316.9h0M740.4 334.7h0M845.9 315.5h0M1139.5 316.0h0M953.7 315.0h0M741.8 305.2h0M906.6 313.8h0M748.6 323.3h0M894.7 318.0h0M1116.5 317.7h0M1099.6 315.2h0M820.6 313.1h0M735.8 310.5h0M773.8 320.7h0M785.7 315.3h0M817.3 314.9h0M774.3 317.8h0M1050.4 316.5h0M898.7 314.6h0M1127.1 317.3h0M825.7 317.6h0M761.5 324.3h0M950.7 318.3h0M849.1 316.1h0M1003.5 318.2h0M744.6 323.4h0M827.7 314.1h0M1124.8 313.9h0M739.0 306.3h0M749.1 329.6h0M756.0 307.0h0M883.3 314.3h0M965.9 316.9h0M856.5 315.3h0M770.5 314.4h0M1097.3 317.4h0M738.7 326.2h0M769.5 318.4h0M765.5 307.2h0M759.9 316.0h0M743.5 301.1h0M1118.8 313.9h0M1115.7 317.6h0M888.9 315.8h0M1071.0 314.9h0M765.0 313.2h0M1056.7 317.4h0M971.3 314.9h0M1002.3 315.1h0M942.2 316.5h0M731.9 342.1h0M964.5 318.1h0M792.9 318.7h0M894.0 317.5h0M755.9 307.6h0M1070.9 314.8h0M1098.5 317.3h0M958.4 314.6h0M1087.1 315.6h0M901.5 315.1h0M798.8 315.2h0M1078.6 315.4h0M1057.6 316.5h0M747.4 317.4h0M865.9 313.9h0M734.9 298.5h0M731.7 319.5h0M740.9 298.0h0M1043.6 315.8h0M747.4 305.2h0M736.0 340.8h0M1083.1 317.3h0M738.2 324.4h0M829.5 315.8h0M802.6 313.4h0M844.7 318.4h0M739.4 320.0h0M824.4 318.4h0M740.4 311.8h0M787.3 320.4h0M949.7 316.0h0M743.3 322.5h0M731.4 326.4h0M911.3 315.1h0M1045.7 316.4h0M744.2 326.8h0M736.3 326.3h0M746.8 321.7h0M739.1 305.2h0M844.3 317.6h0M1139.0 314.0h0M861.9 315.6h0M739.8 299.9h0M753.1 316.7h0M998.7 316.4h0M846.9 315.2h0M834.4 313.5h0M994.7 314.5h0M790.6 317.3h0M744.8 330.0h0M742.2 325.6h0M839.5 319.0h0M1138.0 314.4h0M908.1 313.7h0M995.1 314.3h0M942.9 313.8h0M941.2 316.1h0M734.7 310.5h0M801.1 312.0h0M953.6 316.2h0M733.3 290.5h0M731.6 323.8h0M877.4 316.5h0M746.8 329.7h0M864.2 317.0h0M731.6 341.1h0M733.8 294.3h0M732.4 333.7h0M881.0 315.9h0M892.8 316.6h0M858.1 315.1h0M1071.4 315.6h0M761.6 318.5h0M766.1 323.0h0M1023.8 317.8h0M866.4 318.5h0M775.1 320.2h0M781.9 318.5h0M767.6 319.3h0M838.9 314.3h0M771.9 312.0h0M788.1 317.3h0M906.2 315.8h0M865.2 318.6h0M837.6 314.7h0M732.8 296.4h0M862.0 317.8h0M739.5 270.9h0M731.7 307.5h0M736.4 255.3h0M731.5 412.4h0M732.7 366.7h0M735.6 270.3h0M738.5 268.3h0M735.9 360.2h0M736.3 280.7h0M734.8 405.6h0M731.7 226.2h0M732.6 255.2h0M732.6 240.6h0M741.3 275.5h0M737.8 355.6h0M732.8 419.7h0M738.2 281.3h0M733.6 219.3h0M732.1 412.0h0M733.2 287.2h0M736.1 426.3h0M732.8 397.9h0M731.7 324.0h0M733.2 276.8h0M734.1 297.7h0M739.7 391.2h0M735.4 360.1h0M732.2 219.2h0M732.7 383.7h0M740.6 308.5h0M732.7 398.5h0M734.6 342.1h0M731.7 420.0h0M734.7 405.8h0M733.9 383.5h0M731.6 248.4h0M731.8 411.8h0M733.6 284.5h0M731.7 275.5h0M733.8 418.8h0M731.5 239.9h0M732.1 282.3h0M734.1 375.3h0M732.8 211.9h0M734.7 321.6h0M737.5 398.3h0M732.4 314.7h0M731.4 404.6h0M735.9 302.9h0M731.4 299.9h0M732.1 264.3h0M731.5 307.1h0M733.1 259.2h0M733.2 338.5h0M732.7 426.6h0M732.7 358.7h0M736.3 324.3h0M732.4 427.4h0M734.6 351.8h0M740.0 261.9h0M732.7 233.2h0M732.6 311.6h0M732.6 324.4h0M732.0 240.6h0M732.4 397.9h0M734.7 320.9h0M732.8 255.6h0M732.9 338.0h0M738.6 278.0h0M733.7 331.4h0M732.5 294.2h0M731.8 397.6h0M731.5 240.9h0M733.6 325.1h0M733.1 269.3h0M735.5 344.9h0M732.0 308.9h0M731.5 219.2h0M732.3 227.0h0M734.2 404.3h0M733.6 276.6h0M734.1 302.0h0M741.5 287.4h0M732.0 288.0h0M732.9 247.9h0M732.3 313.3h0M732.7 412.5h0M732.0 368.2h0M731.9 213.0h0M735.5 412.4h0M733.9 344.1h0M739.9 291.0h0M740.5 261.5h0M734.5 260.5h0M734.5 204.9h0M735.3 232.9h0M731.8 343.0h0M731.7 398.2h0M737.6 354.0h0M731.8 412.3h0M734.2 283.3h0M733.9 264.9h0M733.0 270.7h0M732.1 290.1h0M733.0 347.5h0M737.6 254.7h0M739.7 240.6h0M732.0 334.5h0M735.0 419.7h0M731.9 326.6h0M731.5 298.7h0M732.2 212.9h0M735.8 266.5h0M733.8 397.9h0M731.5 336.9h0M740.5 377.3h0M731.7 405.2h0M735.5 226.5h0M731.7 266.0h0M731.5 262.3h0M733.7 412.8h0M734.8 292.9h0M735.3 326.0h0M743.1 341.9h0M732.3 295.4h0M735.0 405.1h0M735.5 306.6h0M732.5 254.8h0M732.5 316.3h0M733.7 330.7h0M731.9 300.8h0M733.8 254.9h0M733.1 405.4h0M735.0 326.4h0M733.3 337.5h0M731.6 383.8h0M732.4 349.5h0M736.0 276.3h0M733.5 258.3h0M734.6 364.4h0M734.4 404.6h0M733.8 342.1h0M734.3 226.7h0M733.8 310.3h0M731.8 226.6h0M735.2 390.9h0M732.7 240.2h0M736.3 390.9h0M737.5 255.1h0M735.2 419.5h0M735.8 274.6h0M731.6 311.8h0M736.3 281.3h0M733.7 397.9h0M731.5 248.1h0M731.8 316.2h0M732.2 269.7h0M733.3 226.9h0M739.8 342.3h0M732.1 371.7h0M736.4 226.9h0M737.2 341.2h0M732.9 258.5h0M731.5 405.8h0M735.3 315.0h0M731.5 328.7h0M734.8 358.7h0M732.5 259.2h0M742.3 303.0h0M732.7 233.4h0M732.5 262.3h0M735.1 270.3h0M731.8 391.5h0M735.5 419.2h0M733.0 266.7h0M736.5 226.5h0M733.5 406.3h0M733.1 364.1h0M732.6 204.6h0M731.5 368.1h0M733.8 359.3h0M732.0 346.2h0M732.2 226.5h0M731.5 293.0h0M734.4 390.9h0M733.1 337.7h0M731.7 233.3h0M733.3 341.5h0M733.3 319.1h0M732.5 293.9h0M735.7 304.1h0M731.9 278.3h0M734.2 327.8h0M732.3 338.9h0M733.9 292.1h0M731.9 344.3h0M734.2 398.6h0M733.3 306.2h0M737.3 349.2h0M732.9 247.0h0M735.3 305.1h0M732.1 290.2h0M734.2 391.7h0M731.6 293.6h0M732.5 247.6h0M733.8 334.2h0M732.9 350.3h0M734.6 368.0h0M732.1 315.2h0M737.5 353.5h0M733.8 425.9h0M737.7 346.3h0M734.8 226.7h0M734.0 271.8h0M732.2 341.0h0M735.0 233.6h0M736.0 261.5h0M731.4 255.7h0M732.5 226.8h0M731.9 342.6h0M735.0 427.1h0M736.3 315.0h0M733.0 326.7h0M736.2 285.1h0M733.5 264.5h0M731.9 265.3h0M733.7 290.5h0M733.3 262.2h0M731.8 303.4h0M731.6 212.0h0M732.3 294.4h0M731.5 310.0h0M734.6 295.8h0M731.8 419.5h0M734.7 240.7h0M731.8 413.1h0M731.8 371.5h0M733.0 383.9h0M731.4 268.0h0M738.8 218.7h0M731.7 282.6h0M732.3 280.8h0M734.4 310.3h0M735.7 371.4h0M732.7 306.5h0M734.3 404.2h0M741.7 334.4h0M738.0 331.7h0M733.4 255.7h0M733.0 279.4h0M734.4 419.4h0M736.9 365.8h0M732.3 301.2h0M731.9 317.9h0M731.6 404.7h0M732.5 426.8h0M735.5 277.6h0M733.3 327.2h0M733.1 356.3h0M737.4 299.5h0M732.5 322.9h0M735.7 255.9h0M731.8 300.5h0M732.1 384.6h0M733.2 293.8h0M738.4 373.4h0M731.9 261.6h0M732.2 405.4h0M733.2 240.5h0M731.8 240.1h0M734.5 427.3h0M733.2 233.6h0M732.0 369.9h0M740.2 261.3h0M739.9 300.8h0M731.6 205.8h0M736.0 412.1h0M738.2 320.0h0M731.5 269.2h0M733.0 282.7h0M733.0 373.9h0M733.9 377.0h0M736.1 280.0h0M733.7 309.9h0M740.2 398.3h0M737.6 355.3h0M732.1 344.4h0M733.6 418.9h0M732.9 300.0h0M731.9 426.8h0M732.1 284.0h0M731.7 427.1h0M733.1 356.2h0M732.5 397.9h0M734.0 332.6h0M733.5 328.3h0M734.5 362.1h0M736.7 319.6h0M738.6 359.4h0M735.2 332.3h0M733.8 412.2h0M735.2 331.6h0M733.2 327.3h0M734.6 334.7h0M731.8 327.3h0M733.9 305.2h0M733.3 320.0h0M732.5 212.7h0M733.9 211.9h0M732.1 419.0h0M739.0 337.7h0M738.8 284.5h0M732.4 413.2h0M732.9 350.9h0M733.1 404.9h0M731.4 412.7h0M731.6 233.9h0M731.7 376.6h0M732.0 288.2h0M732.9 256.6h0M732.2 275.7h0M734.0 324.4h0M733.9 321.3h0M733.5 292.1h0M733.1 240.3h0M731.6 359.9h0M732.5 220.0h0M736.6 291.1h0M733.3 203.9h0M734.9 219.9h0M733.1 219.5h0M734.3 282.8h0M731.8 390.5h0M736.1 339.6h0M731.7 218.8h0M734.1 371.3h0M732.6 264.8h0M734.1 321.5h0M734.4 371.9h0M732.3 295.5h0M732.1 239.9h0M732.1 375.7h0M738.1 340.5h0M731.8 336.4h0M731.8 289.6h0M733.0 204.7h0M733.4 365.5h0M732.4 405.1h0M736.6 211.9h0M733.8 248.6h0M733.4 226.3h0M739.0 352.4h0M732.1 405.2h0M732.8 311.1h0M737.1 311.7h0M733.3 313.3h0M732.0 384.2h0M733.4 219.3h0M733.2 337.2h0M732.2 274.7h0M732.4 290.7h0M735.4 226.9h0M732.5 279.2h0M741.4 312.2h0M733.3 384.3h0M737.3 342.3h0M736.3 261.4h0M732.8 391.4h0M731.6 302.7h0M731.5 404.9h0M733.8 320.5h0M732.2 298.5h0M732.1 329.9h0M732.1 384.0h0M738.5 226.3h0M732.9 212.5h0M736.3 398.6h0M738.3 367.0h0M733.4 330.6h0M733.8 268.4h0M734.7 328.9h0M735.5 277.1h0M734.0 219.5h0M733.0 344.6h0M737.0 233.5h0M731.9 247.9h0M738.7 337.1h0M737.5 247.9h0M733.2 267.2h0M733.9 327.8h0M731.8 412.3h0M731.5 374.4h0M731.8 297.7h0M734.4 322.7h0M732.0 259.7h0M734.7 226.8h0M736.3 368.4h0M734.8 259.7h0M736.5 391.1h0M732.1 390.9h0M732.6 233.1h0M731.6 336.0h0M733.6 316.5h0M744.4 291.2h0M735.8 233.1h0M733.0 341.6h0M734.4 219.3h0M734.6 314.9h0M735.4 304.5h0M739.3 317.3h0M733.0 339.8h0M734.6 289.6h0M736.4 376.5h0M731.5 412.9h0M735.8 331.7h0M734.6 240.8h0M731.9 274.5h0M731.8 362.0h0M734.3 363.5h0M731.5 364.1h0M737.9 405.2h0M731.5 328.4h0M732.5 288.1h0M736.5 320.9h0M733.8 397.8h0M733.6 331.3h0M731.8 309.1h0M732.6 334.2h0M732.2 349.5h0M732.3 259.3h0M732.4 313.5h0M734.3 205.6h0M734.5 317.6h0M735.1 284.2h0M731.5 240.6h0M731.8 260.0h0M734.9 398.1h0M731.6 349.2h0M732.0 313.7h0M732.4 368.7h0M733.7 325.8h0M731.6 212.5h0M732.2 262.2h0M735.1 340.9h0M736.2 334.3h0M734.1 233.3h0M732.9 376.6h0M733.2 269.3h0M737.0 268.9h0M731.8 349.3h0M731.8 316.1h0M733.0 355.8h0M735.7 219.9h0M733.3 294.2h0M738.4 405.9h0M731.7 338.6h0M733.6 405.2h0M731.9 327.1h0M733.6 261.0h0M731.6 333.5h0M734.6 278.1h0M736.6 366.2h0M732.2 398.2h0M744.8 359.9h0M732.9 248.1h0M732.3 391.6h0M738.4 325.3h0M732.1 271.1h0"/>
<path stroke="#6e6e6e" stroke-width="1.9" stroke-linecap="butt" stroke-dasharray="9.23 3.99" d="M714.5 315.9H1271.8"/>
<path stroke="#8a4c6e" stroke-opacity="0.93" d="M732.9 360.2h0M887.4 321.2h0M789.1 331.1h0M871.0 323.2h0M935.3 324.9h0M987.7 322.0h0M1025.8 322.1h0M837.8 325.5h0M906.5 321.9h0M895.2 320.2h0M949.7 324.3h0M893.7 319.9h0M764.4 332.4h0M762.8 343.9h0M751.7 370.8h0M732.3 414.0h0M766.2 347.9h0M869.8 324.5h0M758.5 332.1h0M751.1 333.6h0M749.1 366.2h0M751.4 364.2h0M917.0 321.4h0M817.3 330.0h0M750.7 349.6h0M890.9 322.4h0M791.1 330.9h0M1012.5 320.7h0M874.1 324.1h0M764.9 340.8h0M937.2 324.7h0M795.5 328.7h0M840.3 323.8h0M960.7 326.3h0M779.5 330.0h0M752.0 333.1h0M841.7 327.6h0M753.2 349.8h0M958.6 322.5h0M940.5 324.2h0M808.5 321.4h0M835.9 323.2h0M756.3 349.7h0M781.9 337.5h0M839.0 327.5h0M843.0 325.5h0M748.2 339.0h0M831.3 323.9h0M828.6 329.1h0M786.9 326.3h0M843.3 324.9h0M970.5 320.9h0M997.2 323.8h0M958.9 327.1h0M881.3 322.7h0M848.2 326.2h0M957.2 319.5h0M748.6 346.2h0M897.8 325.8h0M934.5 322.8h0M922.7 320.4h0M826.5 325.1h0M755.1 340.6h0M842.8 320.6h0M743.6 347.5h0M897.9 327.9h0M733.4 392.4h0M786.3 323.7h0M766.9 325.3h0M802.5 329.9h0M755.9 340.1h0M733.3 363.6h0M832.8 319.9h0M849.5 324.7h0M802.3 320.6h0M827.8 328.3h0M864.8 326.6h0M734.6 354.6h0M996.3 321.7h0M942.9 325.6h0M739.4 345.3h0M755.6 328.5h0M931.3 320.1h0M803.8 322.8h0M799.9 322.4h0M852.8 326.2h0M937.0 321.7h0M771.2 329.9h0M746.6 367.0h0M781.0 331.1h0M887.3 325.7h0M742.1 372.7h0M838.1 325.3h0M896.1 320.9h0M789.6 321.8h0M768.7 350.1h0M808.6 327.3h0M747.9 354.6h0M771.2 345.2h0M793.7 334.3h0M863.5 319.9h0M851.2 323.8h0M759.7 336.0h0M881.3 320.0h0M752.1 356.9h0M924.3 323.1h0M957.0 322.3h0M946.0 325.4h0M888.1 321.0h0M984.5 319.2h0M843.5 321.4h0M988.0 323.7h0M791.6 325.4h0M789.6 324.6h0M762.7 342.1h0M837.8 327.8h0M742.3 372.1h0M736.2 356.9h0M788.6 332.4h0M801.3 322.3h0M758.2 343.4h0M824.9 326.1h0M930.9 322.2h0M813.8 330.7h0M778.6 328.8h0M745.1 343.2h0M822.6 323.7h0M989.6 321.9h0M940.1 319.3h0M762.7 352.1h0M894.3 319.9h0M809.3 327.1h0M845.1 327.3h0M756.5 335.5h0M765.4 342.5h0M753.2 345.4h0M845.2 324.4h0M741.7 364.4h0M993.4 319.6h0M757.5 333.5h0M771.5 326.6h0M824.2 320.5h0M761.6 332.7h0M736.8 351.9h0M817.1 323.2h0M792.5 334.7h0M1004.6 324.4h0M946.0 321.2h0M816.5 329.3h0M909.0 325.3h0M953.3 319.5h0M760.4 334.2h0M817.1 320.2h0M783.2 333.5h0M927.6 322.6h0M790.6 331.7h0M785.6 331.7h0M756.4 360.8h0M840.0 321.7h0M803.8 328.7h0M834.3 326.6h0M809.8 322.7h0M851.0 326.0h0M866.5 325.6h0M809.2 322.4h0M911.6 323.7h0M953.3 320.6h0M732.3 365.7h0M740.8 349.3h0M965.5 319.5h0M873.9 321.9h0M936.3 321.2h0M854.7 323.3h0M960.3 324.8h0M783.6 328.3h0M970.1 325.9h0M734.1 391.6h0M1033.1 324.5h0M779.4 325.7h0M883.3 321.4h0M738.5 358.1h0M951.7 321.7h0M881.5 327.2h0M759.5 335.6h0M884.6 321.2h0M778.9 329.1h0M928.3 320.6h0M884.9 320.6h0M734.4 363.1h0M974.5 325.0h0M816.5 321.8h0M771.5 338.4h0M857.2 323.1h0M793.8 330.1h0M866.4 324.5h0M731.8 389.6h0M1061.3 320.2h0M943.3 322.4h0M737.6 340.8h0M884.9 323.5h0M898.6 323.8h0M752.3 330.8h0M750.2 363.5h0M783.5 327.5h0M857.2 321.4h0M733.4 409.1h0M894.4 321.3h0M835.7 322.0h0M803.7 324.7h0M952.0 327.4h0M896.8 321.4h0M955.7 322.3h0M967.8 319.4h0M902.2 323.6h0M836.8 325.9h0M868.9 325.5h0M854.0 324.1h0M733.5 376.7h0M759.5 338.0h0M744.6 374.9h0M835.4 328.9h0M885.9 321.4h0M785.2 333.8h0M752.6 353.8h0M811.6 330.2h0M891.8 326.0h0M772.1 328.0h0M736.0 390.1h0M748.1 346.9h0M931.6 322.8h0M756.1 347.5h0M969.1 321.0h0M954.0 323.7h0M882.1 320.8h0M738.4 369.4h0M837.5 325.6h0M934.7 325.4h0M762.6 349.3h0M848.0 326.6h0M740.4 382.8h0M774.2 340.5h0M911.8 322.8h0M731.9 365.0h0M932.6 322.4h0M748.2 369.8h0M952.8 319.5h0M754.7 347.2h0M1053.4 322.9h0M782.1 328.9h0M841.6 323.2h0M811.9 326.7h0M965.2 321.4h0M883.9 322.9h0M964.2 322.2h0M751.4 355.7h0M745.6 374.0h0M981.3 322.8h0M882.3 320.6h0M790.8 333.1h0M792.0 322.8h0M968.7 321.9h0M754.8 351.7h0M744.2 345.4h0M751.1 338.2h0M817.2 321.1h0M737.8 368.7h0M748.1 348.0h0M972.1 322.2h0M748.3 336.6h0M840.5 324.9h0M744.6 373.4h0M764.6 335.5h0M968.6 321.1h0M755.7 334.3h0M743.6 374.3h0M913.5 323.6h0M923.4 325.6h0M790.3 336.3h0M885.0 325.3h0M868.1 323.6h0M744.6 369.6h0M741.6 381.9h0M761.4 343.2h0M954.2 321.5h0M936.7 321.3h0M754.5 341.7h0M749.0 356.3h0M854.1 321.3h0M861.5 324.2h0M734.6 395.1h0M961.0 326.4h0M747.0 333.0h0M954.9 323.8h0M892.8 325.7h0M804.1 331.1h0M887.9 324.2h0M872.6 326.2h0M861.0 325.8h0M773.5 330.5h0M762.1 332.3h0M769.8 329.8h0M748.9 335.3h0M816.2 322.8h0M859.6 323.5h0M733.7 391.1h0M799.4 330.3h0M958.6 319.5h0M734.9 398.2h0M903.0 319.6h0M909.0 325.0h0M967.5 320.0h0M971.2 323.3h0M893.5 326.2h0M804.0 320.4h0M776.7 324.2h0M1004.8 319.8h0M740.5 339.5h0M815.4 321.1h0M740.5 371.6h0M954.4 325.2h0M918.8 321.7h0M774.0 340.4h0M933.7 320.4h0M838.4 326.1h0M743.7 344.4h0M834.4 325.0h0M732.3 350.4h0M742.3 369.0h0M821.4 320.8h0M965.6 322.0h0M1027.8 324.6h0M845.4 326.7h0M774.9 324.0h0M914.7 321.5h0M781.1 347.3h0M777.8 336.6h0M915.6 320.0h0M847.1 321.6h0M733.2 371.7h0M847.1 326.2h0M850.7 326.8h0M843.6 325.4h0M792.3 337.7h0M976.6 322.4h0M745.9 347.3h0M908.1 321.5h0M928.3 319.5h0M825.7 321.4h0M827.3 321.2h0M787.4 336.8h0M746.1 338.7h0M926.3 324.4h0M801.4 320.6h0M761.5 348.0h0M981.4 323.3h0M888.9 321.4h0M750.4 358.5h0M745.5 351.0h0M732.3 390.7h0M842.6 326.3h0M791.6 328.0h0M740.5 352.0h0M918.6 323.3h0M797.1 324.4h0M746.5 360.7h0M746.5 348.2h0M1028.9 319.5h0M861.8 320.3h0M874.0 323.5h0M978.6 320.7h0M740.2 357.2h0M765.4 333.7h0M752.0 352.9h0M793.4 333.3h0M929.3 320.4h0M904.1 325.0h0M768.9 324.0h0M874.4 321.5h0M829.7 327.3h0M941.6 323.5h0M744.0 350.6h0M805.1 328.7h0M738.1 363.5h0M1019.3 324.8h0M810.9 325.5h0M936.8 323.0h0M913.0 320.1h0M778.0 328.5h0M792.7 331.4h0M927.5 322.2h0M780.9 323.0h0M731.7 374.2h0M876.0 322.8h0M872.8 325.6h0M921.3 325.3h0M968.3 324.6h0M758.0 333.0h0M923.6 322.2h0M931.6 322.0h0M808.0 323.8h0M748.8 340.3h0M764.3 336.1h0M734.6 361.5h0M921.6 324.0h0M796.8 325.0h0M825.6 328.7h0M1010.9 321.6h0M920.3 325.2h0M748.6 355.6h0M736.8 352.8h0M805.5 323.3h0M771.3 325.5h0M769.5 324.7h0M765.4 326.1h0M943.0 321.8h0M834.1 321.7h0M797.3 331.4h0M788.5 326.8h0M798.9 324.1h0M947.4 325.1h0M932.6 325.0h0M863.0 322.1h0M765.1 345.1h0M732.4 365.8h0M889.0 323.0h0M843.1 326.1h0M743.9 369.9h0M959.7 319.6h0M926.9 321.5h0M923.7 321.6h0M983.3 321.6h0M789.8 322.6h0M916.1 324.9h0M1016.5 328.4h0M740.9 368.0h0M939.9 324.3h0M954.4 319.6h0M828.4 321.0h0M757.3 353.4h0M782.5 338.6h0M950.4 321.8h0M865.7 321.5h0M813.2 323.1h0M952.5 319.3h0M788.5 336.7h0M811.3 321.4h0M982.3 324.0h0M822.0 331.2h0M759.1 350.7h0M739.7 349.9h0M733.7 393.0h0M933.0 323.4h0M848.2 324.2h0M867.4 319.7h0M959.2 321.1h0M748.1 366.0h0M866.0 322.0h0M789.3 322.2h0M748.1 345.6h0M781.3 326.4h0M857.0 325.6h0M828.3 323.4h0M870.7 323.3h0M776.0 337.6h0M757.3 327.6h0M757.7 343.6h0M751.4 352.5h0M911.0 324.0h0M831.1 329.8h0M806.0 327.9h0M753.0 358.5h0M733.0 384.7h0M821.0 329.5h0M788.9 332.5h0M739.8 358.1h0M762.9 348.1h0M928.3 322.4h0M805.9 332.2h0M735.4 382.1h0M734.9 375.1h0M827.3 319.9h0M732.2 404.5h0M892.1 325.7h0M811.1 325.7h0M832.8 326.9h0M961.5 322.1h0M931.5 323.8h0M758.0 331.2h0M1060.9 319.7h0M870.4 320.5h0M801.9 323.5h0M902.5 323.0h0M901.9 324.3h0M945.4 322.4h0M731.4 367.7h0M961.7 324.3h0M732.4 354.7h0M976.0 322.9h0M837.1 325.3h0M955.5 322.9h0M741.7 343.4h0M893.3 324.0h0M768.5 326.6h0M746.1 337.2h0M912.6 319.7h0M757.0 349.3h0M759.1 342.8h0M733.3 348.9h0M732.9 348.8h0M871.8 324.7h0M847.2 326.5h0M868.6 325.2h0M791.1 327.3h0M813.6 325.0h0M756.0 340.9h0M755.4 343.5h0M747.7 339.1h0M734.0 406.3h0M763.5 338.5h0M798.5 326.1h0M798.6 333.2h0M765.7 330.8h0M732.7 373.6h0M947.8 320.6h0M837.0 324.9h0M751.3 347.1h0M986.8 322.7h0M946.3 324.7h0M912.1 323.2h0M886.5 323.5h0M859.9 323.3h0M756.1 337.0h0M843.6 327.4h0M766.8 340.3h0M737.4 352.7h0M884.6 325.3h0M750.0 379.1h0M887.2 320.1h0M872.7 325.3h0M790.7 328.3h0M1020.9 323.1h0M930.4 321.1h0M748.5 363.5h0M735.2 363.4h0M734.1 387.2h0M733.3 424.1h0M739.4 395.0h0M731.7 388.8h0M732.0 382.2h0M737.7 416.6h0M733.1 402.6h0M735.7 386.4h0M732.0 372.8h0M731.7 411.2h0M733.1 373.1h0M731.8 394.3h0M739.9 396.2h0M731.9 395.6h0M733.9 362.4h0M736.0 356.8h0M733.1 398.8h0M733.5 399.1h0M739.2 392.7h0M732.1 365.3h0M736.3 365.3h0M731.7 383.2h0M732.5 382.7h0M732.8 363.7h0M733.0 356.2h0M732.9 401.7h0M733.8 357.0h0M732.9 372.6h0M732.0 356.0h0M737.4 386.3h0M732.0 357.2h0M739.4 397.9h0M733.3 377.7h0M731.5 392.4h0M735.0 367.3h0M733.1 366.6h0M734.4 373.6h0M1082.5 322.9h0M1116.3 326.3h0"/>
<path stroke="#903e6a" stroke-opacity="0.92" d="M734.3 395.9h0M785.3 345.9h0M758.4 368.5h0M755.9 365.4h0M748.7 358.7h0M735.2 405.1h0M740.2 397.8h0M834.8 330.5h0M944.1 325.2h0M750.8 382.2h0M778.0 347.9h0M932.2 326.1h0M763.8 368.7h0M734.9 411.7h0M824.8 330.1h0M888.0 327.9h0M986.5 329.2h0M753.5 365.1h0M746.2 394.6h0M973.9 330.9h0M748.0 369.6h0M752.4 369.5h0M732.9 420.1h0M921.6 328.0h0M740.4 427.0h0M735.5 399.2h0M732.8 375.2h0M733.5 406.2h0M747.9 397.0h0M735.8 399.2h0M736.9 413.4h0M732.2 404.8h0M732.1 383.9h0M733.6 405.4h0M732.4 399.0h0M733.1 426.5h0"/>
<path stroke="#953165" stroke-opacity="0.91" d="M773.8 361.8h0M749.8 388.8h0M778.9 341.1h0M786.3 347.9h0M864.0 331.3h0M943.1 328.7h0M871.1 330.5h0M932.7 329.7h0M822.2 336.7h0M860.3 333.4h0M793.0 345.8h0M814.0 335.7h0M887.4 330.0h0M804.2 341.6h0M838.1 334.9h0M744.2 410.6h0M898.8 329.9h0M739.8 412.6h0M732.3 416.6h0M731.5 413.7h0M732.0 399.3h0M732.3 414.9h0M733.5 383.6h0M736.0 420.4h0M749.0 397.7h0M753.7 387.6h0"/>
<path stroke="#9a2460" stroke-opacity="0.89" d="M894.9 329.7h0M744.9 405.5h0M923.2 329.3h0M878.0 332.2h0M908.7 329.8h0M900.9 331.3h0M961.7 331.6h0M854.1 333.5h0M907.4 332.9h0M732.7 405.5h0M732.5 422.8h0M761.8 386.5h0"/>
<path stroke="#a0165c" stroke-opacity="0.88" d="M743.0 422.6h0M805.1 381.0h0M766.4 377.8h0M916.2 332.4h0M957.0 331.1h0M845.5 335.9h0M953.7 331.8h0M772.6 372.9h0M950.5 332.0h0M865.8 336.6h0M830.5 335.4h0M760.9 366.9h0M733.5 419.9h0M733.1 456.8h0M734.3 456.8h0M738.1 456.8h0M734.1 462.1h0M734.6 462.1h0M740.3 462.1h0M737.0 462.1h0M737.0 467.3h0M740.7 467.3h0M737.2 467.3h0M740.6 467.3h0M739.4 467.3h0M734.3 467.3h0M737.0 472.5h0M733.1 472.5h0M737.7 472.5h0M733.2 476.7h0M733.2 476.7h0M738.3 476.7h0M737.6 476.7h0M892.8 334.3h0M847.9 375.1h0M928.9 366.4h0M783.8 423.8h0M765.2 482.2h0M733.1 488.2h0M746.6 477.7h0M761.8 456.8h0M750.0 441.2h0M1069.0 338.5h0M1126.4 340.3h0M743.6 443.6h0M760.1 418.6h0M876.6 351.7h0M861.7 352.4h0M854.0 355.2h0M869.2 348.6h0M854.3 349.0h0M840.1 352.4h0M831.7 349.3h0M804.7 368.1h0M802.3 367.4h0M789.2 375.8h0M776.7 377.5h0M769.2 391.1h0M756.4 398.7h0M938.0 335.7h0M908.7 335.0h0"/>
<path stroke="#c45a8c" stroke-opacity="0.93" d="M760.9 272.0h0M794.3 298.0h0M860.7 309.7h0M758.3 276.8h0M768.0 294.9h0M771.9 292.3h0M978.0 310.5h0M981.0 312.1h0M850.9 306.9h0M1060.4 312.8h0M858.0 310.6h0M754.1 293.6h0M943.6 311.2h0M815.5 307.9h0M1032.5 312.6h0M748.7 294.2h0M816.1 304.8h0M827.7 306.7h0M802.9 300.3h0M830.7 311.3h0M804.7 308.4h0M821.4 303.7h0M807.3 308.3h0M839.1 306.9h0M994.6 312.2h0M893.1 312.4h0M733.6 227.0h0M942.5 312.7h0M822.6 304.0h0M844.7 307.8h0M744.7 275.9h0M747.8 294.5h0M886.4 312.0h0M739.2 265.8h0M977.5 311.9h0M1039.4 312.6h0M765.1 298.2h0M744.2 275.2h0M747.9 272.1h0M807.7 307.5h0M1078.1 312.3h0M1032.6 312.8h0M785.8 300.4h0M991.7 310.8h0M824.9 307.3h0M1059.3 313.0h0M913.4 309.8h0M930.8 311.0h0M923.8 311.8h0M817.6 309.9h0M1050.9 312.6h0M813.2 308.9h0M859.8 311.9h0M866.6 309.9h0M830.5 310.7h0M797.9 300.1h0M955.2 312.7h0M954.5 312.7h0M821.7 307.8h0M984.8 312.9h0M1075.9 312.2h0M753.8 283.4h0M812.3 310.1h0M822.6 304.8h0M920.6 311.9h0M1060.3 312.0h0M828.5 303.9h0M963.2 310.0h0M859.4 312.6h0M758.4 291.2h0M738.4 275.3h0M1051.3 310.9h0M868.2 310.7h0M968.1 311.1h0M842.3 311.1h0M1060.1 312.0h0M789.9 298.8h0M798.4 303.6h0M845.5 308.1h0M746.8 285.7h0M757.8 303.2h0M995.4 312.0h0M766.3 291.3h0M814.7 307.0h0M904.0 310.9h0M1053.0 312.4h0M736.9 245.3h0M768.8 287.5h0M748.3 265.5h0M851.1 312.4h0M757.7 298.5h0M1008.1 312.1h0M824.3 308.3h0M1023.6 311.0h0M938.8 312.6h0M774.4 298.4h0M759.3 272.0h0M891.4 312.1h0M996.3 312.4h0M766.4 299.3h0M742.1 247.9h0M968.9 313.0h0M1075.5 311.7h0M897.2 309.7h0M835.8 306.0h0M847.2 309.6h0M767.4 295.8h0M760.1 278.9h0M868.9 311.5h0M769.4 286.3h0M749.3 264.3h0M773.8 300.2h0M731.8 246.6h0M1052.3 312.3h0M914.7 310.9h0M874.1 310.7h0M1055.2 312.9h0M802.3 308.5h0M779.6 294.6h0M933.7 310.9h0M733.2 258.9h0M740.9 293.7h0M884.8 310.4h0M1029.9 312.7h0M772.5 284.9h0M959.8 311.8h0M732.4 257.3h0M828.9 307.7h0M976.1 310.7h0M745.0 269.4h0M1009.4 312.1h0M1029.8 312.4h0M765.2 286.7h0M785.3 307.1h0M875.2 310.0h0M943.0 312.4h0M1071.2 312.5h0M1047.8 310.6h0M735.5 251.0h0M869.9 312.7h0M943.0 311.8h0M832.8 305.0h0M798.6 304.1h0M765.7 302.4h0M1077.3 312.5h0M1048.8 311.6h0M739.1 293.0h0M771.6 300.0h0M836.0 310.5h0M752.9 286.1h0M890.1 309.9h0M977.6 312.9h0M907.5 311.0h0M963.8 312.0h0M781.6 292.6h0M827.0 308.9h0M780.2 301.5h0M881.9 309.6h0M759.9 276.0h0M852.7 309.6h0M1000.4 312.9h0M759.4 286.1h0M744.0 288.7h0M961.9 312.2h0M748.9 267.0h0M761.7 290.3h0M1052.5 312.8h0M900.2 311.1h0M759.7 297.3h0M796.4 309.9h0M943.1 310.0h0M776.8 294.4h0M779.1 300.8h0M902.2 310.5h0M895.7 312.4h0M794.9 297.3h0M771.3 292.3h0M740.3 270.8h0M907.9 310.1h0M990.1 312.7h0M740.6 250.4h0M927.9 311.5h0M1054.5 312.3h0M997.0 310.4h0M982.3 312.4h0M837.2 307.2h0M835.2 311.9h0M798.2 306.9h0M972.3 312.9h0M945.3 312.8h0M757.5 294.5h0M822.5 311.8h0M914.2 312.2h0M782.8 301.0h0M1002.2 312.1h0M1032.7 312.0h0M760.8 288.8h0M763.7 281.9h0M753.9 299.8h0M747.9 246.7h0M737.2 264.3h0M832.0 307.9h0M761.1 278.9h0M767.5 298.4h0M927.5 312.6h0M743.2 279.6h0M1034.7 311.5h0M815.0 310.4h0M943.6 312.0h0M749.3 298.5h0M898.5 310.6h0M1069.6 312.2h0M790.1 301.6h0M947.8 312.4h0M880.6 310.6h0M848.3 312.2h0M749.3 263.3h0M947.0 312.3h0M828.1 309.3h0M733.0 238.3h0M1055.8 311.9h0M1049.3 312.0h0M791.8 299.3h0M1023.4 311.8h0M863.6 309.0h0M850.8 312.2h0M947.5 312.6h0M792.9 297.2h0M773.7 299.5h0M805.0 302.1h0M1028.5 310.9h0M840.1 308.8h0M791.1 304.0h0M994.7 312.9h0M990.7 311.9h0M875.1 311.9h0M814.7 305.7h0M1058.4 311.5h0M1025.2 311.5h0M771.9 290.5h0M732.5 279.8h0M735.1 248.8h0M733.2 226.6h0M742.7 254.2h0M731.5 217.3h0M736.0 279.5h0M732.5 213.2h0M735.6 266.0h0M733.5 277.7h0M732.1 225.9h0M737.6 248.8h0M760.8 254.7h0"/>
<path stroke="#d35290" stroke-opacity="0.92" d="M796.8 298.8h0M925.3 310.0h0M753.2 250.2h0M919.5 310.0h0M1005.3 310.4h0M939.7 310.3h0M1027.1 311.2h0M767.6 269.5h0M811.2 300.9h0M837.4 305.3h0M777.7 282.5h0M765.0 282.5h0M1043.3 312.0h0M845.2 306.3h0M846.8 306.2h0M986.8 310.7h0M833.2 306.4h0M949.1 309.7h0M748.6 259.4h0M833.0 304.8h0M943.1 309.7h0M1053.6 310.3h0M930.7 310.5h0M785.7 295.3h0M759.4 273.0h0M1043.4 311.1h0M851.6 307.2h0M863.5 308.2h0M1025.8 309.9h0M993.8 310.6h0M1019.4 310.7h0M733.8 213.7h0M731.9 256.2h0M733.9 260.2h0M748.3 243.2h0M776.3 276.9h0"/>
<path stroke="#e24a95" stroke-opacity="0.91" d="M1041.5 310.1h0M743.2 232.9h0M813.2 301.3h0M947.8 310.0h0M978.0 310.7h0M986.1 309.9h0M786.1 292.5h0M770.8 269.3h0M763.9 258.3h0M852.6 307.1h0M846.0 305.1h0M992.9 310.3h0M1009.5 309.9h0M879.2 308.0h0M924.6 309.2h0M1069.8 310.1h0M999.7 310.6h0M948.2 310.0h0M1032.6 310.3h0M1067.6 309.8h0M1021.0 309.6h0M876.9 308.5h0M933.9 308.5h0M942.8 309.5h0M1012.1 310.2h0M924.7 309.3h0M1001.8 310.4h0M1044.7 309.9h0M753.7 258.0h0M851.6 307.9h0M885.5 308.8h0M747.3 224.7h0M752.7 233.1h0M765.9 265.4h0M801.0 292.6h0"/>
<path stroke="#f0429a" stroke-opacity="0.89" d="M1033.1 309.9h0M821.7 300.2h0M965.8 309.7h0M943.2 308.7h0M793.6 293.4h0M841.8 302.8h0M928.6 308.0h0M887.8 308.5h0M854.6 306.1h0M1043.9 309.6h0M961.1 309.6h0M1029.5 309.9h0M1017.9 309.7h0M825.8 302.2h0M1010.7 309.4h0M920.8 308.8h0M736.5 147.1h0M733.1 152.3h0M740.5 195.1h0M745.9 216.4h0M786.1 278.7h0"/>
<path stroke="#ff3a9e" stroke-opacity="0.88" d="M928.6 305.8h0M924.9 307.9h0M1014.5 309.3h0M1086.7 309.8h0M1030.7 308.2h0M930.8 307.7h0M1037.9 308.5h0M1081.0 309.0h0M868.8 300.6h0M1025.5 309.4h0M1088.6 309.3h0M1005.1 307.6h0M1042.5 309.7h0M976.9 307.9h0M1027.0 306.9h0M847.6 292.8h0M1043.4 309.6h0M987.5 309.0h0M1040.9 308.7h0M1020.7 308.3h0M972.0 308.2h0M978.3 306.9h0M1038.6 306.2h0M887.8 304.9h0M977.3 307.9h0M783.2 274.9h0M1046.7 307.9h0M913.6 306.3h0M827.8 295.5h0M994.0 306.8h0M852.9 300.4h0M1055.9 302.2h0M1068.9 308.1h0M1015.6 308.1h0M970.4 306.7h0M1008.6 309.7h0M806.9 290.8h0M980.1 307.1h0M983.0 309.4h0M768.8 244.1h0M1009.8 309.8h0M967.0 301.1h0M931.1 307.9h0M884.7 308.3h0M949.0 309.6h0M1035.7 303.9h0M739.9 173.2h0M738.8 173.2h0M736.7 173.2h0M738.7 173.2h0M737.9 173.2h0M737.0 166.3h0M738.5 166.3h0M738.5 166.3h0M734.9 166.3h0M734.7 166.3h0M735.6 166.3h0M732.1 157.6h0M737.2 157.6h0M735.7 157.6h0M751.7 171.5h0M844.5 247.0h0M873.2 281.1h0M925.5 275.9h0M918.8 286.3h0M927.2 288.1h0M920.5 294.3h0M961.0 279.4h0M959.3 296.8h0M984.6 298.5h0M1102.8 300.2h0M1112.9 308.9h0M1126.4 308.2h0M1096.0 305.5h0M1099.4 308.9h0M767.6 219.5h0M764.9 221.9h0M780.7 234.1h0M748.3 195.1h0M792.5 266.5h0M798.6 271.4h0M815.8 286.3h0M818.9 293.6h0M808.4 292.6h0"/>
</g>
<path d="M892.8 334.2L957.7 369.4" stroke="#231f20" stroke-width="1.1" fill="none"/>
<text x="956.0" y="390.5" font-family="'Liberation Sans', sans-serif" font-size="34.3" font-weight="bold" font-style="italic" fill="#231f20">Fmr1</text>
<rect x="714.5" y="89.7" width="557.2" height="452.6" fill="none" stroke="#000" stroke-width="1.2"/>
<path d="M709.0 542.1H714.5M709.0 507.3H714.5M709.0 472.5H714.5M709.0 437.7H714.5M709.0 402.9H714.5M709.0 368.1H714.5M709.0 333.3H714.5M709.0 298.5H714.5M709.0 263.7H714.5M709.0 228.9H714.5M709.0 194.1H714.5M709.0 159.3H714.5M709.0 124.5H714.5M714.5 542.3V547.8M748.3 542.3V547.8M782.1 542.3V547.8M815.8 542.3V547.8M849.6 542.3V547.8M883.3 542.3V547.8M917.1 542.3V547.8M950.9 542.3V547.8M984.6 542.3V547.8M1018.4 542.3V547.8M1052.1 542.3V547.8M1085.9 542.3V547.8M1119.7 542.3V547.8M1153.4 542.3V547.8M1187.2 542.3V547.8M1220.9 542.3V547.8M1254.7 542.3V547.8" stroke="#000" stroke-width="1.2" fill="none"/>
<g font-family="'Liberation Sans', sans-serif" font-size="14" fill="#000">
<g text-anchor="end">
<text x="702.5" y="547.1">−6.5</text>
<text x="702.5" y="512.3">−5.5</text>
<text x="702.5" y="477.5">−4.5</text>
<text x="702.5" y="442.7">−3.5</text>
<text x="702.5" y="407.9">−2.5</text>
<text x="702.5" y="373.1">−1.5</text>
<text x="702.5" y="338.3">−0.5</text>
<text x="702.5" y="303.5">0.5</text>
<text x="702.5" y="268.7">1.5</text>
<text x="702.5" y="233.9">2.5</text>
<text x="702.5" y="199.1">3.5</text>
<text x="702.5" y="164.3">4.5</text>
<text x="702.5" y="129.5">5.5</text>
</g><g text-anchor="middle">
<text x="714.5" y="564.8">−0.5</text>
<text x="748.3" y="564.8">0.5</text>
<text x="782.1" y="564.8">1.5</text>
<text x="815.8" y="564.8">2.5</text>
<text x="849.6" y="564.8">3.5</text>
<text x="883.3" y="564.8">4.5</text>
<text x="917.1" y="564.8">5.5</text>
<text x="950.9" y="564.8">6.5</text>
<text x="984.6" y="564.8">7.5</text>
<text x="1018.4" y="564.8">8.5</text>
<text x="1052.1" y="564.8">9.5</text>
<text x="1085.9" y="564.8">10.5</text>
<text x="1119.7" y="564.8">11.5</text>
<text x="1153.4" y="564.8">12.5</text>
<text x="1187.2" y="564.8">13.5</text>
<text x="1220.9" y="564.8">14.5</text>
<text x="1254.7" y="564.8">15.5</text>
</g></g>
<text x="730.2" y="606.8" font-family="'Liberation Sans', sans-serif" font-size="34.45" fill="#231f20">Log<tspan font-size="20" dx="0.6" dy="11.4">2</tspan><tspan dy="-11.4" dx="-0.4"> Mean Expression (TPM+1)</tspan></text>
<text x="1262.2" y="124.8" text-anchor="end" font-family="'Liberation Sans', sans-serif" font-size="31" font-weight="bold" fill="#e8338a">Female <tspan font-style="italic">Fmr1</tspan>-het</text>
<text x="1261.1" y="528.6" text-anchor="end" font-family="'Liberation Sans', sans-serif" font-size="31" font-weight="bold" fill="#8c1c54">Female WT</text>
</g>
<g id="panel2">
<clipPath id="cp2"><rect x="1339.2" y="89.7" width="557.2" height="452.6"/></clipPath>
<g clip-path="url(#cp2)" fill="none" stroke-linecap="round" stroke-width="6.4">
<path stroke="#bcbcbc" stroke-opacity="0.74" d="M1386.8 316.6h0M1363.7 257.5h0M1361.3 373.8h0M1366.6 352.4h0M1406.6 318.0h0M1381.1 414.9h0M1368.2 305.5h0M1384.3 345.7h0M1429.7 334.5h0M1357.6 252.8h0M1361.0 213.7h0M1387.0 289.6h0M1380.2 376.0h0M1363.6 204.1h0M1416.6 333.0h0M1371.7 340.3h0M1767.8 317.5h0M1393.6 350.2h0M1365.8 380.9h0M1365.6 273.7h0M1361.4 258.5h0M1385.6 305.1h0M1376.6 319.9h0M1362.5 354.6h0M1470.6 302.9h0M1553.5 308.9h0M1652.1 309.9h0M1386.2 362.2h0M1356.7 427.1h0M1369.9 334.4h0M1376.0 321.0h0M1407.6 301.7h0M1365.0 328.9h0M1379.4 389.4h0M1365.2 350.3h0M1356.4 349.0h0M1380.8 450.8h0M1358.0 360.8h0M1364.9 341.8h0M1377.9 384.4h0M1380.6 306.3h0M1389.8 328.6h0M1363.5 351.1h0M1372.1 343.7h0M1359.3 349.2h0M1390.7 319.2h0M1378.5 321.0h0M1602.4 306.6h0M1366.8 363.5h0M1751.8 313.6h0M1377.9 265.2h0M1362.1 426.6h0M1398.7 311.2h0M1376.4 190.2h0M1360.6 227.5h0M1362.7 234.1h0M1464.1 332.6h0M1385.3 308.7h0M1368.5 258.1h0M1373.0 180.9h0M1357.9 267.9h0M1367.3 414.9h0M1357.2 239.3h0M1370.7 213.2h0M1359.9 338.0h0M1391.7 283.8h0M1377.8 342.7h0M1376.6 362.1h0M1832.0 316.7h0M1513.6 327.0h0M1791.6 314.9h0M1364.2 299.8h0M1380.2 304.2h0M1359.3 292.6h0M1357.2 252.6h0M1372.0 312.5h0M1378.5 363.7h0M1381.9 289.0h0M1361.7 288.2h0M1367.9 321.6h0M1382.6 329.5h0M1371.3 358.3h0M1375.4 300.5h0M1382.2 390.2h0M1369.7 279.7h0M1373.0 323.3h0M1369.3 260.9h0M1365.5 397.3h0M1363.6 315.8h0M1367.4 290.9h0M1359.1 392.3h0M1384.5 329.4h0M1386.1 295.2h0M1402.1 309.2h0M1363.1 315.5h0M1469.7 326.8h0M1744.6 318.5h0M1381.3 256.9h0M1365.0 288.2h0M1367.0 281.5h0M1357.8 332.8h0M1363.4 280.1h0M1363.0 347.5h0M1358.8 279.4h0M1406.7 337.4h0M1388.2 355.6h0M1362.2 333.3h0M1358.3 307.2h0M1360.7 377.9h0M1385.2 311.2h0M1449.8 299.0h0M1365.5 357.7h0M1362.2 228.7h0M1359.7 399.9h0M1377.3 350.4h0M1383.9 282.9h0M1383.6 308.2h0M1386.8 284.3h0M1369.2 295.3h0M1364.2 399.8h0M1365.8 259.5h0M1370.2 316.2h0M1357.9 284.8h0M1385.2 345.2h0M1374.4 355.6h0M1357.8 385.2h0M1373.3 322.7h0M1386.5 276.9h0M1377.2 286.4h0M1357.9 383.1h0M1363.4 314.3h0M1359.6 305.3h0M1362.7 181.7h0M1366.8 291.4h0M1434.6 334.0h0M1360.4 356.7h0M1363.8 349.8h0M1388.8 306.8h0M1356.5 327.6h0M1356.6 294.7h0M1424.3 319.7h0M1439.7 302.7h0M1356.3 374.0h0M1420.7 321.5h0M1375.6 321.7h0M1384.5 333.1h0M1361.4 450.0h0M1406.4 326.3h0M1373.8 309.8h0M1373.5 341.5h0M1371.4 377.1h0M1367.0 264.2h0M1362.6 191.5h0M1356.6 220.0h0M1395.1 313.9h0M1418.9 294.9h0M1396.1 314.9h0M1360.3 350.6h0M1374.6 328.5h0M1364.0 416.8h0M1380.5 301.0h0M1379.9 317.8h0M1363.3 340.7h0M1369.4 237.5h0M1367.1 322.8h0M1357.7 204.8h0M1369.4 296.4h0M1405.2 300.6h0M1358.4 312.1h0M1373.8 366.0h0M1369.0 354.2h0M1380.3 336.1h0M1364.1 279.1h0M1374.0 283.6h0M1374.4 294.4h0M1356.9 237.1h0M1496.4 304.6h0M1767.2 313.5h0M1371.1 343.9h0M1373.9 204.1h0M1364.3 331.2h0M1637.8 307.6h0M1857.7 314.6h0M1378.5 287.7h0M1376.2 339.6h0M1380.0 313.8h0M1367.9 267.0h0M1387.0 310.0h0M1819.7 314.0h0M1382.8 337.7h0M1361.5 290.4h0M1378.5 318.8h0M1359.5 363.2h0M1357.8 182.0h0M1363.0 256.7h0M1386.1 347.9h0M1362.5 221.8h0M1402.7 323.7h0M1367.4 336.5h0M1364.9 362.3h0M1409.7 307.9h0M1361.2 308.0h0M1359.6 439.9h0M1372.1 362.3h0M1363.3 328.5h0M1443.1 295.2h0M1367.3 349.3h0M1373.9 315.5h0M1358.7 409.3h0M1387.9 300.5h0M1639.4 330.4h0M1399.6 301.4h0M1363.6 217.8h0M1381.4 281.2h0M1375.2 349.7h0M1438.2 339.9h0M1356.3 317.7h0M1360.6 292.8h0M1377.9 306.5h0M1377.7 309.8h0M1421.6 325.3h0M1363.7 325.2h0M1365.2 271.3h0M1402.1 324.1h0M1381.0 354.2h0M1357.8 238.9h0M1374.3 361.4h0M1379.9 274.0h0M1401.2 328.3h0M1359.6 181.3h0M1420.9 337.5h0M1370.3 365.6h0M1376.5 357.8h0M1361.7 439.0h0M1377.8 298.0h0M1366.2 390.5h0M1793.9 316.4h0M1454.4 302.1h0M1359.4 242.0h0M1356.2 279.7h0M1367.1 284.5h0M1610.0 324.6h0M1382.2 439.5h0M1356.2 367.5h0M1368.1 307.7h0M1466.9 312.1h0M1358.9 347.2h0M1356.5 304.6h0M1365.0 421.7h0M1361.8 306.4h0M1360.1 269.0h0M1427.1 304.5h0M1381.7 283.1h0M1383.2 296.6h0M1369.1 349.3h0M1359.7 330.8h0M1403.4 332.7h0M1374.8 296.6h0M1363.8 427.5h0M1377.9 246.9h0M1369.8 275.1h0M1360.4 413.0h0M1368.3 334.4h0M1364.0 355.8h0M1390.2 338.3h0M1358.1 214.9h0M1364.4 389.0h0M1359.0 254.7h0M1363.0 399.4h0M1360.0 241.8h0M1375.4 339.2h0M1357.2 297.8h0M1360.2 308.4h0M1379.9 313.3h0M1418.0 295.9h0M1399.2 301.6h0M1409.3 337.3h0M1364.8 314.2h0M1737.6 331.6h0M1358.1 401.9h0M1372.0 256.1h0M1365.1 355.4h0M1382.8 286.4h0M1382.7 323.2h0M1360.6 396.2h0M1356.1 350.6h0M1367.9 333.9h0M1379.5 325.8h0M1365.7 276.8h0M1366.7 275.4h0M1362.7 416.6h0M1384.1 260.1h0M1358.7 207.8h0M1372.0 298.1h0M1378.9 309.5h0M1367.0 398.2h0M1409.5 319.9h0M1499.1 335.1h0M1377.7 318.4h0M1372.9 348.1h0M1387.1 343.6h0M1744.3 315.0h0M1372.2 322.8h0M1357.9 317.7h0M1362.6 364.8h0M1408.4 298.1h0M1384.1 290.9h0M1359.1 290.5h0M1394.5 310.9h0M1376.6 319.8h0M1378.0 295.2h0M1364.5 411.9h0M1362.0 246.2h0M1419.6 318.5h0M1360.0 255.8h0M1361.6 291.1h0M1366.3 335.7h0M1364.9 320.3h0M1372.3 351.7h0M1739.7 316.8h0M1379.1 351.3h0M1372.5 301.9h0M1361.8 292.0h0M1763.3 314.0h0M1364.1 361.9h0M1360.2 297.7h0M1358.3 205.4h0M1361.2 272.5h0M1481.9 307.6h0M1381.8 312.5h0M1368.1 261.6h0M1369.8 342.6h0M1387.4 289.0h0M1360.3 260.2h0M1357.5 277.7h0M1386.6 352.4h0M1365.0 251.4h0M1366.1 348.4h0M1361.7 216.9h0M1377.2 355.8h0M1421.7 341.2h0M1360.8 368.5h0M1388.9 358.2h0M1373.3 300.7h0M1389.4 344.6h0M1394.6 322.9h0M1827.8 312.0h0M1413.4 314.6h0M1357.4 425.0h0M1356.2 450.1h0M1363.2 238.9h0M1399.7 309.3h0M1373.9 244.1h0M1364.8 272.6h0M1403.5 297.9h0M1408.3 331.2h0M1362.4 352.0h0M1369.2 328.6h0M1622.9 308.3h0M1367.7 329.1h0M1358.3 347.0h0M1400.1 308.4h0M1383.5 268.6h0M1366.2 280.8h0M1356.4 234.7h0M1363.4 343.3h0M1368.7 270.7h0M1370.6 358.8h0M1477.8 306.1h0M1740.9 316.2h0M1365.3 336.6h0M1373.1 264.2h0M1369.6 286.6h0M1375.8 302.8h0M1367.5 350.0h0M1370.2 339.0h0M1363.5 372.5h0M1365.5 237.0h0M1372.3 337.3h0M1371.4 275.3h0M1366.1 402.2h0M1392.6 296.5h0M1359.8 409.7h0M1454.8 299.3h0M1359.3 273.6h0M1383.1 337.6h0M1405.1 298.0h0M1361.3 421.0h0M1379.2 319.3h0M1383.3 300.9h0M1387.5 354.3h0M1357.2 191.3h0M1366.1 347.8h0M1389.9 366.9h0M1397.4 338.5h0M1365.2 395.9h0M1357.7 257.2h0M1377.6 370.1h0M1363.8 274.8h0M1363.7 409.9h0M1357.3 316.8h0M1387.0 330.4h0M1373.3 307.3h0M1358.2 226.4h0M1361.0 369.6h0M1807.5 314.6h0M1357.5 387.2h0M1406.0 294.5h0M1360.5 310.1h0M1361.2 306.3h0M1384.1 363.1h0M1360.9 324.4h0M1359.3 325.4h0M1358.3 373.7h0M1378.7 271.8h0M1403.1 298.5h0M1368.6 268.0h0M1366.9 254.8h0M1379.4 243.6h0M1359.0 449.6h0M1360.7 362.7h0M1360.1 334.4h0M1524.0 336.6h0M1357.6 411.0h0M1391.1 322.5h0M1366.2 353.1h0M1390.9 289.4h0M1360.0 204.2h0M1379.2 367.9h0M1368.5 273.8h0M1371.7 399.7h0M1357.5 356.5h0M1363.5 204.9h0M1441.5 316.5h0M1401.3 330.3h0M1361.6 215.3h0M1789.9 320.4h0M1366.5 317.5h0M1376.5 315.8h0M1365.1 309.4h0M1356.8 292.0h0M1358.1 305.5h0M1369.5 256.4h0M1367.5 405.4h0M1383.3 282.0h0M1363.0 258.4h0M1365.6 215.0h0M1365.6 246.9h0M1369.2 303.4h0M1362.3 373.5h0M1399.8 296.2h0M1359.3 263.4h0M1449.4 348.3h0M1364.4 357.8h0M1402.5 334.0h0M1395.0 340.4h0M1398.2 291.9h0M1363.8 212.1h0M1372.5 354.6h0M1358.9 267.4h0M1365.4 311.7h0M1401.8 325.6h0M1366.8 261.3h0M1553.2 301.3h0M1417.8 297.4h0M1359.4 364.7h0M1394.7 318.2h0M1373.3 358.8h0M1371.0 385.3h0M1385.2 324.7h0M1383.0 278.6h0M1433.1 326.4h0M1357.4 370.5h0M1486.9 322.0h0M1414.0 333.7h0M1365.2 191.8h0M1373.0 343.2h0M1358.4 428.0h0M1742.7 313.5h0M1450.6 326.4h0M1406.6 282.1h0M1358.8 303.7h0M1364.9 380.0h0M1358.3 254.4h0M1363.9 316.1h0M1359.6 254.4h0M1783.4 312.9h0M1360.4 302.7h0M1388.3 284.1h0M1384.7 356.8h0M1359.4 427.3h0M1364.5 180.6h0M1529.6 307.3h0M1379.8 450.2h0M1375.3 316.7h0M1359.9 370.8h0M1403.4 332.7h0M1357.5 301.0h0M1365.8 204.4h0M1374.2 263.9h0M1360.3 267.1h0M1432.0 272.7h0M1359.8 395.9h0M1417.1 306.2h0M1408.1 329.7h0M1367.8 341.7h0M1441.0 287.8h0M1366.1 343.5h0M1387.4 328.4h0M1362.3 339.8h0M1417.8 316.5h0M1411.8 313.8h0M1390.6 334.3h0M1368.7 254.6h0M1369.0 259.8h0M1363.2 330.6h0M1372.1 387.8h0M1391.9 301.7h0M1361.8 311.4h0M1370.8 348.0h0M1365.7 291.1h0M1363.6 315.2h0M1372.6 344.4h0M1374.5 339.1h0M1357.0 399.2h0M1559.7 324.8h0M1376.5 334.4h0M1365.6 390.5h0M1369.1 392.9h0M1375.4 303.0h0M1404.9 312.7h0M1453.5 300.0h0M1360.8 315.2h0M1594.8 308.9h0M1399.9 319.7h0M1376.8 263.3h0M1372.9 312.9h0M1364.3 316.6h0M1359.5 312.1h0M1370.3 427.3h0M1357.9 260.4h0M1364.5 358.7h0M1360.4 263.7h0M1360.5 302.4h0M1364.3 439.5h0M1516.3 325.2h0M1834.2 315.3h0M1363.7 327.3h0M1363.4 245.0h0M1363.9 274.4h0M1541.8 321.0h0M1367.8 362.9h0M1399.7 309.8h0M1394.3 316.2h0M1365.3 283.6h0M1364.8 204.2h0M1367.8 282.1h0M1407.0 323.8h0M1371.5 295.2h0M1371.3 342.7h0M1361.2 354.3h0M1362.0 339.1h0M1373.2 309.7h0M1377.5 290.4h0M1362.3 326.9h0M1386.7 312.0h0M1413.6 333.5h0M1379.2 278.7h0M1367.3 380.1h0M1391.3 326.7h0M1434.2 331.0h0M1366.1 385.7h0M1369.5 317.6h0M1356.1 259.6h0M1378.4 331.7h0M1363.6 376.7h0M1356.3 268.8h0M1361.3 413.8h0M1360.0 288.6h0M1365.0 330.1h0M1367.8 292.4h0M1443.6 300.9h0M1392.9 329.6h0M1360.2 427.1h0M1374.8 366.6h0M1410.2 309.1h0M1384.4 336.8h0M1367.6 294.7h0M1409.8 319.8h0M1441.2 325.7h0M1364.2 371.8h0M1372.6 224.1h0M1387.2 274.1h0M1376.2 364.8h0M1376.0 269.1h0M1375.1 277.5h0M1366.2 394.2h0M1410.4 304.4h0M1362.6 289.2h0M1357.8 355.6h0M1359.5 309.5h0M1358.2 410.2h0M1368.6 353.5h0M1361.7 289.6h0M1359.0 408.8h0M1376.0 297.4h0M1379.4 270.0h0M1409.1 328.3h0M1362.2 361.3h0M1358.3 320.1h0M1360.1 341.4h0M1371.8 367.6h0M1388.2 335.2h0M1369.9 390.2h0M1360.2 238.8h0M1376.2 337.3h0M1431.1 302.0h0M1359.0 257.7h0M1364.2 349.1h0M1397.5 309.9h0M1365.6 222.8h0M1358.4 240.3h0M1411.3 317.2h0M1370.8 291.0h0M1374.0 365.0h0M1358.2 294.4h0M1401.4 313.7h0M1363.9 329.1h0M1381.7 380.8h0M1370.9 392.9h0M1376.6 355.9h0M1361.1 191.3h0M1403.7 352.7h0M1387.3 349.6h0M1366.2 227.6h0M1368.0 332.3h0M1366.3 259.8h0M1413.0 316.2h0M1382.7 292.2h0M1359.5 227.1h0M1359.8 228.8h0M1389.6 336.5h0M1388.8 277.3h0M1382.4 325.8h0M1533.8 309.7h0M1380.3 335.6h0M1383.5 291.9h0M1371.4 319.2h0M1366.0 333.7h0M1374.5 311.3h0M1446.6 300.6h0M1516.0 327.5h0M1357.2 232.4h0M1379.1 256.0h0M1359.9 355.7h0M1362.1 449.9h0M1366.1 252.8h0M1364.4 287.6h0M1410.6 307.0h0M1356.2 270.0h0M1361.9 407.8h0M1373.4 398.7h0M1364.3 330.5h0M1376.3 288.5h0M1371.5 307.6h0M1431.3 332.5h0M1370.3 314.5h0M1367.0 286.6h0M1356.2 345.2h0M1366.9 325.2h0M1377.4 315.8h0M1371.4 331.9h0M1357.1 389.5h0M1359.9 380.3h0M1370.5 308.1h0M1370.2 301.9h0M1371.6 359.3h0M1475.9 307.7h0M1378.3 330.2h0M1383.6 357.5h0M1360.9 283.0h0M1363.0 322.5h0M1356.4 380.4h0M1358.6 402.3h0M1378.3 347.0h0M1364.0 290.9h0M1419.5 286.6h0M1403.7 315.4h0M1380.8 314.3h0M1358.6 303.1h0M1363.4 385.1h0M1361.4 350.3h0M1363.6 204.3h0M1377.3 353.6h0M1367.1 353.9h0M1362.6 419.5h0M1366.0 244.1h0M1370.5 378.1h0M1378.1 328.2h0M1357.6 397.5h0M1368.4 334.4h0M1363.2 321.3h0M1365.1 230.9h0M1370.4 342.6h0M1382.4 316.1h0M1370.7 326.8h0M1395.1 337.5h0M1408.3 296.5h0M1367.4 311.7h0M1364.6 218.3h0M1385.2 319.8h0M1363.6 402.5h0M1357.8 392.0h0M1364.5 308.3h0M1370.5 308.0h0M1400.3 337.8h0M1363.8 227.8h0M1356.5 349.9h0M1363.8 325.8h0M1363.8 345.1h0M1412.5 315.0h0M1372.4 324.5h0M1363.6 281.7h0M1362.4 394.4h0M1362.8 335.4h0M1366.8 334.5h0M1373.1 272.9h0M1356.6 228.9h0M1368.8 268.0h0M1379.6 320.3h0M1565.0 329.0h0M1425.0 330.4h0M1357.4 204.1h0M1366.3 312.0h0M1380.2 346.2h0M1360.9 330.5h0M1357.5 320.1h0M1617.8 311.1h0M1382.5 236.6h0M1419.4 323.0h0M1367.0 314.2h0M1377.1 298.8h0M1362.6 181.7h0M1400.6 333.7h0M1367.9 257.8h0M1356.4 325.2h0M1382.4 427.3h0M1373.6 381.7h0M1363.5 382.1h0M1367.8 344.3h0M1471.0 274.6h0M1373.2 251.9h0M1363.8 239.5h0M1393.0 343.7h0M1371.8 307.7h0M1357.8 228.1h0M1472.8 306.2h0M1363.2 326.1h0M1365.1 371.8h0M1373.7 390.7h0M1389.0 359.4h0M1367.9 359.1h0M1364.7 191.7h0M1366.0 322.4h0M1361.5 357.7h0M1366.8 257.7h0M1356.4 296.0h0M1370.6 254.2h0M1358.8 285.5h0M1374.8 268.6h0M1363.6 269.0h0M1360.4 364.8h0M1370.0 286.5h0M1365.2 247.0h0M1404.0 298.4h0M1364.4 326.0h0M1361.6 260.1h0M1402.4 323.3h0M1378.0 272.7h0M1804.2 316.4h0M1365.2 336.4h0M1377.4 299.5h0M1356.9 322.1h0M1359.5 439.2h0M1372.4 323.6h0M1390.0 322.3h0M1495.0 301.9h0M1381.1 264.5h0"/>
<path stroke="#bcbcbc" stroke-opacity="0.74" d="M1383.9 335.4h0M1356.9 365.6h0M1362.4 297.6h0M1363.1 252.2h0M1378.5 325.1h0M1360.5 319.9h0M1374.9 362.5h0M1402.7 334.8h0M1357.5 285.6h0M1404.4 370.1h0M1356.4 283.8h0M1365.1 318.9h0M1593.0 310.0h0M1359.5 362.6h0M1356.3 304.7h0M1397.6 282.5h0M1393.0 297.5h0M1356.9 331.3h0M1368.1 206.7h0M1552.5 310.9h0M1417.5 331.0h0M1378.4 292.8h0M1377.9 339.0h0M1764.6 315.8h0M1380.5 284.6h0M1429.9 321.4h0M1361.5 426.9h0M1370.1 327.1h0M1370.7 258.8h0M1366.0 377.2h0M1361.7 295.3h0M1402.6 324.8h0M1371.3 244.9h0M1450.8 315.8h0M1427.6 295.4h0M1366.6 344.9h0M1364.0 206.1h0M1389.3 300.8h0M1363.7 370.5h0M1365.8 303.6h0M1359.9 335.1h0M1356.5 232.1h0M1378.5 352.6h0M1396.2 302.2h0M1365.0 249.3h0M1370.4 284.0h0M1388.0 356.5h0M1399.2 256.3h0M1362.0 281.1h0M1376.2 313.0h0M1359.6 294.9h0M1381.5 318.5h0M1496.2 321.7h0M1401.3 311.9h0M1433.0 313.5h0M1390.6 372.4h0M1761.4 313.5h0M1364.6 303.1h0M1358.6 439.0h0M1357.0 341.0h0M1400.2 328.3h0M1367.8 289.8h0M1385.8 304.7h0M1356.3 288.2h0M1465.5 328.4h0M1384.2 335.0h0M1368.9 276.6h0M1372.7 290.0h0M1357.4 372.3h0M1364.7 250.8h0M1393.3 296.1h0M1365.1 263.0h0M1384.8 297.5h0M1366.6 363.6h0M1367.9 410.4h0M1373.5 376.2h0M1359.0 271.6h0M1362.5 234.0h0M1363.0 318.2h0M1367.4 372.6h0M1388.6 290.8h0M1531.2 328.3h0M1368.8 341.1h0M1372.5 319.7h0M1370.3 322.3h0M1382.1 390.7h0M1801.7 314.2h0M1365.8 300.9h0M1359.6 348.8h0M1358.8 323.9h0M1360.8 291.5h0M1471.1 330.2h0M1381.9 295.0h0M1376.1 439.1h0M1406.4 307.1h0M1403.5 313.1h0M1361.7 318.6h0M1362.1 180.5h0M1360.8 439.7h0M1358.2 271.8h0M1367.6 450.2h0M1357.2 439.2h0M1364.1 296.8h0M1378.0 312.8h0M1365.5 248.9h0M1462.0 315.2h0M1368.5 234.2h0M1356.6 302.9h0M1378.2 282.6h0M1369.9 395.5h0M1368.6 327.6h0M1364.3 362.2h0M1365.8 254.8h0M1393.1 362.7h0M1384.6 322.7h0M1412.2 340.6h0M1801.6 316.8h0M1391.2 370.7h0M1376.3 312.2h0M1362.1 224.0h0M1431.8 296.6h0M1358.9 350.4h0M1369.3 240.4h0M1359.5 363.5h0M1557.2 331.3h0M1364.5 220.1h0M1360.6 380.3h0M1417.7 340.6h0M1364.3 314.8h0M1366.9 273.8h0M1388.4 316.5h0M1362.4 424.3h0M1464.4 309.5h0M1364.0 449.6h0M1374.4 280.9h0M1370.9 339.4h0M1375.3 270.5h0M1398.9 309.3h0M1386.0 297.2h0M1359.1 427.6h0M1384.5 265.7h0M1436.8 296.5h0M1384.1 309.7h0M1386.7 304.0h0M1414.4 304.6h0M1455.0 335.7h0M1400.5 310.3h0M1357.3 320.3h0M1777.2 314.3h0M1372.6 333.9h0M1382.2 286.1h0M1369.6 274.7h0M1371.4 319.6h0M1402.9 306.2h0M1378.6 282.9h0M1362.7 345.4h0M1358.4 380.1h0M1369.3 190.8h0M1370.5 342.8h0M1374.4 323.9h0M1370.2 299.5h0M1356.2 267.2h0M1358.7 303.5h0M1772.6 317.3h0M1454.3 328.6h0M1363.9 204.6h0M1372.1 331.3h0M1362.3 366.0h0M1384.9 330.0h0M1407.1 308.5h0M1398.8 377.6h0M1375.5 252.2h0M1473.9 322.4h0M1758.5 317.2h0M1380.1 316.3h0M1366.2 337.2h0M1376.5 315.4h0M1360.0 344.0h0M1382.3 281.1h0M1361.6 426.5h0M1411.3 291.5h0M1470.0 305.2h0M1377.1 354.9h0M1388.2 264.3h0M1359.9 325.6h0M1374.6 278.9h0M1412.0 307.1h0M1405.7 303.9h0M1356.3 345.3h0M1372.7 350.7h0M1386.0 313.6h0M1362.0 278.3h0M1480.8 305.6h0M1382.1 329.1h0M1391.0 365.7h0M1378.6 284.7h0M1399.5 291.8h0M1606.8 309.3h0M1359.4 343.5h0M1386.4 304.7h0M1362.8 215.5h0M1367.9 341.1h0M1383.8 347.8h0M1401.1 307.9h0M1473.2 305.7h0M1367.1 346.6h0M1386.6 281.3h0M1359.4 317.7h0M1384.8 348.3h0M1366.7 315.9h0M1370.0 300.6h0M1358.5 239.9h0M1500.3 311.3h0M1396.2 318.4h0M1396.9 304.1h0M1357.2 191.6h0M1360.7 438.8h0M1397.5 321.4h0M1357.6 380.6h0M1408.5 345.0h0M1364.0 300.3h0M1388.9 318.0h0M1368.6 286.9h0M1382.9 316.5h0M1376.3 205.2h0M1360.7 323.8h0M1410.6 311.1h0M1361.8 391.8h0M1562.0 305.8h0M1377.3 313.4h0M1367.9 278.0h0M1372.1 371.1h0M1360.1 421.6h0M1396.3 274.7h0M1475.5 304.9h0M1398.9 334.7h0M1356.9 426.9h0M1388.7 301.4h0M1358.3 311.9h0M1379.2 318.2h0M1381.8 288.7h0M1367.5 341.2h0M1358.6 204.5h0M1366.7 404.5h0M1368.0 241.7h0M1359.7 329.7h0M1356.8 269.8h0M1466.4 307.3h0M1379.1 404.3h0M1432.3 341.8h0M1375.1 334.6h0M1372.8 335.7h0M1360.5 354.0h0M1357.0 359.1h0M1521.4 307.3h0M1374.9 287.2h0M1421.4 294.5h0M1373.5 300.5h0M1356.2 252.7h0M1365.2 383.3h0M1362.9 181.5h0M1359.9 297.1h0M1360.8 351.3h0M1385.1 320.1h0M1362.6 334.0h0M1367.8 390.1h0M1372.8 363.5h0M1367.9 248.8h0M1357.8 181.5h0M1374.3 366.2h0M1357.9 305.0h0M1392.6 311.3h0M1553.3 307.7h0M1741.3 313.7h0M1403.8 325.6h0M1357.2 306.8h0M1366.4 280.3h0M1367.7 218.8h0M1361.0 347.4h0M1367.8 297.2h0M1566.3 327.6h0M1384.2 302.0h0M1380.1 331.3h0M1392.8 306.5h0M1360.2 205.0h0M1360.4 192.0h0M1397.3 327.4h0M1357.7 449.5h0M1372.6 364.4h0M1545.0 307.2h0M1397.8 309.8h0M1365.0 325.6h0M1371.1 280.3h0M1367.0 450.4h0M1467.8 315.2h0M1374.6 370.6h0M1764.5 318.4h0M1357.2 361.9h0M1375.9 292.0h0M1364.7 340.0h0M1379.1 269.8h0M1390.9 359.4h0M1359.3 425.0h0M1387.5 267.1h0M1370.3 351.5h0M1385.8 326.4h0M1365.9 439.7h0M1375.6 273.4h0M1357.6 229.0h0M1395.5 293.1h0M1469.5 302.2h0M1363.8 332.0h0M1369.1 302.4h0M1359.6 312.3h0M1405.8 353.4h0M1370.7 384.7h0M1478.0 330.2h0M1372.8 365.5h0M1384.9 279.0h0M1367.6 324.5h0M1392.6 306.2h0M1363.6 330.5h0M1370.7 305.0h0M1364.4 207.2h0M1379.9 330.8h0M1358.8 280.0h0M1392.3 337.5h0M1396.1 332.8h0M1364.3 335.9h0M1378.6 316.1h0M1371.9 314.8h0M1360.9 329.9h0M1375.6 323.6h0M1360.8 343.2h0M1369.4 259.5h0M1364.2 246.9h0M1360.1 304.4h0M1367.4 243.9h0M1360.0 379.8h0M1372.3 342.1h0M1364.6 413.3h0M1378.2 330.0h0M1361.0 346.9h0M1357.8 322.9h0M1363.0 224.4h0M1376.1 312.6h0M1357.9 279.2h0M1362.2 245.4h0M1365.3 245.8h0M1370.2 231.2h0M1436.4 313.3h0M1383.3 300.3h0M1357.6 302.3h0M1393.3 317.3h0M1360.9 278.7h0M1737.7 314.0h0M1357.4 191.0h0M1388.9 277.8h0M1375.1 350.4h0M1363.2 305.0h0M1772.6 311.9h0M1377.3 271.7h0M1363.6 265.7h0M1357.8 278.7h0M1364.4 372.7h0M1402.0 302.5h0M1367.6 338.2h0M1373.6 349.1h0M1373.2 382.2h0M1369.1 341.9h0M1365.3 253.3h0M1365.6 327.5h0M1372.6 389.7h0M1357.0 211.1h0M1357.5 334.6h0M1453.3 306.3h0M1356.6 245.6h0M1362.3 181.4h0M1372.2 316.1h0M1397.2 351.0h0M1369.9 288.2h0M1376.4 295.0h0M1363.2 439.5h0M1458.0 291.0h0M1358.0 241.2h0M1361.1 303.2h0M1358.1 205.8h0M1390.4 271.9h0M1366.8 327.9h0M1371.1 343.9h0M1372.5 291.3h0M1373.9 351.9h0M1358.6 384.0h0M1390.9 338.0h0M1380.5 275.6h0M1362.7 355.3h0M1381.5 323.6h0M1361.6 310.4h0M1357.3 302.2h0M1391.6 340.2h0M1452.3 325.6h0M1381.6 354.9h0M1360.3 254.3h0M1382.3 315.4h0M1369.2 236.8h0M1518.2 327.5h0M1363.3 292.8h0M1358.3 287.9h0M1370.9 319.8h0M1743.5 318.2h0M1374.0 254.7h0M1358.7 299.6h0M1361.9 354.2h0M1365.9 428.0h0M1401.8 286.0h0M1356.4 386.3h0M1380.0 344.4h0M1366.0 299.0h0M1366.3 305.4h0M1372.8 321.5h0M1849.0 315.9h0M1379.1 317.4h0M1371.6 337.7h0M1362.0 239.9h0M1747.8 316.7h0M1363.7 328.8h0M1415.6 325.5h0M1358.7 233.5h0M1359.3 302.3h0M1367.0 293.9h0M1366.7 282.8h0M1364.3 350.3h0M1367.0 365.4h0M1381.9 249.1h0M1359.7 211.6h0M1369.0 261.2h0M1357.9 346.5h0M1386.5 319.7h0M1372.7 315.2h0M1510.5 306.8h0M1370.7 300.2h0M1777.9 316.6h0M1358.0 249.6h0M1374.6 180.9h0M1406.4 311.9h0M1415.4 310.2h0M1391.0 305.3h0M1363.2 387.3h0M1386.7 315.0h0M1406.0 325.7h0M1369.4 288.3h0M1373.3 289.2h0M1449.2 298.3h0M1358.1 226.8h0M1366.3 324.7h0M1356.9 420.6h0M1362.7 311.6h0M1356.5 338.5h0M1371.1 313.2h0M1371.5 290.9h0M1367.1 337.3h0M1365.9 299.5h0M1372.5 288.8h0M1357.5 322.3h0M1388.0 300.0h0M1394.3 354.8h0M1365.6 343.0h0M1364.2 377.0h0M1361.2 285.6h0M1380.9 309.8h0M1367.2 374.4h0M1366.8 385.2h0M1385.1 286.6h0M1363.5 204.2h0M1368.8 363.3h0M1358.7 414.3h0M1374.7 333.7h0M1390.1 330.1h0M1388.1 300.2h0M1357.6 213.5h0M1373.6 298.3h0M1377.3 337.8h0M1362.1 290.8h0M1359.2 224.6h0M1370.7 328.6h0M1410.8 341.2h0M1360.7 282.7h0M1371.2 279.9h0M1435.0 327.0h0M1381.7 292.5h0M1375.9 254.3h0M1359.3 373.9h0M1359.9 300.7h0M1362.8 350.9h0M1390.8 329.0h0M1370.7 317.1h0M1665.0 307.4h0M1357.2 333.5h0M1411.8 303.7h0M1360.3 385.0h0M1356.3 337.4h0M1357.2 375.5h0M1356.6 345.0h0M1370.7 352.2h0M1356.2 244.5h0M1357.3 330.8h0M1360.2 320.8h0M1356.7 405.3h0M1464.3 308.9h0M1539.3 309.5h0M1363.5 312.2h0M1370.0 298.2h0M1358.0 340.1h0M1370.1 376.7h0M1383.8 276.9h0M1369.8 362.4h0M1365.7 382.2h0M1450.3 330.9h0M1382.6 307.5h0M1363.8 316.8h0M1407.7 269.6h0M1390.8 274.9h0M1362.8 417.4h0M1369.5 250.2h0M1413.0 297.3h0M1369.5 242.5h0M1362.8 315.7h0M1389.0 397.5h0M1371.5 404.7h0M1361.1 284.7h0M1367.8 229.6h0M1761.2 313.9h0M1392.7 339.3h0M1468.1 327.6h0M1381.8 287.1h0M1506.4 324.9h0M1665.4 328.5h0M1388.8 306.8h0M1377.4 258.2h0M1371.8 281.2h0M1364.5 318.8h0M1363.9 305.2h0M1367.1 322.5h0M1363.0 319.5h0M1369.9 336.2h0M1367.0 326.5h0M1384.3 266.3h0M1359.6 357.5h0M1468.5 306.8h0M1373.1 280.3h0M1447.9 327.3h0M1397.0 310.0h0M1411.4 296.5h0M1368.1 305.5h0M1369.2 263.9h0M1365.3 300.8h0M1383.9 214.7h0M1388.0 353.5h0M1361.9 295.6h0M1375.8 325.6h0M1356.3 337.9h0M1367.7 303.5h0M1362.7 298.4h0M1383.1 235.2h0M1365.4 354.7h0M1358.3 384.3h0M1370.5 426.3h0M1367.6 310.6h0M1361.0 356.8h0M1367.1 320.6h0M1360.3 287.3h0M1378.0 318.5h0M1476.2 341.1h0M1364.9 264.8h0M1375.7 393.1h0M1368.6 190.6h0M1365.1 427.2h0M1366.6 329.3h0M1357.7 323.2h0M1361.2 262.9h0M1359.3 288.6h0M1359.3 280.5h0M1379.6 204.8h0M1399.0 339.2h0M1387.4 282.9h0M1381.2 311.5h0M1363.7 354.7h0M1359.7 300.7h0M1365.3 369.7h0M1406.2 287.6h0M1357.1 344.1h0M1363.3 291.6h0M1391.1 298.8h0M1363.8 191.2h0M1403.4 344.5h0M1375.5 306.0h0M1358.2 339.1h0M1362.2 221.1h0M1365.5 318.5h0M1370.4 331.0h0M1587.0 309.1h0M1358.6 341.1h0M1374.4 309.1h0M1405.1 286.1h0M1370.6 311.7h0M1569.4 306.8h0M1360.1 279.2h0M1367.0 247.3h0M1376.4 339.4h0M1364.2 310.7h0M1376.6 329.9h0M1374.8 321.3h0M1418.4 303.2h0M1363.2 347.3h0M1477.0 300.6h0M1360.2 248.4h0M1359.8 257.4h0M1373.6 308.6h0M1361.3 325.8h0M1376.0 372.9h0M1372.9 378.0h0M1363.0 277.5h0M1395.8 346.9h0M1374.2 276.7h0M1361.0 400.6h0M1360.0 294.2h0M1371.8 331.1h0M1361.7 250.9h0M1594.7 323.9h0M1358.1 328.5h0M1363.9 397.1h0M1362.0 290.4h0M1414.4 320.0h0M1408.9 336.6h0M1382.9 336.7h0M1361.4 372.2h0M1356.3 354.7h0M1372.7 352.8h0M1364.4 352.8h0M1385.5 257.6h0M1421.3 331.9h0M1359.5 320.2h0M1389.3 304.8h0M1357.2 309.2h0M1811.2 313.3h0M1371.7 342.5h0M1361.1 363.4h0M1363.3 397.5h0M1372.9 339.1h0M1356.6 425.3h0M1444.9 307.2h0M1381.6 336.2h0M1365.3 313.4h0M1358.6 231.7h0M1360.7 338.9h0M1362.2 352.2h0M1397.9 281.1h0M1382.9 329.3h0M1402.0 296.9h0M1387.2 351.5h0M1359.8 332.2h0M1362.7 449.5h0M1362.5 303.6h0M1408.3 328.7h0M1365.4 234.9h0M1445.4 303.6h0M1359.0 421.3h0M1377.1 292.5h0M1359.9 216.7h0M1364.4 269.7h0M1373.3 355.9h0M1364.2 382.4h0M1380.7 361.6h0M1367.8 336.9h0M1403.9 278.4h0M1363.4 405.6h0M1357.1 365.3h0M1369.8 337.6h0M1363.1 281.9h0M1394.7 288.7h0M1400.8 338.8h0M1362.5 344.6h0M1399.6 205.0h0M1384.6 348.5h0M1359.1 292.0h0M1356.8 270.5h0M1376.3 312.1h0M1359.2 360.4h0M1364.1 369.5h0M1421.2 356.7h0M1360.3 338.2h0M1385.2 298.5h0M1370.0 332.6h0M1758.6 313.3h0M1361.6 397.4h0M1360.6 356.5h0M1380.5 319.0h0M1384.3 439.3h0M1363.6 349.2h0M1366.7 371.7h0M1364.0 218.6h0M1361.7 247.8h0M1375.6 304.4h0M1377.4 246.7h0M1356.3 216.1h0M1360.9 305.0h0M1362.6 299.6h0M1383.5 369.7h0M1365.8 273.0h0M1372.4 329.0h0M1359.9 404.8h0M1358.8 309.8h0M1367.4 286.9h0M1376.2 344.5h0M1370.2 328.5h0M1356.2 373.1h0M1374.1 336.5h0M1356.2 336.2h0M1361.3 276.7h0M1364.7 231.0h0M1385.7 354.6h0M1375.4 341.0h0M1398.7 308.6h0M1481.0 310.4h0M1362.7 324.1h0M1362.5 318.7h0M1366.4 387.1h0M1366.1 263.1h0M1374.9 377.0h0M1386.2 316.9h0M1387.5 278.6h0M1364.3 309.1h0M1360.6 282.4h0M1357.1 320.3h0M1364.9 287.4h0M1447.9 302.0h0M1361.1 299.5h0M1395.1 341.7h0M1359.4 181.4h0M1559.4 345.2h0M1365.8 191.5h0M1366.9 325.4h0M1372.1 338.2h0M1360.1 301.0h0M1586.0 338.1h0M1360.3 300.2h0M1358.0 343.0h0M1385.8 289.9h0M1367.4 371.2h0M1359.1 291.3h0M1374.0 251.2h0M1409.6 329.8h0M1433.9 308.0h0M1366.8 326.5h0M1379.3 294.7h0M1369.3 377.8h0M1382.4 333.8h0M1372.6 334.1h0M1366.7 335.1h0M1415.2 320.6h0M1786.3 314.9h0M1379.2 180.8h0M1357.5 281.2h0M1363.2 362.0h0M1397.9 301.2h0M1379.3 313.6h0M1386.6 331.0h0M1364.3 281.3h0M1357.7 225.1h0M1589.4 325.0h0M1380.1 327.4h0M1379.2 303.6h0M1357.1 412.9h0M1363.7 233.1h0M1358.6 315.0h0M1417.1 317.6h0M1754.1 318.6h0M1435.6 330.4h0M1365.3 369.9h0M1381.5 356.8h0M1373.1 356.9h0M1391.1 368.4h0M1358.7 380.2h0M1359.1 427.2h0M1363.0 360.4h0M1374.4 272.6h0M1397.6 299.4h0M1356.2 348.2h0"/>
<path stroke="#fff" stroke-width="3.4" stroke-opacity="0.16" d="M1386.8 316.6h0M1363.7 257.5h0M1361.3 373.8h0M1366.6 352.4h0M1406.6 318.0h0M1381.1 414.9h0M1368.2 305.5h0M1384.3 345.7h0M1429.7 334.5h0M1357.6 252.8h0M1361.0 213.7h0M1387.0 289.6h0M1380.2 376.0h0M1363.6 204.1h0M1416.6 333.0h0M1371.7 340.3h0M1767.8 317.5h0M1393.6 350.2h0M1365.8 380.9h0M1365.6 273.7h0M1361.4 258.5h0M1385.6 305.1h0M1376.6 319.9h0M1362.5 354.6h0M1470.6 302.9h0M1553.5 308.9h0M1652.1 309.9h0M1386.2 362.2h0M1356.7 427.1h0M1369.9 334.4h0M1376.0 321.0h0M1407.6 301.7h0M1365.0 328.9h0M1379.4 389.4h0M1365.2 350.3h0M1356.4 349.0h0M1380.8 450.8h0M1358.0 360.8h0M1364.9 341.8h0M1377.9 384.4h0M1380.6 306.3h0M1389.8 328.6h0M1363.5 351.1h0M1372.1 343.7h0M1359.3 349.2h0M1390.7 319.2h0M1378.5 321.0h0M1602.4 306.6h0M1366.8 363.5h0M1751.8 313.6h0M1377.9 265.2h0M1362.1 426.6h0M1398.7 311.2h0M1376.4 190.2h0M1360.6 227.5h0M1362.7 234.1h0M1464.1 332.6h0M1385.3 308.7h0M1368.5 258.1h0M1373.0 180.9h0M1357.9 267.9h0M1367.3 414.9h0M1357.2 239.3h0M1370.7 213.2h0M1359.9 338.0h0M1391.7 283.8h0M1377.8 342.7h0M1376.6 362.1h0M1832.0 316.7h0M1513.6 327.0h0M1791.6 314.9h0M1364.2 299.8h0M1380.2 304.2h0M1359.3 292.6h0M1357.2 252.6h0M1372.0 312.5h0M1378.5 363.7h0M1381.9 289.0h0M1361.7 288.2h0M1367.9 321.6h0M1382.6 329.5h0M1371.3 358.3h0M1375.4 300.5h0M1382.2 390.2h0M1369.7 279.7h0M1373.0 323.3h0M1369.3 260.9h0M1365.5 397.3h0M1363.6 315.8h0M1367.4 290.9h0M1359.1 392.3h0M1384.5 329.4h0M1386.1 295.2h0M1402.1 309.2h0M1363.1 315.5h0M1469.7 326.8h0M1744.6 318.5h0M1381.3 256.9h0M1365.0 288.2h0M1367.0 281.5h0M1357.8 332.8h0M1363.4 280.1h0M1363.0 347.5h0M1358.8 279.4h0M1406.7 337.4h0M1388.2 355.6h0M1362.2 333.3h0M1358.3 307.2h0M1360.7 377.9h0M1385.2 311.2h0M1449.8 299.0h0M1365.5 357.7h0M1362.2 228.7h0M1359.7 399.9h0M1377.3 350.4h0M1383.9 282.9h0M1383.6 308.2h0M1386.8 284.3h0M1369.2 295.3h0M1364.2 399.8h0M1365.8 259.5h0M1370.2 316.2h0M1357.9 284.8h0M1385.2 345.2h0M1374.4 355.6h0M1357.8 385.2h0M1373.3 322.7h0M1386.5 276.9h0M1377.2 286.4h0M1357.9 383.1h0M1363.4 314.3h0M1359.6 305.3h0M1362.7 181.7h0M1366.8 291.4h0M1434.6 334.0h0M1360.4 356.7h0M1363.8 349.8h0M1388.8 306.8h0M1356.5 327.6h0M1356.6 294.7h0M1424.3 319.7h0M1439.7 302.7h0M1356.3 374.0h0M1420.7 321.5h0M1375.6 321.7h0M1384.5 333.1h0M1361.4 450.0h0M1406.4 326.3h0M1373.8 309.8h0M1373.5 341.5h0M1371.4 377.1h0M1367.0 264.2h0M1362.6 191.5h0M1356.6 220.0h0M1395.1 313.9h0M1418.9 294.9h0M1396.1 314.9h0M1360.3 350.6h0M1374.6 328.5h0M1364.0 416.8h0M1380.5 301.0h0M1379.9 317.8h0M1363.3 340.7h0M1369.4 237.5h0M1367.1 322.8h0M1357.7 204.8h0M1369.4 296.4h0M1405.2 300.6h0M1358.4 312.1h0M1373.8 366.0h0M1369.0 354.2h0M1380.3 336.1h0M1364.1 279.1h0M1374.0 283.6h0M1374.4 294.4h0M1356.9 237.1h0M1496.4 304.6h0M1767.2 313.5h0M1371.1 343.9h0M1373.9 204.1h0M1364.3 331.2h0M1637.8 307.6h0M1857.7 314.6h0M1378.5 287.7h0M1376.2 339.6h0M1380.0 313.8h0M1367.9 267.0h0M1387.0 310.0h0M1819.7 314.0h0M1382.8 337.7h0M1361.5 290.4h0M1378.5 318.8h0M1359.5 363.2h0M1357.8 182.0h0M1363.0 256.7h0M1386.1 347.9h0M1362.5 221.8h0M1402.7 323.7h0M1367.4 336.5h0M1364.9 362.3h0M1409.7 307.9h0M1361.2 308.0h0M1359.6 439.9h0M1372.1 362.3h0M1363.3 328.5h0M1443.1 295.2h0M1367.3 349.3h0M1373.9 315.5h0M1358.7 409.3h0M1387.9 300.5h0M1639.4 330.4h0M1399.6 301.4h0M1363.6 217.8h0M1381.4 281.2h0M1375.2 349.7h0M1438.2 339.9h0M1356.3 317.7h0M1360.6 292.8h0M1377.9 306.5h0M1377.7 309.8h0M1421.6 325.3h0M1363.7 325.2h0M1365.2 271.3h0M1402.1 324.1h0M1381.0 354.2h0M1357.8 238.9h0M1374.3 361.4h0M1379.9 274.0h0M1401.2 328.3h0M1359.6 181.3h0M1420.9 337.5h0M1370.3 365.6h0M1376.5 357.8h0M1361.7 439.0h0M1377.8 298.0h0M1366.2 390.5h0M1793.9 316.4h0M1454.4 302.1h0M1359.4 242.0h0M1356.2 279.7h0M1367.1 284.5h0M1610.0 324.6h0M1382.2 439.5h0M1356.2 367.5h0M1368.1 307.7h0M1466.9 312.1h0M1358.9 347.2h0M1356.5 304.6h0M1365.0 421.7h0M1361.8 306.4h0M1360.1 269.0h0M1427.1 304.5h0M1381.7 283.1h0M1383.2 296.6h0M1369.1 349.3h0M1359.7 330.8h0M1403.4 332.7h0M1374.8 296.6h0M1363.8 427.5h0M1377.9 246.9h0M1369.8 275.1h0M1360.4 413.0h0M1368.3 334.4h0M1364.0 355.8h0M1390.2 338.3h0M1358.1 214.9h0M1364.4 389.0h0M1359.0 254.7h0M1363.0 399.4h0M1360.0 241.8h0M1375.4 339.2h0M1357.2 297.8h0M1360.2 308.4h0M1379.9 313.3h0M1418.0 295.9h0M1399.2 301.6h0M1409.3 337.3h0M1364.8 314.2h0M1737.6 331.6h0M1358.1 401.9h0M1372.0 256.1h0M1365.1 355.4h0M1382.8 286.4h0M1382.7 323.2h0M1360.6 396.2h0M1356.1 350.6h0M1367.9 333.9h0M1379.5 325.8h0M1365.7 276.8h0M1366.7 275.4h0M1362.7 416.6h0M1384.1 260.1h0M1358.7 207.8h0M1372.0 298.1h0M1378.9 309.5h0M1367.0 398.2h0M1409.5 319.9h0M1499.1 335.1h0M1377.7 318.4h0M1372.9 348.1h0M1387.1 343.6h0M1744.3 315.0h0M1372.2 322.8h0M1357.9 317.7h0M1362.6 364.8h0M1408.4 298.1h0M1384.1 290.9h0M1359.1 290.5h0M1394.5 310.9h0M1376.6 319.8h0M1378.0 295.2h0M1364.5 411.9h0M1362.0 246.2h0M1419.6 318.5h0M1360.0 255.8h0M1361.6 291.1h0M1366.3 335.7h0M1364.9 320.3h0M1372.3 351.7h0M1739.7 316.8h0M1379.1 351.3h0M1372.5 301.9h0M1361.8 292.0h0M1763.3 314.0h0M1364.1 361.9h0M1360.2 297.7h0M1358.3 205.4h0M1361.2 272.5h0M1481.9 307.6h0M1381.8 312.5h0M1368.1 261.6h0M1369.8 342.6h0M1387.4 289.0h0M1360.3 260.2h0M1357.5 277.7h0M1386.6 352.4h0M1365.0 251.4h0M1366.1 348.4h0M1361.7 216.9h0M1377.2 355.8h0M1421.7 341.2h0M1360.8 368.5h0M1388.9 358.2h0M1373.3 300.7h0M1389.4 344.6h0M1394.6 322.9h0M1827.8 312.0h0M1413.4 314.6h0M1357.4 425.0h0M1356.2 450.1h0M1363.2 238.9h0M1399.7 309.3h0M1373.9 244.1h0M1364.8 272.6h0M1403.5 297.9h0M1408.3 331.2h0M1362.4 352.0h0M1369.2 328.6h0M1622.9 308.3h0M1367.7 329.1h0M1358.3 347.0h0M1400.1 308.4h0M1383.5 268.6h0M1366.2 280.8h0M1356.4 234.7h0M1363.4 343.3h0M1368.7 270.7h0M1370.6 358.8h0M1477.8 306.1h0M1740.9 316.2h0M1365.3 336.6h0M1373.1 264.2h0M1369.6 286.6h0M1375.8 302.8h0M1367.5 350.0h0M1370.2 339.0h0M1363.5 372.5h0M1365.5 237.0h0M1372.3 337.3h0M1371.4 275.3h0M1366.1 402.2h0M1392.6 296.5h0M1359.8 409.7h0M1454.8 299.3h0M1359.3 273.6h0M1383.1 337.6h0M1405.1 298.0h0M1361.3 421.0h0M1379.2 319.3h0M1383.3 300.9h0M1387.5 354.3h0M1357.2 191.3h0M1366.1 347.8h0M1389.9 366.9h0M1397.4 338.5h0M1365.2 395.9h0M1357.7 257.2h0M1377.6 370.1h0M1363.8 274.8h0M1363.7 409.9h0M1357.3 316.8h0M1387.0 330.4h0M1373.3 307.3h0M1358.2 226.4h0M1361.0 369.6h0M1807.5 314.6h0M1357.5 387.2h0M1406.0 294.5h0M1360.5 310.1h0M1361.2 306.3h0M1384.1 363.1h0M1360.9 324.4h0M1359.3 325.4h0M1358.3 373.7h0M1378.7 271.8h0M1403.1 298.5h0M1368.6 268.0h0M1366.9 254.8h0M1379.4 243.6h0M1359.0 449.6h0M1360.7 362.7h0M1360.1 334.4h0M1524.0 336.6h0M1357.6 411.0h0M1391.1 322.5h0M1366.2 353.1h0M1390.9 289.4h0M1360.0 204.2h0M1379.2 367.9h0M1368.5 273.8h0M1371.7 399.7h0M1357.5 356.5h0M1363.5 204.9h0M1441.5 316.5h0M1401.3 330.3h0M1361.6 215.3h0M1789.9 320.4h0M1366.5 317.5h0M1376.5 315.8h0M1365.1 309.4h0M1356.8 292.0h0M1358.1 305.5h0M1369.5 256.4h0M1367.5 405.4h0M1383.3 282.0h0M1363.0 258.4h0M1365.6 215.0h0M1365.6 246.9h0M1369.2 303.4h0M1362.3 373.5h0M1399.8 296.2h0M1359.3 263.4h0M1449.4 348.3h0M1364.4 357.8h0M1402.5 334.0h0M1395.0 340.4h0M1398.2 291.9h0M1363.8 212.1h0M1372.5 354.6h0M1358.9 267.4h0M1365.4 311.7h0M1401.8 325.6h0M1366.8 261.3h0M1553.2 301.3h0M1417.8 297.4h0M1359.4 364.7h0M1394.7 318.2h0M1373.3 358.8h0M1371.0 385.3h0M1385.2 324.7h0M1383.0 278.6h0M1433.1 326.4h0M1357.4 370.5h0M1486.9 322.0h0M1414.0 333.7h0M1365.2 191.8h0M1373.0 343.2h0M1358.4 428.0h0M1742.7 313.5h0M1450.6 326.4h0M1406.6 282.1h0M1358.8 303.7h0M1364.9 380.0h0M1358.3 254.4h0M1363.9 316.1h0M1359.6 254.4h0M1783.4 312.9h0M1360.4 302.7h0M1388.3 284.1h0M1384.7 356.8h0M1359.4 427.3h0M1364.5 180.6h0M1529.6 307.3h0M1379.8 450.2h0M1375.3 316.7h0M1359.9 370.8h0M1403.4 332.7h0M1357.5 301.0h0M1365.8 204.4h0M1374.2 263.9h0M1360.3 267.1h0M1432.0 272.7h0M1359.8 395.9h0M1417.1 306.2h0M1408.1 329.7h0M1367.8 341.7h0M1441.0 287.8h0M1366.1 343.5h0M1387.4 328.4h0M1362.3 339.8h0M1417.8 316.5h0M1411.8 313.8h0M1390.6 334.3h0M1368.7 254.6h0M1369.0 259.8h0M1363.2 330.6h0M1372.1 387.8h0M1391.9 301.7h0M1361.8 311.4h0M1370.8 348.0h0M1365.7 291.1h0M1363.6 315.2h0M1372.6 344.4h0M1374.5 339.1h0M1357.0 399.2h0M1559.7 324.8h0M1376.5 334.4h0M1365.6 390.5h0M1369.1 392.9h0M1375.4 303.0h0M1404.9 312.7h0M1453.5 300.0h0M1360.8 315.2h0M1594.8 308.9h0M1399.9 319.7h0M1376.8 263.3h0M1372.9 312.9h0M1364.3 316.6h0M1359.5 312.1h0M1370.3 427.3h0M1357.9 260.4h0M1364.5 358.7h0M1360.4 263.7h0M1360.5 302.4h0M1364.3 439.5h0M1516.3 325.2h0M1834.2 315.3h0M1363.7 327.3h0M1363.4 245.0h0M1363.9 274.4h0M1541.8 321.0h0M1367.8 362.9h0M1399.7 309.8h0M1394.3 316.2h0M1365.3 283.6h0M1364.8 204.2h0M1367.8 282.1h0M1407.0 323.8h0M1371.5 295.2h0M1371.3 342.7h0M1361.2 354.3h0M1362.0 339.1h0M1373.2 309.7h0M1377.5 290.4h0M1362.3 326.9h0M1386.7 312.0h0M1413.6 333.5h0M1379.2 278.7h0M1367.3 380.1h0M1391.3 326.7h0M1434.2 331.0h0M1366.1 385.7h0M1369.5 317.6h0M1356.1 259.6h0M1378.4 331.7h0M1363.6 376.7h0M1356.3 268.8h0M1361.3 413.8h0M1360.0 288.6h0M1365.0 330.1h0M1367.8 292.4h0M1443.6 300.9h0M1392.9 329.6h0M1360.2 427.1h0M1374.8 366.6h0M1410.2 309.1h0M1384.4 336.8h0M1367.6 294.7h0M1409.8 319.8h0M1441.2 325.7h0M1364.2 371.8h0M1372.6 224.1h0M1387.2 274.1h0M1376.2 364.8h0M1376.0 269.1h0M1375.1 277.5h0M1366.2 394.2h0M1410.4 304.4h0M1362.6 289.2h0M1357.8 355.6h0M1359.5 309.5h0M1358.2 410.2h0M1368.6 353.5h0M1361.7 289.6h0M1359.0 408.8h0M1376.0 297.4h0M1379.4 270.0h0M1409.1 328.3h0M1362.2 361.3h0M1358.3 320.1h0M1360.1 341.4h0M1371.8 367.6h0M1388.2 335.2h0M1369.9 390.2h0M1360.2 238.8h0M1376.2 337.3h0M1431.1 302.0h0M1359.0 257.7h0M1364.2 349.1h0M1397.5 309.9h0M1365.6 222.8h0M1358.4 240.3h0M1411.3 317.2h0M1370.8 291.0h0M1374.0 365.0h0M1358.2 294.4h0M1401.4 313.7h0M1363.9 329.1h0M1381.7 380.8h0M1370.9 392.9h0M1376.6 355.9h0M1361.1 191.3h0M1403.7 352.7h0M1387.3 349.6h0M1366.2 227.6h0M1368.0 332.3h0M1366.3 259.8h0M1413.0 316.2h0M1382.7 292.2h0M1359.5 227.1h0M1359.8 228.8h0M1389.6 336.5h0M1388.8 277.3h0M1382.4 325.8h0M1533.8 309.7h0M1380.3 335.6h0M1383.5 291.9h0M1371.4 319.2h0M1366.0 333.7h0M1374.5 311.3h0M1446.6 300.6h0M1516.0 327.5h0M1357.2 232.4h0M1379.1 256.0h0M1359.9 355.7h0M1362.1 449.9h0M1366.1 252.8h0M1364.4 287.6h0M1410.6 307.0h0M1356.2 270.0h0M1361.9 407.8h0M1373.4 398.7h0M1364.3 330.5h0M1376.3 288.5h0M1371.5 307.6h0M1431.3 332.5h0M1370.3 314.5h0M1367.0 286.6h0M1356.2 345.2h0M1366.9 325.2h0M1377.4 315.8h0M1371.4 331.9h0M1357.1 389.5h0M1359.9 380.3h0M1370.5 308.1h0M1370.2 301.9h0M1371.6 359.3h0M1475.9 307.7h0M1378.3 330.2h0M1383.6 357.5h0M1360.9 283.0h0M1363.0 322.5h0M1356.4 380.4h0M1358.6 402.3h0M1378.3 347.0h0M1364.0 290.9h0M1419.5 286.6h0M1403.7 315.4h0M1380.8 314.3h0M1358.6 303.1h0M1363.4 385.1h0M1361.4 350.3h0M1363.6 204.3h0M1377.3 353.6h0M1367.1 353.9h0M1362.6 419.5h0M1366.0 244.1h0M1370.5 378.1h0M1378.1 328.2h0M1357.6 397.5h0M1368.4 334.4h0M1363.2 321.3h0M1365.1 230.9h0M1370.4 342.6h0M1382.4 316.1h0M1370.7 326.8h0M1395.1 337.5h0M1408.3 296.5h0M1367.4 311.7h0M1364.6 218.3h0M1385.2 319.8h0M1363.6 402.5h0M1357.8 392.0h0M1364.5 308.3h0M1370.5 308.0h0M1400.3 337.8h0M1363.8 227.8h0M1356.5 349.9h0M1363.8 325.8h0M1363.8 345.1h0M1412.5 315.0h0M1372.4 324.5h0M1363.6 281.7h0M1362.4 394.4h0M1362.8 335.4h0M1366.8 334.5h0M1373.1 272.9h0M1356.6 228.9h0M1368.8 268.0h0M1379.6 320.3h0M1565.0 329.0h0M1425.0 330.4h0M1357.4 204.1h0M1366.3 312.0h0M1380.2 346.2h0M1360.9 330.5h0M1357.5 320.1h0M1617.8 311.1h0M1382.5 236.6h0M1419.4 323.0h0M1367.0 314.2h0M1377.1 298.8h0M1362.6 181.7h0M1400.6 333.7h0M1367.9 257.8h0M1356.4 325.2h0M1382.4 427.3h0M1373.6 381.7h0M1363.5 382.1h0M1367.8 344.3h0M1471.0 274.6h0M1373.2 251.9h0M1363.8 239.5h0M1393.0 343.7h0M1371.8 307.7h0M1357.8 228.1h0M1472.8 306.2h0M1363.2 326.1h0M1365.1 371.8h0M1373.7 390.7h0M1389.0 359.4h0M1367.9 359.1h0M1364.7 191.7h0M1366.0 322.4h0M1361.5 357.7h0M1366.8 257.7h0M1356.4 296.0h0M1370.6 254.2h0M1358.8 285.5h0M1374.8 268.6h0M1363.6 269.0h0M1360.4 364.8h0M1370.0 286.5h0M1365.2 247.0h0M1404.0 298.4h0M1364.4 326.0h0M1361.6 260.1h0M1402.4 323.3h0M1378.0 272.7h0M1804.2 316.4h0M1365.2 336.4h0M1377.4 299.5h0M1356.9 322.1h0M1359.5 439.2h0M1372.4 323.6h0M1390.0 322.3h0M1495.0 301.9h0M1381.1 264.5h0M1383.9 335.4h0M1356.9 365.6h0M1362.4 297.6h0M1363.1 252.2h0M1378.5 325.1h0M1360.5 319.9h0M1374.9 362.5h0M1402.7 334.8h0M1357.5 285.6h0M1404.4 370.1h0M1356.4 283.8h0M1365.1 318.9h0M1593.0 310.0h0M1359.5 362.6h0M1356.3 304.7h0M1397.6 282.5h0M1393.0 297.5h0M1356.9 331.3h0M1368.1 206.7h0M1552.5 310.9h0M1417.5 331.0h0M1378.4 292.8h0M1377.9 339.0h0M1764.6 315.8h0M1380.5 284.6h0M1429.9 321.4h0M1361.5 426.9h0M1370.1 327.1h0M1370.7 258.8h0M1366.0 377.2h0M1361.7 295.3h0M1402.6 324.8h0M1371.3 244.9h0M1450.8 315.8h0M1427.6 295.4h0M1366.6 344.9h0M1364.0 206.1h0M1389.3 300.8h0M1363.7 370.5h0M1365.8 303.6h0M1359.9 335.1h0M1356.5 232.1h0M1378.5 352.6h0M1396.2 302.2h0M1365.0 249.3h0M1370.4 284.0h0M1388.0 356.5h0M1399.2 256.3h0M1362.0 281.1h0M1376.2 313.0h0M1359.6 294.9h0M1381.5 318.5h0M1496.2 321.7h0M1401.3 311.9h0M1433.0 313.5h0M1390.6 372.4h0M1761.4 313.5h0M1364.6 303.1h0M1358.6 439.0h0M1357.0 341.0h0M1400.2 328.3h0M1367.8 289.8h0M1385.8 304.7h0M1356.3 288.2h0M1465.5 328.4h0M1384.2 335.0h0M1368.9 276.6h0M1372.7 290.0h0M1357.4 372.3h0M1364.7 250.8h0M1393.3 296.1h0M1365.1 263.0h0M1384.8 297.5h0M1366.6 363.6h0M1367.9 410.4h0M1373.5 376.2h0M1359.0 271.6h0M1362.5 234.0h0M1363.0 318.2h0M1367.4 372.6h0M1388.6 290.8h0M1531.2 328.3h0M1368.8 341.1h0M1372.5 319.7h0M1370.3 322.3h0M1382.1 390.7h0M1801.7 314.2h0M1365.8 300.9h0M1359.6 348.8h0M1358.8 323.9h0M1360.8 291.5h0M1471.1 330.2h0M1381.9 295.0h0M1376.1 439.1h0M1406.4 307.1h0M1403.5 313.1h0M1361.7 318.6h0M1362.1 180.5h0M1360.8 439.7h0M1358.2 271.8h0M1367.6 450.2h0M1357.2 439.2h0M1364.1 296.8h0M1378.0 312.8h0M1365.5 248.9h0M1462.0 315.2h0M1368.5 234.2h0M1356.6 302.9h0M1378.2 282.6h0M1369.9 395.5h0M1368.6 327.6h0M1364.3 362.2h0M1365.8 254.8h0M1393.1 362.7h0M1384.6 322.7h0M1412.2 340.6h0M1801.6 316.8h0M1391.2 370.7h0M1376.3 312.2h0M1362.1 224.0h0M1431.8 296.6h0M1358.9 350.4h0M1369.3 240.4h0M1359.5 363.5h0M1557.2 331.3h0M1364.5 220.1h0M1360.6 380.3h0M1417.7 340.6h0M1364.3 314.8h0M1366.9 273.8h0M1388.4 316.5h0M1362.4 424.3h0M1464.4 309.5h0M1364.0 449.6h0M1374.4 280.9h0M1370.9 339.4h0M1375.3 270.5h0M1398.9 309.3h0M1386.0 297.2h0M1359.1 427.6h0M1384.5 265.7h0M1436.8 296.5h0M1384.1 309.7h0M1386.7 304.0h0M1414.4 304.6h0M1455.0 335.7h0M1400.5 310.3h0M1357.3 320.3h0M1777.2 314.3h0M1372.6 333.9h0M1382.2 286.1h0M1369.6 274.7h0M1371.4 319.6h0M1402.9 306.2h0M1378.6 282.9h0M1362.7 345.4h0M1358.4 380.1h0M1369.3 190.8h0M1370.5 342.8h0M1374.4 323.9h0M1370.2 299.5h0M1356.2 267.2h0M1358.7 303.5h0M1772.6 317.3h0M1454.3 328.6h0M1363.9 204.6h0M1372.1 331.3h0M1362.3 366.0h0M1384.9 330.0h0M1407.1 308.5h0M1398.8 377.6h0M1375.5 252.2h0M1473.9 322.4h0M1758.5 317.2h0M1380.1 316.3h0M1366.2 337.2h0M1376.5 315.4h0M1360.0 344.0h0M1382.3 281.1h0M1361.6 426.5h0M1411.3 291.5h0M1470.0 305.2h0M1377.1 354.9h0M1388.2 264.3h0M1359.9 325.6h0M1374.6 278.9h0M1412.0 307.1h0M1405.7 303.9h0M1356.3 345.3h0M1372.7 350.7h0M1386.0 313.6h0M1362.0 278.3h0M1480.8 305.6h0M1382.1 329.1h0M1391.0 365.7h0M1378.6 284.7h0M1399.5 291.8h0M1606.8 309.3h0M1359.4 343.5h0M1386.4 304.7h0M1362.8 215.5h0M1367.9 341.1h0M1383.8 347.8h0M1401.1 307.9h0M1473.2 305.7h0M1367.1 346.6h0M1386.6 281.3h0M1359.4 317.7h0M1384.8 348.3h0M1366.7 315.9h0M1370.0 300.6h0M1358.5 239.9h0M1500.3 311.3h0M1396.2 318.4h0M1396.9 304.1h0M1357.2 191.6h0M1360.7 438.8h0M1397.5 321.4h0M1357.6 380.6h0M1408.5 345.0h0M1364.0 300.3h0M1388.9 318.0h0M1368.6 286.9h0M1382.9 316.5h0M1376.3 205.2h0M1360.7 323.8h0M1410.6 311.1h0M1361.8 391.8h0M1562.0 305.8h0M1377.3 313.4h0M1367.9 278.0h0M1372.1 371.1h0M1360.1 421.6h0M1396.3 274.7h0M1475.5 304.9h0M1398.9 334.7h0M1356.9 426.9h0M1388.7 301.4h0M1358.3 311.9h0M1379.2 318.2h0M1381.8 288.7h0M1367.5 341.2h0M1358.6 204.5h0M1366.7 404.5h0M1368.0 241.7h0M1359.7 329.7h0M1356.8 269.8h0M1466.4 307.3h0M1379.1 404.3h0M1432.3 341.8h0M1375.1 334.6h0M1372.8 335.7h0M1360.5 354.0h0M1357.0 359.1h0M1521.4 307.3h0M1374.9 287.2h0M1421.4 294.5h0M1373.5 300.5h0M1356.2 252.7h0M1365.2 383.3h0M1362.9 181.5h0M1359.9 297.1h0M1360.8 351.3h0M1385.1 320.1h0M1362.6 334.0h0M1367.8 390.1h0M1372.8 363.5h0M1367.9 248.8h0M1357.8 181.5h0M1374.3 366.2h0M1357.9 305.0h0M1392.6 311.3h0M1553.3 307.7h0M1741.3 313.7h0M1403.8 325.6h0M1357.2 306.8h0M1366.4 280.3h0M1367.7 218.8h0M1361.0 347.4h0M1367.8 297.2h0M1566.3 327.6h0M1384.2 302.0h0M1380.1 331.3h0M1392.8 306.5h0M1360.2 205.0h0M1360.4 192.0h0M1397.3 327.4h0M1357.7 449.5h0M1372.6 364.4h0M1545.0 307.2h0M1397.8 309.8h0M1365.0 325.6h0M1371.1 280.3h0M1367.0 450.4h0M1467.8 315.2h0M1374.6 370.6h0M1764.5 318.4h0M1357.2 361.9h0M1375.9 292.0h0M1364.7 340.0h0M1379.1 269.8h0M1390.9 359.4h0M1359.3 425.0h0M1387.5 267.1h0M1370.3 351.5h0M1385.8 326.4h0M1365.9 439.7h0M1375.6 273.4h0M1357.6 229.0h0M1395.5 293.1h0M1469.5 302.2h0M1363.8 332.0h0M1369.1 302.4h0M1359.6 312.3h0M1405.8 353.4h0M1370.7 384.7h0M1478.0 330.2h0M1372.8 365.5h0M1384.9 279.0h0M1367.6 324.5h0M1392.6 306.2h0M1363.6 330.5h0M1370.7 305.0h0M1364.4 207.2h0M1379.9 330.8h0M1358.8 280.0h0M1392.3 337.5h0M1396.1 332.8h0M1364.3 335.9h0M1378.6 316.1h0M1371.9 314.8h0M1360.9 329.9h0M1375.6 323.6h0M1360.8 343.2h0M1369.4 259.5h0M1364.2 246.9h0M1360.1 304.4h0M1367.4 243.9h0M1360.0 379.8h0M1372.3 342.1h0M1364.6 413.3h0M1378.2 330.0h0M1361.0 346.9h0M1357.8 322.9h0M1363.0 224.4h0M1376.1 312.6h0M1357.9 279.2h0M1362.2 245.4h0M1365.3 245.8h0M1370.2 231.2h0M1436.4 313.3h0M1383.3 300.3h0M1357.6 302.3h0M1393.3 317.3h0M1360.9 278.7h0M1737.7 314.0h0M1357.4 191.0h0M1388.9 277.8h0M1375.1 350.4h0M1363.2 305.0h0M1772.6 311.9h0M1377.3 271.7h0M1363.6 265.7h0M1357.8 278.7h0M1364.4 372.7h0M1402.0 302.5h0M1367.6 338.2h0M1373.6 349.1h0M1373.2 382.2h0M1369.1 341.9h0M1365.3 253.3h0M1365.6 327.5h0M1372.6 389.7h0M1357.0 211.1h0M1357.5 334.6h0M1453.3 306.3h0M1356.6 245.6h0M1362.3 181.4h0M1372.2 316.1h0M1397.2 351.0h0M1369.9 288.2h0M1376.4 295.0h0M1363.2 439.5h0M1458.0 291.0h0M1358.0 241.2h0M1361.1 303.2h0M1358.1 205.8h0M1390.4 271.9h0M1366.8 327.9h0M1371.1 343.9h0M1372.5 291.3h0M1373.9 351.9h0M1358.6 384.0h0M1390.9 338.0h0M1380.5 275.6h0M1362.7 355.3h0M1381.5 323.6h0M1361.6 310.4h0M1357.3 302.2h0M1391.6 340.2h0M1452.3 325.6h0M1381.6 354.9h0M1360.3 254.3h0M1382.3 315.4h0M1369.2 236.8h0M1518.2 327.5h0M1363.3 292.8h0M1358.3 287.9h0M1370.9 319.8h0M1743.5 318.2h0M1374.0 254.7h0M1358.7 299.6h0M1361.9 354.2h0M1365.9 428.0h0M1401.8 286.0h0M1356.4 386.3h0M1380.0 344.4h0M1366.0 299.0h0M1366.3 305.4h0M1372.8 321.5h0M1849.0 315.9h0M1379.1 317.4h0M1371.6 337.7h0M1362.0 239.9h0M1747.8 316.7h0M1363.7 328.8h0M1415.6 325.5h0M1358.7 233.5h0M1359.3 302.3h0M1367.0 293.9h0M1366.7 282.8h0M1364.3 350.3h0M1367.0 365.4h0M1381.9 249.1h0M1359.7 211.6h0M1369.0 261.2h0M1357.9 346.5h0M1386.5 319.7h0M1372.7 315.2h0M1510.5 306.8h0M1370.7 300.2h0M1777.9 316.6h0M1358.0 249.6h0M1374.6 180.9h0M1406.4 311.9h0M1415.4 310.2h0M1391.0 305.3h0M1363.2 387.3h0M1386.7 315.0h0M1406.0 325.7h0M1369.4 288.3h0M1373.3 289.2h0M1449.2 298.3h0M1358.1 226.8h0M1366.3 324.7h0M1356.9 420.6h0M1362.7 311.6h0M1356.5 338.5h0M1371.1 313.2h0M1371.5 290.9h0M1367.1 337.3h0M1365.9 299.5h0M1372.5 288.8h0M1357.5 322.3h0M1388.0 300.0h0M1394.3 354.8h0M1365.6 343.0h0M1364.2 377.0h0M1361.2 285.6h0M1380.9 309.8h0M1367.2 374.4h0M1366.8 385.2h0M1385.1 286.6h0M1363.5 204.2h0M1368.8 363.3h0M1358.7 414.3h0M1374.7 333.7h0M1390.1 330.1h0M1388.1 300.2h0M1357.6 213.5h0M1373.6 298.3h0M1377.3 337.8h0M1362.1 290.8h0M1359.2 224.6h0M1370.7 328.6h0M1410.8 341.2h0M1360.7 282.7h0M1371.2 279.9h0M1435.0 327.0h0M1381.7 292.5h0M1375.9 254.3h0M1359.3 373.9h0M1359.9 300.7h0M1362.8 350.9h0M1390.8 329.0h0M1370.7 317.1h0M1665.0 307.4h0M1357.2 333.5h0M1411.8 303.7h0M1360.3 385.0h0M1356.3 337.4h0M1357.2 375.5h0M1356.6 345.0h0M1370.7 352.2h0M1356.2 244.5h0M1357.3 330.8h0M1360.2 320.8h0M1356.7 405.3h0M1464.3 308.9h0M1539.3 309.5h0M1363.5 312.2h0M1370.0 298.2h0M1358.0 340.1h0M1370.1 376.7h0M1383.8 276.9h0M1369.8 362.4h0M1365.7 382.2h0M1450.3 330.9h0M1382.6 307.5h0M1363.8 316.8h0M1407.7 269.6h0M1390.8 274.9h0M1362.8 417.4h0M1369.5 250.2h0M1413.0 297.3h0M1369.5 242.5h0M1362.8 315.7h0M1389.0 397.5h0M1371.5 404.7h0M1361.1 284.7h0M1367.8 229.6h0M1761.2 313.9h0M1392.7 339.3h0M1468.1 327.6h0M1381.8 287.1h0M1506.4 324.9h0M1665.4 328.5h0M1388.8 306.8h0M1377.4 258.2h0M1371.8 281.2h0M1364.5 318.8h0M1363.9 305.2h0M1367.1 322.5h0M1363.0 319.5h0M1369.9 336.2h0M1367.0 326.5h0M1384.3 266.3h0M1359.6 357.5h0M1468.5 306.8h0M1373.1 280.3h0M1447.9 327.3h0M1397.0 310.0h0M1411.4 296.5h0M1368.1 305.5h0M1369.2 263.9h0M1365.3 300.8h0M1383.9 214.7h0M1388.0 353.5h0M1361.9 295.6h0M1375.8 325.6h0M1356.3 337.9h0M1367.7 303.5h0M1362.7 298.4h0M1383.1 235.2h0M1365.4 354.7h0M1358.3 384.3h0M1370.5 426.3h0M1367.6 310.6h0M1361.0 356.8h0M1367.1 320.6h0M1360.3 287.3h0M1378.0 318.5h0M1476.2 341.1h0M1364.9 264.8h0M1375.7 393.1h0M1368.6 190.6h0M1365.1 427.2h0M1366.6 329.3h0M1357.7 323.2h0M1361.2 262.9h0M1359.3 288.6h0M1359.3 280.5h0M1379.6 204.8h0M1399.0 339.2h0M1387.4 282.9h0M1381.2 311.5h0M1363.7 354.7h0M1359.7 300.7h0M1365.3 369.7h0M1406.2 287.6h0M1357.1 344.1h0M1363.3 291.6h0M1391.1 298.8h0M1363.8 191.2h0M1403.4 344.5h0M1375.5 306.0h0M1358.2 339.1h0M1362.2 221.1h0M1365.5 318.5h0M1370.4 331.0h0M1587.0 309.1h0M1358.6 341.1h0M1374.4 309.1h0M1405.1 286.1h0M1370.6 311.7h0M1569.4 306.8h0M1360.1 279.2h0M1367.0 247.3h0M1376.4 339.4h0M1364.2 310.7h0M1376.6 329.9h0M1374.8 321.3h0M1418.4 303.2h0M1363.2 347.3h0M1477.0 300.6h0M1360.2 248.4h0M1359.8 257.4h0M1373.6 308.6h0M1361.3 325.8h0M1376.0 372.9h0M1372.9 378.0h0M1363.0 277.5h0M1395.8 346.9h0M1374.2 276.7h0M1361.0 400.6h0M1360.0 294.2h0M1371.8 331.1h0M1361.7 250.9h0M1594.7 323.9h0M1358.1 328.5h0M1363.9 397.1h0M1362.0 290.4h0M1414.4 320.0h0M1408.9 336.6h0M1382.9 336.7h0M1361.4 372.2h0M1356.3 354.7h0M1372.7 352.8h0M1364.4 352.8h0M1385.5 257.6h0M1421.3 331.9h0M1359.5 320.2h0M1389.3 304.8h0M1357.2 309.2h0M1811.2 313.3h0M1371.7 342.5h0M1361.1 363.4h0M1363.3 397.5h0M1372.9 339.1h0M1356.6 425.3h0M1444.9 307.2h0M1381.6 336.2h0M1365.3 313.4h0M1358.6 231.7h0M1360.7 338.9h0M1362.2 352.2h0M1397.9 281.1h0M1382.9 329.3h0M1402.0 296.9h0M1387.2 351.5h0M1359.8 332.2h0M1362.7 449.5h0M1362.5 303.6h0M1408.3 328.7h0M1365.4 234.9h0M1445.4 303.6h0M1359.0 421.3h0M1377.1 292.5h0M1359.9 216.7h0M1364.4 269.7h0M1373.3 355.9h0M1364.2 382.4h0M1380.7 361.6h0M1367.8 336.9h0M1403.9 278.4h0M1363.4 405.6h0M1357.1 365.3h0M1369.8 337.6h0M1363.1 281.9h0M1394.7 288.7h0M1400.8 338.8h0M1362.5 344.6h0M1399.6 205.0h0M1384.6 348.5h0M1359.1 292.0h0M1356.8 270.5h0M1376.3 312.1h0M1359.2 360.4h0M1364.1 369.5h0M1421.2 356.7h0M1360.3 338.2h0M1385.2 298.5h0M1370.0 332.6h0M1758.6 313.3h0M1361.6 397.4h0M1360.6 356.5h0M1380.5 319.0h0M1384.3 439.3h0M1363.6 349.2h0M1366.7 371.7h0M1364.0 218.6h0M1361.7 247.8h0M1375.6 304.4h0M1377.4 246.7h0M1356.3 216.1h0M1360.9 305.0h0M1362.6 299.6h0M1383.5 369.7h0M1365.8 273.0h0M1372.4 329.0h0M1359.9 404.8h0M1358.8 309.8h0M1367.4 286.9h0M1376.2 344.5h0M1370.2 328.5h0M1356.2 373.1h0M1374.1 336.5h0M1356.2 336.2h0M1361.3 276.7h0M1364.7 231.0h0M1385.7 354.6h0M1375.4 341.0h0M1398.7 308.6h0M1481.0 310.4h0M1362.7 324.1h0M1362.5 318.7h0M1366.4 387.1h0M1366.1 263.1h0M1374.9 377.0h0M1386.2 316.9h0M1387.5 278.6h0M1364.3 309.1h0M1360.6 282.4h0M1357.1 320.3h0M1364.9 287.4h0M1447.9 302.0h0M1361.1 299.5h0M1395.1 341.7h0M1359.4 181.4h0M1559.4 345.2h0M1365.8 191.5h0M1366.9 325.4h0M1372.1 338.2h0M1360.1 301.0h0M1586.0 338.1h0M1360.3 300.2h0M1358.0 343.0h0M1385.8 289.9h0M1367.4 371.2h0M1359.1 291.3h0M1374.0 251.2h0M1409.6 329.8h0M1433.9 308.0h0M1366.8 326.5h0M1379.3 294.7h0M1369.3 377.8h0M1382.4 333.8h0M1372.6 334.1h0M1366.7 335.1h0M1415.2 320.6h0M1786.3 314.9h0M1379.2 180.8h0M1357.5 281.2h0M1363.2 362.0h0M1397.9 301.2h0M1379.3 313.6h0M1386.6 331.0h0M1364.3 281.3h0M1357.7 225.1h0M1589.4 325.0h0M1380.1 327.4h0M1379.2 303.6h0M1357.1 412.9h0M1363.7 233.1h0M1358.6 315.0h0M1417.1 317.6h0M1754.1 318.6h0M1435.6 330.4h0M1365.3 369.9h0M1381.5 356.8h0M1373.1 356.9h0M1391.1 368.4h0M1358.7 380.2h0M1359.1 427.2h0M1363.0 360.4h0M1374.4 272.6h0M1397.6 299.4h0M1356.2 348.2h0"/>
<path fill="#c0c0c0" stroke="none" d="M1353.0 286.1L1356.1 286.1L1358.7 288.6L1361.3 290.8L1363.9 292.9L1366.5 294.7L1369.1 296.3L1371.7 297.8L1374.3 299.2L1376.9 300.4L1379.5 301.5L1382.0 302.5L1384.6 303.4L1387.2 304.2L1389.8 305.0L1392.4 305.6L1395.0 306.2L1397.6 306.8L1400.2 307.3L1402.8 307.7L1405.4 308.1L1408.0 308.5L1410.6 308.8L1413.2 309.1L1415.8 309.4L1418.4 309.6L1421.0 309.9L1423.6 310.1L1426.2 310.2L1428.8 310.4L1431.4 310.6L1434.0 310.7L1436.6 310.8L1439.2 310.9L1441.8 311.0L1444.4 311.1L1447.0 311.2L1449.6 311.3L1452.2 311.4L1454.8 311.4L1457.4 311.5L1460.7 311.6L1471.0 311.7L1481.2 311.8L1491.5 311.9L1501.7 312.0L1512.0 312.1L1522.2 312.1L1532.4 312.1L1542.7 312.2L1552.9 312.2L1563.2 312.2L1573.4 312.2L1583.7 312.3L1593.9 312.3L1604.2 312.3L1614.4 312.3L1624.6 312.3L1634.9 312.3L1645.1 312.3L1655.4 312.3L1665.6 312.4L1675.9 312.4L1686.1 312.4L1696.4 312.4L1706.6 312.4L1716.8 312.4L1727.1 312.4L1737.3 312.4L1747.6 312.4L1757.8 312.4L1757.8 319.8L1747.6 319.8L1737.3 319.8L1727.1 319.8L1716.8 319.8L1706.6 319.8L1696.4 319.8L1686.1 319.8L1675.9 319.8L1665.6 319.8L1655.4 319.9L1645.1 319.9L1634.9 319.9L1624.6 319.9L1614.4 319.9L1604.2 319.9L1593.9 320.0L1583.7 320.0L1573.4 320.0L1563.2 320.0L1552.9 320.1L1542.7 320.1L1532.4 320.1L1522.2 320.1L1512.0 320.2L1501.7 320.2L1491.5 320.3L1481.2 320.3L1471.0 320.4L1460.7 320.5L1457.4 320.5L1454.8 320.5L1452.2 320.6L1449.6 320.6L1447.0 320.6L1444.4 320.7L1441.8 320.7L1439.2 320.8L1436.6 320.9L1434.0 320.9L1431.4 321.0L1428.8 321.1L1426.2 321.2L1423.6 321.3L1421.0 321.4L1418.4 321.6L1415.8 321.7L1413.2 321.9L1410.6 322.1L1408.0 322.4L1405.4 322.7L1402.8 323.0L1400.2 323.3L1397.6 323.8L1395.0 324.2L1392.4 324.8L1389.8 325.4L1387.2 326.1L1384.6 326.9L1382.0 327.9L1379.5 328.9L1376.9 330.2L1374.3 331.6L1371.7 333.2L1369.1 335.1L1366.5 337.2L1363.9 339.7L1361.3 342.5L1358.7 345.8L1356.1 349.6L1353.0 349.6Z"/>
<path stroke="#c0c0c0" d="M1618.3 316.7h0M1456.8 313.5h0M1519.4 315.4h0M1374.6 318.8h0M1392.5 320.8h0M1734.5 317.3h0M1476.9 314.6h0M1364.0 334.5h0M1365.3 301.9h0M1560.9 315.3h0M1371.0 300.7h0M1612.2 315.4h0M1606.9 315.5h0M1363.3 324.9h0M1673.6 318.1h0M1470.8 314.5h0M1722.6 316.2h0M1508.5 314.4h0M1454.0 318.8h0M1703.8 317.4h0M1432.7 317.3h0M1362.9 323.6h0M1362.0 318.9h0M1358.3 303.4h0M1371.4 307.7h0M1758.5 316.5h0M1540.0 315.2h0M1407.2 313.0h0M1356.1 339.9h0M1356.3 304.5h0M1627.9 317.4h0M1371.6 304.6h0M1485.1 315.9h0M1551.1 317.3h0M1716.5 318.1h0M1766.2 316.3h0M1622.7 318.2h0M1753.4 314.8h0M1376.3 315.5h0M1376.9 306.5h0M1617.5 315.9h0M1410.3 313.5h0M1450.7 317.0h0M1395.8 318.5h0M1709.2 314.4h0M1386.5 313.7h0M1647.2 314.9h0M1372.2 310.7h0M1764.3 317.3h0M1557.3 315.1h0M1771.0 314.9h0M1378.6 311.7h0M1403.2 319.0h0M1624.7 314.2h0M1435.7 315.5h0M1423.1 313.8h0M1361.5 307.6h0M1365.4 320.2h0M1568.0 318.0h0M1699.7 316.3h0M1426.6 313.1h0M1377.2 306.5h0M1371.4 302.0h0M1429.7 318.0h0M1473.8 317.2h0M1365.1 318.9h0M1498.0 315.0h0M1599.7 316.2h0M1568.9 317.0h0M1437.4 318.6h0M1377.8 304.2h0M1526.6 313.7h0M1406.8 314.8h0M1362.7 311.8h0M1716.1 317.7h0M1768.5 315.7h0M1457.7 317.1h0M1412.4 311.5h0M1387.0 319.9h0M1746.2 318.2h0M1439.0 312.7h0M1369.5 304.6h0M1357.9 314.2h0M1356.2 345.6h0M1406.1 319.2h0M1402.5 318.4h0M1486.6 317.7h0M1754.2 314.7h0M1384.9 308.0h0M1383.9 315.2h0M1363.7 326.1h0M1731.7 318.1h0M1605.3 315.9h0M1545.3 317.7h0M1433.0 314.8h0M1478.6 318.3h0M1398.7 316.6h0M1589.7 316.7h0M1680.9 314.4h0M1743.7 314.0h0M1357.3 292.4h0M1399.4 310.3h0M1658.1 314.9h0M1531.0 316.9h0M1621.0 316.2h0M1435.5 313.6h0M1369.3 333.2h0M1375.8 326.9h0M1422.8 315.5h0M1762.1 313.9h0M1356.3 344.6h0M1588.8 316.9h0M1399.6 314.0h0M1453.4 317.7h0M1367.1 297.5h0M1545.0 315.4h0M1356.7 328.7h0M1635.2 316.4h0M1574.1 317.0h0M1371.4 325.6h0M1500.2 318.2h0M1360.7 315.9h0M1361.6 316.1h0M1360.4 325.5h0M1367.2 330.2h0M1395.9 316.0h0M1730.7 316.8h0M1389.9 318.3h0M1599.2 316.2h0M1409.5 312.7h0M1452.3 314.8h0M1473.9 316.1h0M1505.4 315.4h0M1724.8 316.7h0M1523.9 313.6h0M1362.6 322.3h0M1378.4 313.8h0M1444.4 314.3h0M1476.3 316.6h0M1379.3 323.8h0M1381.3 312.5h0M1393.5 320.9h0M1726.5 314.0h0M1767.0 314.5h0M1374.1 308.4h0M1374.8 318.7h0M1409.7 312.0h0M1380.6 319.6h0M1588.3 315.2h0M1743.2 314.9h0M1386.6 316.7h0M1357.7 320.9h0M1543.1 318.5h0M1366.3 316.7h0M1483.6 314.9h0M1467.5 313.8h0M1370.9 318.3h0M1394.7 312.7h0M1620.8 317.9h0M1484.1 315.8h0M1391.6 321.2h0M1379.8 320.4h0M1476.4 314.0h0M1374.9 313.2h0M1397.0 318.7h0M1740.7 318.2h0M1371.1 299.7h0M1425.4 312.4h0M1367.1 321.6h0M1396.6 310.9h0M1698.4 316.3h0M1375.2 316.7h0M1364.8 311.4h0M1444.9 316.2h0M1356.3 298.8h0M1371.7 317.1h0M1380.3 317.8h0M1428.3 315.5h0M1737.0 315.4h0M1358.9 301.5h0M1367.8 317.8h0M1368.6 310.3h0M1724.6 314.9h0M1486.0 314.9h0M1385.8 323.0h0M1620.3 316.9h0M1520.1 316.4h0M1374.6 321.8h0M1398.5 312.3h0M1651.4 317.3h0M1418.7 315.5h0M1364.9 312.1h0M1435.8 316.8h0M1393.2 313.9h0M1417.4 316.9h0M1416.7 314.4h0M1563.0 313.9h0M1511.0 315.3h0M1757.3 316.0h0M1405.0 314.7h0M1489.9 318.6h0M1379.7 319.2h0M1358.2 317.5h0M1356.3 343.0h0M1436.2 314.7h0M1558.1 313.8h0M1430.8 318.1h0M1669.3 315.1h0M1370.3 313.4h0M1456.8 316.4h0M1451.8 317.2h0M1527.7 315.0h0M1518.0 316.7h0M1535.2 317.6h0M1600.1 316.1h0M1482.5 317.6h0M1578.2 317.2h0M1368.8 331.6h0M1372.9 303.3h0M1362.9 302.5h0M1745.7 316.4h0M1388.9 319.3h0M1520.6 315.7h0M1505.1 317.8h0M1559.1 317.8h0M1475.8 316.2h0M1404.5 316.0h0M1741.2 315.0h0M1379.0 325.4h0M1402.3 320.1h0M1366.0 306.2h0M1459.3 313.8h0M1715.5 316.9h0M1493.2 316.1h0M1364.2 300.2h0M1358.4 307.8h0M1552.2 313.8h0M1402.0 312.1h0M1749.8 317.8h0M1717.5 315.4h0M1769.1 316.9h0M1394.2 307.9h0M1386.4 311.1h0M1648.7 317.9h0M1758.8 315.9h0M1710.2 315.4h0M1763.3 315.3h0M1464.5 313.2h0M1361.3 302.2h0M1777.2 317.9h0M1378.1 321.1h0M1411.5 320.0h0M1366.3 314.9h0M1373.6 330.1h0M1611.9 313.9h0M1568.9 316.8h0M1448.8 318.9h0M1521.6 315.0h0M1390.0 321.2h0M1386.1 311.2h0M1725.7 315.2h0M1726.4 314.8h0M1604.6 316.2h0M1549.7 317.2h0M1487.8 314.0h0M1632.3 315.0h0M1688.0 317.8h0M1358.0 289.5h0M1639.4 314.2h0M1408.6 317.3h0M1771.7 317.7h0M1469.7 317.6h0M1359.5 307.1h0M1515.3 315.1h0M1359.5 335.7h0M1360.1 332.0h0M1627.6 315.3h0M1421.0 315.7h0M1412.9 315.0h0M1400.6 321.6h0M1406.4 320.6h0M1746.9 315.2h0M1463.3 313.5h0M1672.6 316.1h0M1376.8 310.5h0M1357.3 317.0h0M1680.8 318.3h0M1614.4 316.4h0M1539.4 313.9h0M1370.8 308.3h0M1407.8 319.2h0M1471.2 318.9h0M1517.5 316.6h0M1391.8 307.3h0M1596.1 315.9h0M1447.4 316.4h0M1631.8 314.7h0M1776.4 315.1h0M1435.3 318.0h0M1532.0 317.1h0M1442.3 317.5h0M1578.6 316.2h0M1359.6 328.5h0M1523.5 317.3h0M1445.0 312.9h0M1511.3 316.1h0M1362.8 339.1h0M1398.9 312.3h0M1365.0 330.0h0M1689.5 313.9h0M1449.4 313.6h0M1423.4 315.4h0M1636.7 315.4h0M1689.5 317.0h0M1382.3 325.6h0M1550.9 314.4h0M1358.9 312.4h0M1506.5 316.2h0M1389.2 314.6h0M1388.9 306.6h0M1426.6 319.1h0M1526.6 315.1h0M1380.9 326.7h0M1390.9 321.9h0M1759.2 315.2h0M1650.6 314.4h0M1361.1 340.8h0M1381.1 312.0h0M1477.2 316.2h0M1373.2 320.1h0M1645.3 317.8h0M1368.0 324.7h0M1370.3 301.0h0M1585.7 316.4h0M1378.0 310.6h0M1604.0 315.4h0M1371.4 330.5h0M1362.8 315.7h0M1693.6 314.8h0M1663.9 315.8h0M1401.2 315.9h0M1518.5 315.6h0M1734.1 314.0h0M1681.0 315.2h0M1578.9 318.3h0M1670.5 314.3h0M1356.1 292.0h0M1492.3 314.8h0M1390.2 320.7h0M1474.4 315.7h0M1462.1 314.3h0M1769.8 315.7h0M1582.8 318.2h0M1563.9 316.4h0M1493.0 315.7h0M1367.0 303.3h0M1545.8 316.7h0M1363.3 297.2h0M1762.5 316.6h0M1357.6 317.1h0M1527.0 317.0h0M1592.4 315.0h0M1368.1 309.4h0M1736.4 317.2h0M1535.3 315.9h0M1467.7 317.9h0M1675.3 315.5h0M1446.1 317.3h0M1620.0 315.7h0M1358.2 306.5h0M1618.8 316.0h0M1363.6 331.3h0M1741.7 316.7h0M1364.6 327.7h0M1589.3 315.9h0M1525.5 314.6h0M1375.9 312.7h0M1720.0 317.2h0M1370.5 324.6h0M1405.2 310.8h0M1649.6 316.9h0M1375.7 325.6h0M1391.8 310.0h0M1364.7 304.6h0M1377.5 320.2h0M1424.0 314.0h0M1415.4 311.0h0M1390.5 318.0h0M1459.2 317.7h0M1429.8 315.2h0M1422.2 319.8h0M1433.8 314.7h0M1637.3 317.8h0M1402.4 315.3h0M1488.1 317.3h0M1364.4 319.1h0M1429.9 318.6h0M1763.4 314.1h0M1638.2 315.6h0M1702.7 315.1h0M1626.6 316.1h0M1534.0 314.2h0M1513.9 314.0h0M1550.9 314.6h0M1628.2 318.1h0M1360.1 333.3h0M1643.4 315.2h0M1690.4 315.0h0M1461.7 313.4h0M1548.6 317.5h0M1691.0 314.2h0M1679.9 314.0h0M1402.0 315.5h0M1646.1 318.4h0M1715.5 314.0h0M1512.0 318.7h0M1399.4 314.5h0M1557.0 316.7h0M1738.8 314.4h0M1688.8 318.0h0M1463.2 318.1h0M1610.7 315.0h0M1443.7 313.2h0M1641.7 317.9h0M1402.5 315.3h0M1365.7 300.7h0M1356.2 319.8h0M1410.8 317.0h0M1548.3 314.1h0M1370.1 325.9h0M1636.4 318.3h0M1431.4 312.7h0M1395.6 313.0h0M1448.7 317.4h0M1655.9 317.5h0M1615.5 318.0h0M1659.6 316.0h0M1376.8 320.2h0M1370.2 318.0h0M1416.4 314.2h0M1369.8 317.3h0M1520.4 315.5h0M1516.1 315.0h0M1678.0 317.6h0M1709.4 316.5h0M1507.0 313.5h0M1365.7 307.9h0M1531.2 315.2h0M1405.3 313.6h0M1587.1 316.6h0M1379.9 309.6h0M1622.4 317.6h0M1577.9 316.1h0M1358.2 297.9h0M1483.3 317.4h0M1697.5 316.0h0M1418.0 318.6h0M1461.0 314.9h0M1639.3 314.0h0M1579.2 315.6h0M1659.0 314.3h0M1764.3 316.6h0M1396.0 309.9h0M1640.7 316.7h0M1557.6 314.8h0M1453.8 318.3h0M1384.8 312.3h0M1361.3 328.3h0M1439.2 317.1h0M1363.1 336.5h0M1385.2 317.5h0M1526.3 317.7h0M1412.2 312.7h0M1576.5 317.1h0M1368.7 329.2h0M1389.5 307.8h0M1493.3 315.6h0M1385.4 320.7h0M1620.1 314.3h0M1681.0 316.9h0M1634.4 317.3h0M1391.2 316.4h0M1422.1 314.5h0M1540.9 316.6h0M1767.8 316.0h0M1474.1 317.5h0M1547.7 317.4h0M1361.1 313.5h0M1548.4 317.1h0M1524.3 315.6h0M1543.6 314.2h0M1402.9 310.2h0M1379.4 303.7h0M1638.9 317.5h0M1573.1 315.7h0M1370.8 317.9h0M1374.1 302.1h0M1564.3 315.5h0M1401.2 312.8h0M1357.5 334.0h0M1760.6 315.2h0M1543.2 314.2h0M1379.2 318.5h0M1572.3 314.7h0M1361.8 333.8h0M1467.0 315.9h0M1590.9 316.2h0M1387.7 310.7h0M1724.5 316.1h0M1472.5 314.1h0M1394.4 317.0h0M1406.2 317.9h0M1499.9 313.6h0M1458.4 318.3h0M1568.0 316.7h0M1669.0 316.4h0M1764.8 318.0h0M1610.2 317.3h0M1481.5 314.1h0M1441.2 316.1h0M1437.6 315.3h0M1400.9 321.6h0M1630.9 316.4h0M1363.2 331.6h0M1384.2 311.4h0M1644.5 315.5h0M1374.7 321.3h0M1443.7 315.7h0M1421.9 314.6h0M1358.9 332.1h0M1379.9 324.6h0M1540.0 313.6h0M1623.0 314.6h0M1428.8 315.0h0M1455.6 313.8h0M1518.1 316.9h0M1365.9 333.4h0M1551.4 318.4h0M1643.2 315.4h0M1640.7 317.5h0M1403.7 310.3h0M1405.6 315.8h0M1467.7 316.6h0M1410.8 311.2h0M1468.9 313.7h0M1717.6 314.1h0M1449.3 316.8h0M1356.3 324.2h0M1404.4 318.3h0M1363.5 299.2h0M1389.6 309.7h0M1500.0 313.9h0M1362.7 331.7h0M1704.0 314.1h0M1363.9 296.9h0M1410.7 313.4h0M1681.0 315.2h0M1525.1 316.0h0M1661.6 318.0h0M1492.5 313.4h0M1608.3 315.9h0M1758.0 317.8h0M1760.4 315.1h0M1379.9 314.0h0M1461.3 318.8h0M1417.9 318.6h0M1642.3 315.1h0M1776.1 316.6h0M1364.2 315.8h0M1563.6 317.0h0M1516.1 314.2h0M1724.1 316.2h0M1424.7 317.3h0M1458.3 314.6h0M1589.3 314.8h0M1356.8 306.5h0M1648.2 314.6h0M1366.8 309.3h0M1416.9 311.1h0M1474.8 313.4h0M1530.5 317.9h0M1424.3 315.0h0M1371.3 304.1h0M1358.9 310.5h0M1486.1 316.6h0M1454.9 314.8h0M1356.3 315.1h0M1400.2 312.6h0M1414.1 317.9h0M1554.7 317.9h0M1424.0 318.2h0M1653.4 315.2h0M1372.8 323.2h0M1668.5 318.1h0M1357.6 302.9h0M1721.8 316.6h0M1502.6 315.6h0M1468.7 316.3h0M1514.5 315.1h0M1633.0 314.0h0M1495.1 316.2h0M1373.9 302.1h0M1377.4 303.6h0M1474.1 318.7h0M1508.0 317.7h0M1384.4 321.9h0M1461.7 314.6h0M1356.7 292.0h0M1366.9 319.4h0M1436.3 314.2h0M1515.2 314.6h0M1483.5 315.3h0M1377.8 324.0h0M1474.2 318.6h0M1606.4 316.5h0M1594.5 315.2h0M1540.0 314.3h0M1405.6 311.6h0M1366.6 302.3h0M1605.2 314.6h0M1371.4 311.1h0M1432.7 316.7h0M1538.3 316.4h0M1559.4 314.5h0M1656.8 318.0h0M1375.7 319.8h0M1421.6 317.4h0M1388.3 306.1h0M1360.3 313.1h0M1511.3 314.7h0M1388.7 309.8h0M1359.0 336.1h0M1380.7 314.8h0M1374.1 301.5h0M1457.4 313.9h0M1771.3 315.8h0M1414.9 316.6h0M1392.7 316.2h0M1674.3 313.9h0M1356.9 291.1h0M1697.2 315.8h0M1466.6 317.2h0M1394.8 312.1h0M1488.6 317.1h0M1507.0 318.1h0M1459.9 314.1h0M1535.9 316.9h0M1675.6 315.7h0M1572.7 317.2h0M1357.1 319.9h0M1734.0 315.7h0M1660.1 316.8h0M1450.3 314.0h0M1366.3 313.8h0M1479.5 318.1h0M1583.7 314.3h0M1505.0 315.7h0M1648.3 318.2h0M1754.4 314.8h0M1395.5 320.5h0M1360.0 338.9h0M1488.2 317.4h0M1536.8 317.6h0M1372.3 317.0h0M1514.8 315.1h0M1643.4 314.8h0M1562.0 314.6h0M1473.9 316.9h0M1365.9 310.1h0M1373.7 313.5h0M1358.6 318.8h0M1377.2 315.0h0M1360.8 320.6h0M1667.4 317.9h0M1646.8 314.8h0M1750.0 317.8h0M1411.6 314.7h0M1396.2 319.7h0M1418.5 316.6h0M1374.8 326.5h0M1468.8 314.0h0M1487.9 315.8h0M1691.9 318.2h0M1402.2 309.1h0M1483.9 318.2h0M1681.5 313.9h0M1398.1 311.3h0M1387.8 321.1h0M1379.7 325.1h0M1359.2 317.0h0M1436.8 316.9h0M1383.2 311.9h0M1455.6 315.1h0M1367.9 315.9h0M1511.5 318.5h0M1451.5 318.9h0M1585.4 314.8h0M1380.0 315.6h0M1433.1 315.5h0M1366.9 330.9h0M1463.3 316.3h0M1607.3 317.9h0M1667.9 318.1h0M1691.0 318.0h0M1676.2 317.8h0M1401.9 315.4h0M1431.9 318.1h0M1649.1 315.9h0M1391.2 316.1h0M1365.1 300.8h0M1378.4 325.1h0M1471.4 316.3h0M1371.3 322.3h0M1357.4 308.7h0M1545.2 318.5h0M1368.9 330.6h0M1608.6 317.0h0M1393.5 310.6h0M1439.2 315.0h0M1431.9 319.2h0M1776.4 316.4h0M1366.2 317.6h0M1649.9 315.1h0M1553.1 315.9h0M1357.6 327.7h0M1379.1 318.2h0M1454.9 316.5h0M1374.5 312.3h0M1393.2 314.4h0M1624.6 318.1h0M1750.0 316.6h0M1588.6 314.2h0M1416.0 318.7h0M1360.4 338.0h0M1736.7 315.6h0M1385.3 316.3h0M1481.6 315.7h0M1663.3 315.8h0M1701.9 314.7h0M1674.1 317.8h0M1407.8 315.4h0M1734.6 318.0h0M1562.9 317.5h0M1387.6 318.6h0M1371.6 323.5h0M1761.9 314.5h0M1415.4 315.6h0M1396.5 318.7h0M1665.3 316.9h0M1578.2 317.4h0M1369.6 306.9h0M1383.7 312.0h0M1675.1 316.5h0M1443.3 315.3h0M1648.7 315.8h0M1478.5 316.6h0M1363.9 328.9h0M1504.2 314.4h0M1566.7 314.5h0M1510.3 315.0h0M1487.7 318.8h0M1370.4 327.1h0M1358.0 309.4h0M1383.9 318.5h0M1630.2 317.7h0M1386.2 323.3h0M1361.8 309.8h0M1358.9 332.7h0M1659.5 315.2h0M1459.6 313.9h0M1693.0 317.5h0M1501.0 318.0h0M1424.9 316.0h0M1538.4 314.6h0M1746.4 317.0h0M1660.4 315.6h0M1447.5 319.0h0M1596.0 314.2h0M1381.4 319.9h0M1359.7 307.7h0M1356.5 291.2h0M1561.1 317.5h0M1737.8 317.5h0M1414.9 319.1h0M1720.7 315.5h0M1716.1 315.5h0M1605.4 316.9h0M1356.1 341.3h0M1400.8 311.9h0M1473.0 315.4h0M1437.8 312.7h0M1650.0 314.7h0M1378.9 323.6h0M1463.9 313.9h0M1665.2 317.1h0M1382.8 314.3h0M1471.0 317.7h0M1513.4 314.2h0M1389.4 309.5h0M1586.6 315.0h0M1700.5 317.1h0M1508.8 316.2h0M1378.0 302.7h0M1368.5 307.6h0M1361.2 297.4h0M1373.3 305.5h0M1766.9 316.3h0M1413.0 315.5h0M1358.1 305.1h0M1360.7 320.3h0M1388.8 306.7h0M1753.5 315.9h0M1385.3 315.3h0M1361.0 324.5h0M1504.6 315.8h0M1543.6 317.8h0M1372.1 331.0h0M1421.1 319.3h0M1709.4 315.5h0M1405.0 314.7h0M1383.0 312.7h0M1751.6 318.1h0M1377.6 328.1h0M1680.3 314.0h0M1456.8 314.3h0M1696.8 316.0h0M1508.4 314.2h0M1389.3 319.2h0M1768.7 316.9h0M1392.0 311.2h0M1489.8 314.7h0M1420.6 314.6h0M1667.5 315.2h0M1415.5 318.7h0M1478.6 316.4h0M1393.5 312.3h0M1694.3 317.9h0M1562.2 315.2h0M1669.1 317.2h0M1550.8 314.5h0M1388.7 307.0h0M1597.8 316.5h0M1730.5 315.1h0M1377.8 321.8h0M1366.4 333.3h0M1562.9 316.5h0M1356.1 330.9h0M1393.0 312.0h0M1420.1 319.3h0M1365.3 297.5h0M1356.9 305.0h0M1356.8 316.8h0M1432.9 318.4h0M1480.5 315.2h0M1411.1 311.3h0M1390.9 322.0h0M1368.1 319.6h0M1673.5 315.3h0M1517.0 315.2h0M1513.1 314.1h0M1358.2 304.1h0M1437.2 313.4h0M1356.9 323.3h0M1388.7 313.5h0M1450.6 313.0h0M1396.6 312.4h0M1356.3 398.0h0M1356.9 356.4h0M1356.7 397.9h0M1358.9 301.7h0M1356.3 364.5h0M1357.4 427.1h0M1365.4 259.6h0M1357.2 282.6h0M1357.9 372.9h0M1362.3 333.6h0M1360.6 219.3h0M1362.4 345.6h0M1363.4 306.0h0M1359.3 218.9h0M1356.3 277.7h0M1356.8 412.8h0M1356.1 318.3h0M1358.5 319.6h0M1359.6 259.3h0M1356.9 226.5h0M1359.0 397.6h0M1357.0 390.8h0M1359.8 275.3h0M1356.6 374.3h0M1357.6 281.9h0M1361.1 265.9h0M1358.3 398.4h0M1357.8 362.1h0M1358.6 286.8h0M1360.5 366.0h0M1356.6 339.6h0M1357.3 234.2h0M1360.9 315.3h0M1359.8 334.7h0M1359.8 383.8h0M1356.3 241.3h0M1363.1 323.3h0M1356.8 390.1h0M1356.2 433.8h0M1357.3 319.4h0M1358.2 374.0h0M1356.8 275.1h0M1360.4 405.6h0M1357.2 313.3h0M1360.0 320.9h0M1358.2 219.7h0M1357.4 364.1h0M1356.8 340.0h0M1357.6 240.8h0M1356.3 412.5h0M1356.4 233.5h0M1356.3 404.7h0M1359.3 233.5h0M1358.4 211.9h0M1366.8 261.2h0M1359.1 352.9h0M1356.8 427.6h0M1356.2 354.5h0M1358.7 332.9h0M1356.2 293.2h0M1356.5 234.1h0M1356.4 305.1h0M1357.1 376.4h0M1362.1 247.8h0M1360.0 384.2h0M1359.2 412.9h0M1358.6 324.6h0M1364.1 315.6h0M1361.6 233.1h0M1356.2 313.6h0M1356.1 329.2h0M1358.4 362.2h0M1358.4 370.8h0M1365.0 368.9h0M1356.4 296.2h0M1356.7 240.4h0M1356.9 367.7h0M1358.3 318.5h0M1358.5 263.9h0M1356.3 341.3h0M1359.2 391.4h0M1359.0 327.8h0M1357.0 226.8h0M1356.7 328.1h0M1357.9 325.8h0M1356.8 398.6h0M1356.5 323.8h0M1356.1 309.6h0M1366.6 376.4h0M1357.1 347.2h0M1359.1 262.0h0M1361.2 240.1h0M1357.5 364.4h0M1359.8 300.4h0M1357.3 391.3h0M1359.8 361.9h0M1360.1 426.1h0M1356.9 226.9h0M1359.2 318.6h0M1357.5 332.4h0M1359.1 310.6h0M1360.8 321.0h0M1357.1 368.6h0M1358.4 293.8h0M1360.6 255.6h0M1365.0 426.6h0M1359.5 391.9h0M1356.3 373.5h0M1358.9 398.4h0M1360.8 321.4h0M1359.8 365.6h0M1363.3 333.1h0M1356.8 310.9h0M1359.9 256.4h0M1356.2 341.0h0M1356.6 420.1h0M1359.8 418.9h0M1356.5 305.8h0M1359.0 240.5h0M1358.0 271.8h0M1360.0 383.9h0M1356.7 419.0h0M1358.3 273.4h0M1356.6 226.6h0M1356.4 336.8h0M1356.9 273.6h0M1357.8 286.5h0M1356.7 248.1h0M1356.7 212.3h0M1365.2 345.2h0M1356.6 332.9h0M1357.1 280.0h0M1356.8 331.9h0M1357.5 398.3h0M1364.1 368.1h0M1356.8 205.1h0M1356.5 391.2h0M1357.2 290.6h0M1358.3 314.1h0M1358.4 419.6h0M1360.0 345.3h0M1363.7 363.8h0M1356.8 226.7h0M1360.5 256.9h0M1358.9 211.3h0M1357.6 345.9h0M1365.2 219.2h0M1357.6 264.6h0M1361.8 211.7h0M1358.6 326.7h0M1362.7 360.8h0M1358.4 375.7h0M1356.9 427.1h0M1359.1 219.6h0M1358.4 363.8h0M1357.3 343.6h0M1360.7 362.9h0M1365.7 324.2h0M1356.2 317.0h0M1364.5 212.1h0M1361.8 373.5h0M1359.4 260.3h0M1357.1 255.8h0M1360.1 300.7h0M1357.2 374.5h0M1358.7 419.7h0M1356.9 420.4h0M1358.8 348.4h0M1357.0 323.7h0M1358.7 212.1h0M1362.0 384.0h0M1358.1 240.7h0M1361.9 338.7h0M1356.9 348.6h0M1356.4 323.8h0M1358.9 262.4h0M1357.6 205.0h0M1356.8 342.6h0M1356.6 364.1h0M1361.3 219.3h0M1358.5 405.6h0M1358.1 205.0h0M1356.1 383.8h0M1359.8 353.5h0M1360.2 240.6h0M1356.5 257.9h0M1356.7 219.5h0M1357.3 292.4h0M1357.5 281.4h0M1356.8 219.5h0M1356.1 219.5h0M1356.1 371.5h0M1357.5 265.9h0M1356.1 248.0h0M1357.9 298.2h0M1357.0 324.3h0M1358.0 262.9h0M1356.7 279.1h0M1362.7 271.1h0M1361.6 335.0h0M1357.9 370.5h0M1357.2 383.8h0M1357.1 295.4h0M1360.3 363.8h0M1356.8 411.6h0M1357.4 310.4h0M1356.9 419.1h0M1362.5 352.3h0M1356.6 277.1h0M1364.0 291.7h0M1357.8 240.5h0M1357.8 369.9h0M1357.9 336.9h0M1356.4 285.1h0M1358.0 272.6h0M1356.6 291.9h0M1356.2 356.0h0M1362.5 294.1h0M1360.5 366.3h0M1358.7 320.9h0M1361.1 212.1h0M1358.2 299.7h0M1356.1 405.8h0M1357.4 292.1h0M1357.1 350.9h0M1356.4 383.9h0M1357.8 282.9h0M1357.4 233.4h0M1358.3 391.1h0M1360.7 355.8h0M1360.6 356.8h0M1367.0 363.1h0M1357.4 332.5h0M1359.3 241.0h0M1357.8 233.2h0M1357.4 241.6h0M1358.1 212.3h0M1356.8 363.1h0M1357.4 233.3h0M1356.8 361.7h0M1357.3 305.6h0M1362.2 312.0h0M1356.2 384.4h0M1358.1 350.1h0M1356.7 333.4h0M1358.3 275.4h0M1357.1 225.6h0M1359.3 240.9h0M1356.2 285.4h0M1356.6 204.7h0M1357.3 354.0h0M1358.2 204.7h0M1357.6 212.1h0M1356.9 336.9h0M1357.1 398.4h0M1364.7 374.2h0M1357.4 420.1h0M1356.5 332.6h0M1358.2 240.4h0M1357.4 331.2h0M1357.7 234.6h0M1360.4 369.7h0M1356.3 295.8h0M1360.7 390.7h0M1356.2 347.6h0M1356.1 391.6h0M1356.9 290.3h0M1357.5 337.2h0M1367.4 370.3h0M1356.9 240.1h0M1361.7 427.0h0M1360.3 289.6h0M1356.6 322.1h0M1359.1 331.9h0M1356.2 240.4h0M1357.1 269.8h0M1364.8 295.8h0M1362.6 257.4h0M1356.2 259.5h0M1358.8 384.1h0M1356.5 304.3h0M1357.0 372.1h0M1356.5 391.8h0M1359.2 304.7h0M1358.5 357.6h0M1359.4 282.7h0M1357.5 383.4h0M1356.1 233.0h0M1360.2 351.5h0M1362.9 274.0h0M1358.2 261.8h0M1356.3 398.0h0M1358.8 276.7h0M1357.6 226.2h0M1357.6 384.2h0M1356.8 226.6h0M1357.4 375.5h0M1356.5 256.4h0M1359.2 326.3h0M1361.0 309.5h0M1356.3 254.9h0M1357.3 240.5h0M1357.1 398.6h0M1357.5 274.4h0M1358.0 255.2h0M1358.1 355.5h0M1359.5 375.1h0M1360.0 301.7h0M1357.8 248.5h0M1362.3 322.2h0M1356.4 419.3h0M1357.2 337.2h0M1361.3 313.3h0M1359.7 310.2h0M1356.2 254.6h0M1358.3 391.1h0M1358.6 359.2h0M1357.7 374.2h0M1356.3 287.2h0M1357.3 212.8h0M1357.6 419.6h0M1356.2 391.4h0M1357.1 264.8h0M1357.4 274.9h0M1361.4 212.2h0M1356.8 226.1h0M1357.9 361.7h0M1356.1 271.6h0M1356.2 287.3h0M1360.4 347.1h0M1356.4 297.6h0M1359.8 376.6h0M1357.4 219.3h0M1356.2 226.7h0M1358.9 241.2h0M1356.3 318.5h0M1356.7 284.8h0M1356.8 299.1h0M1356.8 247.2h0M1356.7 269.4h0M1358.2 254.5h0M1359.5 294.6h0M1359.8 226.1h0M1360.3 343.0h0M1359.1 259.9h0M1357.0 259.5h0M1360.0 384.0h0M1361.5 304.6h0M1356.2 323.7h0M1363.0 405.1h0M1357.5 226.6h0M1356.1 335.6h0M1366.2 364.4h0M1359.3 279.5h0M1356.2 311.5h0M1357.3 212.0h0M1356.8 412.5h0M1356.4 427.2h0M1357.1 363.4h0M1356.6 355.1h0M1357.2 419.3h0M1356.9 212.0h0M1357.6 419.2h0M1360.1 337.9h0M1356.3 301.1h0M1361.0 342.3h0M1357.6 284.3h0M1359.6 329.1h0M1360.3 376.8h0M1357.3 398.3h0M1357.4 348.6h0M1362.4 323.8h0M1358.0 268.3h0M1365.5 283.5h0M1356.6 426.8h0M1359.9 367.1h0M1357.3 339.5h0M1358.2 405.6h0M1362.0 317.9h0M1361.8 302.4h0M1357.8 268.7h0M1359.8 376.7h0M1356.6 272.7h0M1360.0 373.6h0M1357.2 240.7h0M1359.7 266.1h0M1360.2 265.8h0M1356.9 375.8h0M1357.0 339.2h0M1356.7 212.2h0M1358.5 256.3h0M1356.1 332.6h0M1356.3 320.8h0M1356.2 198.3h0M1360.8 297.2h0M1363.0 384.1h0M1356.6 391.0h0M1361.5 340.9h0M1359.2 303.3h0M1356.5 211.5h0M1356.9 257.5h0M1356.4 300.2h0M1366.0 411.8h0M1360.3 278.7h0M1357.0 323.8h0M1366.9 322.3h0M1356.1 233.3h0M1358.9 317.7h0M1356.3 362.3h0M1359.2 357.6h0M1357.5 280.7h0M1358.6 204.6h0M1356.6 299.4h0M1356.2 247.8h0M1356.5 267.7h0M1358.0 364.0h0M1356.6 302.9h0M1356.9 383.9h0M1357.3 364.6h0M1356.5 368.2h0M1356.9 420.6h0M1366.0 341.3h0M1356.4 384.2h0M1357.8 318.0h0M1363.5 384.5h0M1356.1 341.6h0M1357.2 255.5h0M1356.5 205.7h0M1360.4 270.6h0M1360.3 356.0h0M1358.7 212.2h0M1356.9 356.1h0M1365.1 405.2h0M1360.3 205.0h0M1359.5 331.9h0M1357.1 376.9h0M1357.6 278.2h0M1356.7 359.7h0M1358.5 377.6h0M1363.7 226.5h0M1357.5 412.9h0M1361.5 363.6h0M1357.0 226.6h0M1356.5 384.7h0M1356.1 348.6h0M1356.9 255.1h0M1358.5 427.6h0M1360.2 247.7h0M1360.7 248.0h0M1356.3 426.8h0M1358.9 265.0h0M1356.2 282.0h0M1356.3 274.9h0M1357.0 426.7h0"/>
<path stroke="#6e6e6e" stroke-width="1.9" stroke-linecap="butt" stroke-dasharray="9.23 3.99" d="M1339.2 315.9H1896.4"/>
<path stroke="#8a486c" stroke-opacity="0.93" d="M1478.2 320.8h0M1501.4 326.8h0M1410.5 335.0h0M1373.0 340.0h0M1387.8 336.1h0M1376.3 339.9h0M1361.7 386.3h0M1505.0 321.3h0M1535.8 327.4h0M1549.6 323.8h0M1485.5 323.4h0M1554.0 325.1h0M1359.2 390.1h0M1457.2 323.5h0M1524.7 322.1h0M1364.2 344.7h0M1637.5 319.8h0M1415.4 326.1h0M1359.1 366.1h0M1475.4 323.1h0M1360.4 349.0h0M1432.0 322.4h0M1527.3 322.8h0M1561.9 320.6h0M1374.0 378.7h0M1379.4 353.5h0M1506.5 324.5h0M1593.5 322.0h0M1531.4 323.8h0M1414.0 332.8h0M1553.6 319.3h0M1537.5 323.1h0M1412.6 334.9h0M1491.8 322.6h0M1369.9 360.3h0M1433.2 335.1h0M1356.5 393.3h0M1363.3 365.9h0M1412.3 327.9h0M1363.5 381.5h0M1362.0 381.5h0M1377.1 347.6h0M1525.7 320.1h0M1446.9 322.9h0M1457.3 325.7h0M1622.3 319.9h0M1635.6 323.6h0M1377.7 340.9h0M1505.3 319.9h0M1356.7 383.2h0M1424.5 326.2h0M1490.7 325.8h0M1382.1 329.8h0M1362.3 407.1h0M1451.2 321.6h0M1554.8 324.1h0M1569.4 319.9h0M1430.6 327.5h0M1449.2 321.2h0M1385.7 342.1h0M1380.6 353.6h0M1366.0 370.9h0M1382.9 331.9h0M1542.6 321.1h0M1365.1 369.1h0M1380.7 348.7h0M1566.3 323.0h0M1429.3 320.8h0M1476.3 324.5h0M1444.5 320.8h0M1516.2 322.9h0M1435.3 330.4h0M1394.4 324.3h0M1661.1 322.6h0M1392.8 340.0h0M1407.7 336.7h0M1361.7 379.4h0M1514.0 321.5h0M1433.7 332.0h0M1519.9 321.0h0M1539.6 319.5h0M1369.9 333.8h0M1519.3 323.9h0M1548.4 324.7h0M1599.5 322.9h0M1576.4 321.1h0M1421.7 321.5h0M1621.8 320.7h0M1567.3 324.2h0M1537.8 320.6h0M1365.4 385.1h0M1437.6 326.6h0M1466.1 328.1h0M1513.7 325.0h0M1610.8 322.9h0M1536.5 326.3h0M1588.0 324.5h0M1452.4 320.5h0M1592.2 323.5h0M1681.7 319.5h0M1451.4 320.8h0M1363.9 341.8h0M1548.2 324.7h0M1376.0 334.1h0M1555.2 323.5h0M1621.3 322.9h0M1358.3 392.8h0M1445.5 325.6h0M1380.8 353.9h0M1359.7 354.0h0M1513.3 320.4h0M1419.5 332.3h0M1376.2 351.0h0M1360.3 388.9h0M1365.0 371.3h0M1534.7 324.8h0M1515.4 322.8h0M1371.7 343.3h0M1556.9 325.1h0M1446.7 324.5h0M1593.7 321.3h0M1462.5 324.2h0M1376.7 365.2h0M1410.9 322.1h0M1372.0 357.1h0M1486.7 324.0h0M1629.7 325.5h0M1374.1 346.6h0M1370.9 361.7h0M1587.8 323.1h0M1381.7 338.8h0M1358.4 354.8h0M1534.9 323.1h0M1363.7 345.8h0M1426.3 320.6h0M1393.0 335.5h0M1411.2 333.9h0M1456.3 326.5h0M1373.4 378.6h0M1645.9 320.8h0M1548.7 320.8h0M1403.4 337.2h0M1640.1 324.7h0M1578.4 319.3h0M1480.8 321.9h0M1502.2 324.1h0M1417.7 333.9h0M1577.3 320.9h0M1488.5 323.2h0M1409.1 334.7h0M1415.6 321.8h0M1554.6 322.5h0M1620.8 321.6h0M1377.9 345.7h0M1415.1 327.7h0M1606.0 320.9h0M1455.0 324.2h0M1586.1 324.7h0M1505.9 323.4h0M1369.9 346.3h0M1486.8 325.7h0M1387.1 328.3h0M1450.1 327.2h0M1534.1 319.6h0M1401.0 328.5h0M1382.7 340.2h0M1571.2 320.6h0M1550.6 321.8h0M1392.5 329.5h0M1586.1 319.3h0M1478.4 320.3h0M1371.1 358.4h0M1364.8 342.2h0M1358.6 394.9h0M1394.7 325.0h0M1361.0 353.1h0M1368.2 350.6h0M1358.3 350.0h0M1486.1 325.3h0M1477.8 320.3h0M1466.6 328.0h0M1426.7 327.5h0M1578.9 319.5h0M1373.0 336.5h0M1482.1 323.6h0M1373.8 347.1h0M1363.0 355.3h0M1432.5 321.3h0M1410.4 322.5h0M1388.1 339.3h0M1445.4 325.1h0M1614.8 324.1h0M1377.3 363.6h0M1469.2 322.6h0M1385.6 351.0h0M1442.9 328.7h0M1487.0 324.9h0M1356.4 356.5h0M1578.6 319.7h0M1400.7 328.9h0M1572.6 325.5h0M1413.9 333.3h0M1359.4 387.4h0M1397.2 334.1h0M1504.6 325.1h0M1378.1 344.1h0M1398.3 347.7h0M1376.3 344.4h0M1375.6 354.3h0M1432.3 322.4h0M1362.4 399.0h0M1521.8 325.3h0M1579.8 321.2h0M1394.3 341.5h0M1490.2 325.0h0M1584.2 319.8h0M1396.3 327.4h0M1392.3 342.5h0M1378.7 354.0h0M1381.0 341.4h0M1617.3 320.6h0M1491.9 319.6h0M1385.4 352.5h0M1499.7 325.5h0M1527.6 324.4h0M1554.8 322.4h0M1376.1 357.4h0M1425.1 324.9h0M1378.4 340.2h0M1402.6 334.5h0M1417.2 330.1h0M1462.5 320.1h0M1357.1 390.2h0M1542.6 324.3h0M1368.5 356.6h0M1588.8 320.3h0M1390.2 332.7h0M1544.3 319.6h0M1368.7 336.3h0M1361.0 381.6h0M1470.1 320.5h0M1558.7 319.7h0M1505.6 325.7h0M1361.4 362.7h0M1372.4 336.7h0M1378.1 344.2h0M1428.9 329.4h0M1390.4 336.5h0M1394.9 333.5h0M1445.8 322.5h0M1511.0 323.2h0M1509.0 323.3h0M1401.5 335.1h0M1689.1 319.2h0M1607.3 321.8h0M1481.6 324.0h0M1366.9 376.5h0M1398.4 336.1h0M1365.0 356.3h0M1470.2 324.0h0M1383.7 347.4h0M1393.6 326.5h0M1421.6 329.3h0M1519.4 322.0h0M1506.8 319.6h0M1403.9 333.7h0M1596.3 320.0h0M1543.4 322.6h0M1517.3 325.0h0M1357.2 363.8h0M1395.9 331.7h0M1416.4 335.2h0M1398.4 330.4h0M1433.2 322.7h0M1376.6 338.1h0M1468.6 323.3h0M1374.2 338.0h0M1480.3 324.1h0M1364.8 351.4h0M1464.3 325.3h0M1364.4 378.6h0M1629.5 326.3h0M1637.9 321.2h0M1526.8 320.4h0M1457.9 325.0h0M1379.0 345.1h0M1356.2 355.4h0M1387.8 325.2h0M1543.9 323.2h0M1394.8 335.5h0M1494.7 321.4h0M1430.6 325.2h0M1419.7 334.1h0M1442.1 325.8h0M1523.0 323.5h0M1615.5 324.4h0M1392.9 348.1h0M1409.3 331.8h0M1474.0 322.2h0M1450.0 321.4h0M1398.4 334.5h0M1546.1 323.3h0M1549.4 321.4h0M1611.2 321.4h0M1442.6 326.4h0M1548.2 321.6h0M1625.3 321.0h0M1398.4 324.3h0M1600.5 325.0h0M1376.6 365.5h0M1562.9 323.8h0M1407.4 328.6h0M1359.1 348.2h0M1617.0 321.3h0M1547.4 323.4h0M1516.6 320.7h0M1375.8 379.3h0M1461.4 324.2h0M1508.9 324.6h0M1396.1 334.1h0M1380.5 334.7h0M1424.3 332.5h0M1431.6 328.2h0M1525.9 320.6h0M1418.8 323.7h0M1503.8 327.7h0M1419.4 336.3h0M1589.1 324.6h0M1578.4 322.8h0M1580.7 322.8h0M1368.9 355.3h0M1543.2 324.3h0M1369.6 349.8h0M1377.7 343.6h0M1379.1 339.3h0M1484.4 324.6h0M1467.8 323.8h0M1452.8 325.7h0M1519.2 320.6h0M1425.6 324.1h0M1423.6 329.2h0M1429.6 322.9h0M1519.4 325.5h0M1597.6 319.3h0M1410.1 325.3h0M1517.9 324.4h0M1589.3 320.6h0M1391.0 341.0h0M1458.6 321.4h0M1393.2 327.6h0M1579.9 321.9h0M1420.8 337.5h0M1382.5 355.1h0M1402.8 331.6h0M1410.9 327.9h0M1546.8 323.9h0M1369.2 350.4h0M1364.3 355.3h0M1408.2 324.0h0M1567.3 321.2h0M1372.4 364.5h0M1519.5 321.4h0M1359.5 397.1h0M1556.8 320.8h0M1356.6 394.6h0M1473.0 321.3h0M1689.3 320.6h0M1505.8 324.0h0M1474.4 321.2h0M1584.3 323.3h0M1538.5 319.6h0M1449.3 327.0h0M1497.9 322.6h0M1382.6 358.1h0M1454.0 320.8h0M1398.1 348.6h0M1361.9 350.3h0M1380.5 347.0h0M1521.1 322.4h0M1467.2 323.8h0M1364.8 338.0h0M1563.0 319.4h0M1584.3 323.8h0M1418.8 330.7h0M1417.5 325.7h0M1540.4 324.7h0M1589.8 322.6h0M1386.8 331.7h0M1361.6 381.0h0M1558.5 324.2h0M1478.3 323.5h0M1444.5 325.8h0M1595.1 322.6h0M1453.2 328.2h0M1543.3 320.7h0M1365.5 368.1h0M1367.7 359.2h0M1388.8 344.9h0M1568.1 319.4h0M1596.8 322.1h0M1413.8 337.3h0M1603.3 319.6h0M1384.6 343.3h0M1368.8 360.3h0M1483.8 320.5h0M1430.4 327.6h0M1491.0 320.6h0M1462.7 322.5h0M1371.8 341.8h0M1541.7 320.5h0M1555.4 325.4h0M1369.6 339.1h0M1370.4 364.8h0M1376.8 346.7h0M1402.5 335.9h0M1404.2 338.0h0M1519.9 324.6h0M1470.5 324.4h0M1364.0 370.2h0M1366.9 338.7h0M1561.8 321.7h0M1597.1 320.0h0M1386.6 330.8h0M1459.4 327.4h0M1510.3 325.4h0M1560.5 320.1h0M1408.0 325.6h0M1476.5 326.1h0M1597.7 319.3h0M1425.2 334.1h0M1375.9 348.0h0M1356.1 369.6h0M1363.0 363.2h0M1359.0 396.9h0M1370.4 350.0h0M1363.7 344.7h0M1381.7 336.9h0M1406.5 324.4h0M1450.2 322.8h0M1365.1 343.2h0M1515.7 324.3h0M1638.0 319.4h0M1428.4 329.3h0M1515.9 319.5h0M1392.8 336.7h0M1494.2 322.1h0M1360.5 373.0h0M1508.7 319.9h0M1359.9 353.8h0M1369.3 345.2h0M1507.1 323.6h0M1485.0 325.9h0M1364.1 356.3h0M1624.3 320.5h0M1383.5 341.2h0M1375.1 336.2h0M1520.0 322.6h0M1377.5 338.3h0M1553.9 324.6h0M1542.0 324.9h0M1523.0 320.7h0M1519.6 321.5h0M1478.7 324.0h0M1462.3 326.7h0M1472.3 322.5h0M1452.7 326.1h0M1451.4 331.0h0M1488.1 326.1h0M1560.7 319.5h0M1472.1 325.8h0M1409.6 329.8h0M1603.5 322.9h0M1487.4 321.4h0M1492.2 321.6h0M1384.3 364.0h0M1361.7 382.2h0M1548.2 324.6h0M1604.1 324.6h0M1546.3 321.6h0M1362.5 374.7h0M1410.8 326.4h0M1604.9 320.5h0M1358.5 347.9h0M1362.4 377.7h0M1576.7 324.1h0M1517.2 322.2h0M1504.4 320.4h0M1465.8 322.9h0M1561.8 322.8h0M1366.3 386.1h0M1384.5 336.9h0M1423.0 333.2h0M1564.2 325.1h0M1380.4 328.8h0M1359.3 409.3h0M1365.2 422.7h0M1359.7 402.0h0M1359.1 398.6h0M1358.0 371.5h0M1356.1 414.4h0M1357.9 401.2h0M1362.1 386.7h0M1359.7 356.7h0M1358.7 397.8h0M1366.8 370.0h0M1356.9 369.2h0M1357.1 397.6h0M1357.6 375.5h0M1358.7 411.6h0M1358.7 368.2h0M1357.2 368.5h0M1363.0 384.3h0M1358.2 356.7h0M1358.6 424.1h0M1358.0 378.0h0M1356.9 383.4h0M1360.1 356.5h0M1360.7 374.7h0M1356.9 419.5h0M1356.7 395.1h0M1356.3 358.2h0M1359.5 375.9h0M1357.3 387.6h0M1358.9 393.1h0M1356.2 406.8h0M1358.7 387.2h0M1358.2 387.2h0M1356.4 372.6h0M1730.8 320.1h0"/>
<path stroke="#903c68" stroke-opacity="0.92" d="M1363.8 394.4h0M1361.9 408.9h0M1362.6 394.6h0M1423.3 331.1h0M1395.4 362.1h0M1459.8 328.7h0M1585.2 324.5h0M1364.9 384.4h0M1394.5 355.3h0M1370.3 380.4h0M1492.2 330.4h0M1438.2 332.9h0M1369.4 380.9h0M1418.4 339.6h0M1362.7 393.9h0M1369.0 399.9h0M1409.5 335.8h0M1431.9 333.7h0M1388.2 359.5h0M1487.3 326.3h0M1507.5 327.0h0M1468.9 329.8h0M1478.9 329.2h0M1370.3 375.6h0M1625.0 325.2h0M1373.0 365.9h0M1356.6 398.7h0M1362.7 376.2h0M1363.7 412.1h0M1361.7 402.4h0M1357.6 418.8h0M1359.4 424.5h0M1359.0 409.3h0M1357.7 378.4h0M1356.2 415.4h0M1357.5 411.6h0"/>
<path stroke="#952f64" stroke-opacity="0.91" d="M1402.1 353.5h0M1370.3 398.0h0M1466.5 333.1h0M1466.4 329.1h0M1437.4 337.2h0M1384.8 375.5h0M1373.9 397.6h0M1457.7 333.7h0M1407.5 342.3h0M1370.9 387.3h0M1364.5 398.9h0M1360.4 392.4h0M1366.1 421.4h0M1357.3 406.3h0M1357.2 425.6h0M1356.5 425.2h0M1358.6 403.9h0M1356.7 406.3h0M1364.6 408.4h0M1364.0 400.2h0M1356.4 424.9h0M1732.5 330.5h0M1358.4 430.7h0"/>
<path stroke="#9a2260" stroke-opacity="0.89" d="M1373.0 389.7h0M1381.4 385.0h0M1378.3 400.3h0M1583.3 329.8h0M1403.0 351.0h0M1613.4 329.7h0M1361.7 426.7h0M1359.3 396.5h0M1359.8 412.3h0M1358.3 374.0h0M1423.6 348.6h0"/>
<path stroke="#a0165c" stroke-opacity="0.88" d="M1383.7 411.5h0M1388.9 401.3h0M1357.7 414.4h0M1356.6 456.8h0M1357.7 456.8h0M1356.2 456.8h0M1360.2 463.8h0M1363.4 463.8h0M1360.9 463.8h0M1365.1 463.8h0M1358.9 463.8h0M1361.5 470.8h0M1359.1 470.8h0M1359.9 470.8h0M1361.7 470.8h0M1356.5 470.8h0M1362.7 476.0h0M1361.9 476.0h0M1357.5 476.0h0M1361.7 476.0h0M1363.8 476.0h0M1361.3 476.0h0M1495.2 379.2h0M1371.3 490.6h0M1391.5 463.8h0M1381.4 456.8h0M1386.5 456.8h0M1386.5 409.9h0M1636.3 342.0h0M1501.2 345.8h0M1473.2 348.3h0M1456.7 355.2h0M1457.4 366.4h0M1446.2 362.9h0M1431.0 355.9h0M1426.6 362.9h0M1420.9 367.4h0M1402.0 389.3h0M1396.9 378.5h0M1403.0 368.1h0M1370.9 444.0h0M1374.0 437.7h0M1383.4 430.7h0M1526.9 338.2h0"/>
<path stroke="#c482af" stroke-opacity="0.93" d="M1452.3 311.1h0M1609.2 312.1h0M1395.1 304.5h0M1666.6 311.2h0M1550.2 309.6h0M1390.4 296.2h0M1593.5 310.9h0M1509.2 312.5h0M1599.6 311.4h0M1360.2 258.9h0M1619.4 312.9h0M1549.4 312.7h0M1438.0 303.2h0M1378.4 265.6h0M1360.6 256.7h0M1376.6 273.8h0M1526.5 310.7h0M1558.0 312.8h0M1362.1 268.4h0M1358.3 232.8h0M1372.2 285.4h0M1615.6 312.2h0M1570.7 310.3h0M1419.9 300.1h0M1385.6 292.9h0M1420.9 305.2h0M1404.4 289.6h0M1430.6 304.6h0M1517.0 312.4h0M1375.0 282.4h0M1479.5 309.9h0M1504.8 311.6h0M1458.3 303.8h0M1420.7 310.5h0M1392.4 288.9h0M1421.0 298.6h0M1380.9 267.7h0M1362.8 278.3h0M1418.7 305.4h0M1610.6 309.6h0M1378.2 299.3h0M1394.8 304.0h0M1553.5 312.6h0M1502.6 309.3h0M1596.8 309.5h0M1535.1 311.0h0M1407.5 305.6h0M1481.3 309.4h0M1524.0 308.9h0M1524.3 311.6h0M1401.2 289.7h0M1497.7 312.0h0M1372.7 283.7h0M1367.4 277.5h0M1601.7 309.9h0M1581.0 310.0h0M1440.3 304.8h0M1383.5 303.1h0M1462.3 305.9h0M1403.8 301.9h0M1358.9 257.7h0M1424.3 298.5h0M1404.2 283.5h0M1475.4 312.2h0M1541.0 312.1h0M1358.8 256.3h0M1525.9 307.8h0M1363.4 282.8h0M1438.0 309.6h0M1392.8 289.1h0M1429.6 305.3h0M1369.6 256.4h0M1407.8 288.1h0M1580.5 309.7h0M1532.1 311.3h0M1503.1 308.6h0M1406.8 293.7h0M1536.5 310.1h0M1433.4 304.9h0M1578.4 311.5h0M1606.3 310.2h0M1369.2 292.0h0M1359.4 237.8h0M1394.6 298.2h0M1358.0 247.9h0M1395.2 289.5h0M1362.4 253.8h0M1541.0 311.4h0M1486.3 307.5h0M1419.9 298.7h0M1564.7 310.2h0M1581.6 308.6h0M1383.7 303.7h0M1435.6 301.9h0M1572.3 309.8h0M1466.5 309.3h0M1389.5 297.6h0M1573.0 312.5h0M1401.2 299.7h0M1435.8 303.9h0M1455.5 308.5h0M1495.4 311.5h0M1507.0 310.3h0M1539.7 310.7h0M1359.3 232.6h0M1525.7 308.3h0M1387.4 279.4h0M1592.7 310.9h0M1369.1 287.6h0M1610.7 310.9h0M1379.9 275.8h0M1462.4 311.0h0M1640.4 310.5h0M1556.4 310.6h0M1461.4 308.5h0M1600.0 312.6h0M1471.3 312.3h0M1530.7 311.9h0M1483.4 307.8h0M1361.3 272.4h0M1650.8 311.0h0M1539.4 310.8h0M1431.2 301.4h0M1401.6 287.2h0M1369.7 284.1h0M1473.0 307.1h0M1473.7 306.7h0M1458.8 305.6h0M1585.9 310.8h0M1378.3 291.1h0M1424.5 305.4h0M1374.0 276.6h0M1558.5 312.0h0M1471.8 310.7h0M1390.1 286.5h0M1431.3 303.7h0M1427.3 307.7h0M1367.0 288.1h0M1379.3 291.5h0M1457.0 306.5h0M1451.3 303.1h0M1421.2 303.1h0M1408.5 302.7h0M1376.6 272.4h0M1361.4 253.3h0M1629.8 311.8h0M1356.3 261.1h0M1521.4 311.1h0M1429.0 297.2h0M1518.1 309.3h0M1395.2 289.4h0M1518.3 306.2h0M1418.9 292.9h0M1492.6 312.4h0M1558.6 311.7h0M1453.4 307.1h0M1604.4 311.1h0M1440.1 304.1h0M1578.0 311.9h0M1375.3 267.9h0M1371.4 295.3h0M1382.4 288.1h0M1518.5 308.9h0M1470.3 304.9h0M1357.4 245.7h0M1451.7 304.4h0M1386.1 291.3h0M1411.3 293.4h0M1371.0 264.8h0M1638.4 312.4h0M1362.4 246.8h0M1486.9 310.2h0M1504.6 309.3h0M1371.3 269.7h0M1404.2 286.6h0M1372.1 266.0h0M1488.6 311.4h0M1582.5 310.7h0M1373.0 265.7h0M1360.1 285.4h0M1357.9 232.6h0M1360.3 257.1h0M1510.7 311.4h0M1563.3 310.8h0M1410.0 289.8h0M1383.6 285.1h0M1428.1 301.8h0M1398.7 301.7h0M1517.1 306.6h0M1629.5 312.6h0M1578.3 312.3h0M1386.9 285.3h0M1619.6 312.0h0M1535.9 311.5h0M1459.3 308.4h0M1379.3 276.0h0M1624.5 311.8h0M1543.6 312.6h0M1485.7 312.3h0M1495.2 311.2h0M1583.5 312.2h0M1357.5 253.8h0M1359.7 251.1h0M1357.0 261.4h0M1359.3 208.9h0M1358.5 260.0h0M1358.4 218.8h0M1356.9 266.9h0M1360.8 257.6h0M1356.6 276.2h0M1746.0 311.7h0M1389.8 270.7h0"/>
<path stroke="#d384ba" stroke-opacity="0.92" d="M1381.5 243.2h0M1617.5 308.7h0M1376.6 261.7h0M1375.7 257.8h0M1546.8 308.6h0M1543.4 309.4h0M1481.4 305.9h0M1514.5 306.7h0M1356.5 228.8h0M1362.7 277.1h0M1363.2 221.1h0M1363.7 213.4h0M1368.5 266.5h0M1362.8 235.7h0M1357.2 208.8h0M1358.6 226.5h0M1358.2 229.5h0M1377.7 230.3h0M1389.8 265.1h0"/>
<path stroke="#e287c6" stroke-opacity="0.91" d="M1638.5 306.3h0M1589.4 307.3h0M1607.2 307.5h0M1436.1 293.4h0M1395.4 252.2h0M1373.3 233.6h0M1378.6 242.0h0M1370.3 207.7h0"/>
<path stroke="#f08ad1" stroke-opacity="0.89" d="M1465.2 298.8h0M1403.5 272.7h0M1461.1 301.7h0M1357.2 257.8h0M1382.4 242.5h0M1402.3 262.0h0M1414.1 274.8h0"/>
<path stroke="#ff8cdc" stroke-opacity="0.88" d="M1503.7 300.9h0M1525.9 300.9h0M1437.9 285.7h0M1363.2 173.2h0M1364.4 173.2h0M1363.5 173.2h0M1363.1 173.2h0M1365.3 164.5h0M1359.1 164.5h0M1359.7 164.5h0M1365.2 164.5h0M1359.8 155.8h0M1362.7 155.8h0M1363.6 155.8h0M1359.5 136.7h0M1367.9 147.1h0M1357.8 148.9h0M1386.5 161.0h0M1393.2 169.7h0M1379.7 176.7h0M1386.5 176.7h0M1394.9 176.7h0M1442.2 196.9h0M1421.9 204.5h0M1405.0 202.8h0M1386.5 211.5h0M1457.4 260.2h0M1494.5 268.9h0M1501.2 284.6h0M1543.4 286.3h0M1474.2 286.3h0M1611.0 298.5h0M1732.5 282.8h0M1639.7 298.5h0M1379.7 195.1h0M1412.5 239.0h0M1402.0 243.5h0M1400.0 248.7h0M1420.6 259.2h0"/>
</g>
<path d="M1495.2 379.2L1523.8 396.7" stroke="#231f20" stroke-width="1.1" fill="none"/>
<text x="1529.4" y="412.4" font-family="'Liberation Sans', sans-serif" font-size="34.3" font-weight="bold" font-style="italic" fill="#231f20">Fmr1</text>
<rect x="1339.2" y="89.7" width="557.2" height="452.6" fill="none" stroke="#000" stroke-width="1.2"/>
<path d="M1333.7 542.1H1339.2M1333.7 507.3H1339.2M1333.7 472.5H1339.2M1333.7 437.7H1339.2M1333.7 402.9H1339.2M1333.7 368.1H1339.2M1333.7 333.3H1339.2M1333.7 298.5H1339.2M1333.7 263.7H1339.2M1333.7 228.9H1339.2M1333.7 194.1H1339.2M1333.7 159.3H1339.2M1333.7 124.5H1339.2M1339.2 542.3V547.8M1373.0 542.3V547.8M1406.7 542.3V547.8M1440.5 542.3V547.8M1474.2 542.3V547.8M1508.0 542.3V547.8M1541.8 542.3V547.8M1575.5 542.3V547.8M1609.3 542.3V547.8M1643.0 542.3V547.8M1676.8 542.3V547.8M1710.6 542.3V547.8M1744.3 542.3V547.8M1778.1 542.3V547.8M1811.8 542.3V547.8M1845.6 542.3V547.8M1879.4 542.3V547.8" stroke="#000" stroke-width="1.2" fill="none"/>
<g font-family="'Liberation Sans', sans-serif" font-size="14" fill="#000">
<g text-anchor="end">
<text x="1327.2" y="547.1">−6.5</text>
<text x="1327.2" y="512.3">−5.5</text>
<text x="1327.2" y="477.5">−4.5</text>
<text x="1327.2" y="442.7">−3.5</text>
<text x="1327.2" y="407.9">−2.5</text>
<text x="1327.2" y="373.1">−1.5</text>
<text x="1327.2" y="338.3">−0.5</text>
<text x="1327.2" y="303.5">0.5</text>
<text x="1327.2" y="268.7">1.5</text>
<text x="1327.2" y="233.9">2.5</text>
<text x="1327.2" y="199.1">3.5</text>
<text x="1327.2" y="164.3">4.5</text>
<text x="1327.2" y="129.5">5.5</text>
</g><g text-anchor="middle">
<text x="1339.2" y="564.8">−0.5</text>
<text x="1373.0" y="564.8">0.5</text>
<text x="1406.7" y="564.8">1.5</text>
<text x="1440.5" y="564.8">2.5</text>
<text x="1474.2" y="564.8">3.5</text>
<text x="1508.0" y="564.8">4.5</text>
<text x="1541.8" y="564.8">5.5</text>
<text x="1575.5" y="564.8">6.5</text>
<text x="1609.3" y="564.8">7.5</text>
<text x="1643.0" y="564.8">8.5</text>
<text x="1676.8" y="564.8">9.5</text>
<text x="1710.6" y="564.8">10.5</text>
<text x="1744.3" y="564.8">11.5</text>
<text x="1778.1" y="564.8">12.5</text>
<text x="1811.8" y="564.8">13.5</text>
<text x="1845.6" y="564.8">14.5</text>
<text x="1879.4" y="564.8">15.5</text>
</g></g>
<text x="1354.9" y="606.8" font-family="'Liberation Sans', sans-serif" font-size="34.45" fill="#231f20">Log<tspan font-size="20" dx="0.6" dy="11.4">2</tspan><tspan dy="-11.4" dx="-0.4"> Mean Expression (TPM+1)</tspan></text>
<text x="1889.3" y="124.8" text-anchor="end" font-family="'Liberation Sans', sans-serif" font-size="31" font-weight="bold" fill="#e88ab2">Female <tspan font-style="italic">Fmr1</tspan>-KO</text>
<text x="1888.8" y="528.6" text-anchor="end" font-family="'Liberation Sans', sans-serif" font-size="31" font-weight="bold" fill="#8c1c54">Female WT</text>
</g>
<text transform="translate(27.8 475.4) rotate(-90)" font-family="'Liberation Sans', sans-serif" font-size="37.6" fill="#231f20">Log<tspan font-size="21" dy="13.4">2</tspan><tspan dy="-13.4"> Fold Change</tspan></text>
<text x="13.3" y="32.4" font-family="'Liberation Sans', sans-serif" font-size="52.5" font-weight="bold" fill="#231f20">a</text>
<text x="677.4" y="37.2" font-family="'Liberation Sans', sans-serif" font-size="53.5" font-weight="bold" fill="#231f20">b</text>
<text x="1303.6" y="32.3" font-family="'Liberation Sans', sans-serif" font-size="53" font-weight="bold" fill="#231f20">c</text>
</svg>
</body></html>
